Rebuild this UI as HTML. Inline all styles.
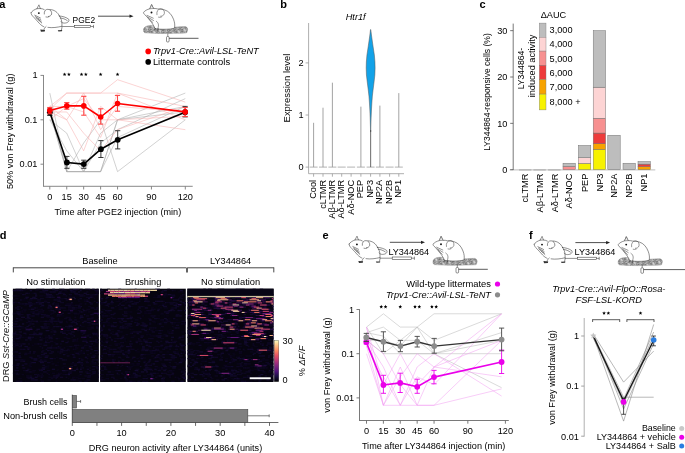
<!DOCTYPE html>
<html><head><meta charset="utf-8"><style>
html,body{margin:0;padding:0;background:#fff;}
svg{display:block;font-family:"Liberation Sans", sans-serif;will-change:transform;}
</style></head><body>
<svg width="685" height="453" viewBox="0 0 685 453">
<rect width="685" height="453" fill="#fff"/>
<defs><pattern id="mesh" width="6.0" height="6.0" patternUnits="userSpaceOnUse" patternTransform="rotate(-15)"><rect width="6.0" height="6.0" fill="#e0e0e0"/><rect x="0.00" y="0.00" width="0.75" height="0.75" fill="#444"/><rect x="0.00" y="0.75" width="0.75" height="0.75" fill="#666"/><rect x="0.00" y="2.25" width="0.75" height="0.75" fill="#333"/><rect x="0.00" y="3.75" width="0.75" height="0.75" fill="#444"/><rect x="0.00" y="4.50" width="0.75" height="0.75" fill="#666"/><rect x="0.00" y="5.25" width="0.75" height="0.75" fill="#666"/><rect x="0.75" y="0.00" width="0.75" height="0.75" fill="#444"/><rect x="0.75" y="0.75" width="0.75" height="0.75" fill="#444"/><rect x="0.75" y="2.25" width="0.75" height="0.75" fill="#333"/><rect x="0.75" y="3.75" width="0.75" height="0.75" fill="#333"/><rect x="0.75" y="4.50" width="0.75" height="0.75" fill="#333"/><rect x="1.50" y="0.00" width="0.75" height="0.75" fill="#666"/><rect x="1.50" y="2.25" width="0.75" height="0.75" fill="#666"/><rect x="1.50" y="3.75" width="0.75" height="0.75" fill="#555"/><rect x="1.50" y="4.50" width="0.75" height="0.75" fill="#444"/><rect x="1.50" y="5.25" width="0.75" height="0.75" fill="#555"/><rect x="2.25" y="0.75" width="0.75" height="0.75" fill="#555"/><rect x="2.25" y="1.50" width="0.75" height="0.75" fill="#666"/><rect x="2.25" y="3.00" width="0.75" height="0.75" fill="#666"/><rect x="3.00" y="3.00" width="0.75" height="0.75" fill="#555"/><rect x="3.75" y="0.75" width="0.75" height="0.75" fill="#555"/><rect x="3.75" y="1.50" width="0.75" height="0.75" fill="#333"/><rect x="3.75" y="2.25" width="0.75" height="0.75" fill="#666"/><rect x="3.75" y="3.00" width="0.75" height="0.75" fill="#333"/><rect x="3.75" y="3.75" width="0.75" height="0.75" fill="#444"/><rect x="3.75" y="4.50" width="0.75" height="0.75" fill="#666"/><rect x="4.50" y="0.75" width="0.75" height="0.75" fill="#333"/><rect x="4.50" y="1.50" width="0.75" height="0.75" fill="#555"/><rect x="4.50" y="3.75" width="0.75" height="0.75" fill="#444"/><rect x="4.50" y="5.25" width="0.75" height="0.75" fill="#333"/><rect x="5.25" y="0.00" width="0.75" height="0.75" fill="#333"/><rect x="5.25" y="2.25" width="0.75" height="0.75" fill="#555"/><rect x="5.25" y="3.00" width="0.75" height="0.75" fill="#333"/><rect x="5.25" y="4.50" width="0.75" height="0.75" fill="#555"/></pattern></defs>
<text x="-0.8" y="7.9" font-size="11.00" text-anchor="start" fill="#000" style="font-weight:bold;">a</text>
<g transform="translate(30.45 5.0) scale(1.0)">
<path d="M6.4,3.7 L8.5,-0.2 L9.9,3.5 Z" fill="#f4f4f4" stroke="#333" stroke-width="0.5" stroke-linejoin="round"/>
<g fill="none" stroke="#333" stroke-width="0.55" stroke-linecap="round" stroke-linejoin="round">
<path d="M0.6,7.7 C1.5,6 4,4.5 6.4,3.7 M9.9,3.5 C11.5,3.6 12.8,4 13.8,4.6"/>
<path d="M13.8,9 C13.5,6 15,4.3 17.5,4.3 C20,4.5 21.5,6.5 21.2,9 C20.8,10.5 19.5,11.3 18,11.5"/>
<path d="M19.5,4.5 C24,4.6 27.5,7.5 29,11"/>
<path d="M28.8,11 C32,11.2 36,12.3 38.3,14.3 C39.2,16.3 37.3,18 34,18.1 C32.5,18.1 31.2,17.6 30.6,16.7 M29.8,13 C32,13 35,14.2 36.8,15.6"/>
<path d="M29,11 C30.6,13 31.5,16 31.5,19.2 L31.5,22.5 L31,25"/>
<path d="M31.3,21.3 C27,22.3 22,23.1 17.5,22.4"/>
<path d="M15.6,21.5 C14.2,22.6 13.6,23.7 13.4,25.2"/>
<path d="M0.6,7.7 C0.4,9.3 1.8,10.8 3.2,12.1 C5,14 7,16.2 9,18.5 C10.7,20.3 12.2,21.2 13.5,21.8"/>
<path d="M4.3,10.2 L10,13 M4.8,11.6 L10.5,15 M5.8,13 L10.8,16.7 M7.5,14.5 L11.3,18"/>
<path d="M15.5,12 C16.5,12.3 17.5,12.2 18.5,11.8"/>
</g>
<circle cx="8.4" cy="8.1" r="0.95" fill="#111"/>
<path d="M9.8,24.6 L14.6,25 L14.3,26.5 L10.5,26.7 Z M27.3,25.2 L31.8,25.1 L31.5,26.3 L28,26.5 Z" fill="#333"/>
</g>
<g transform="translate(62.2 26.5) scale(1.0)" fill="none" stroke="#333" stroke-width="0.55"><line x1="0" y1="0" x2="12.1" y2="0"/><rect x="12.1" y="-1.2" width="16.4" height="2.4" fill="#fff"/><line x1="28.5" y1="0" x2="31.3" y2="0"/><line x1="31.3" y1="-1.6" x2="31.3" y2="1.6"/></g>
<text x="72.6" y="22.7" font-size="9.63" text-anchor="start" fill="#000" style="" textLength="22.5" lengthAdjust="spacingAndGlyphs">PGE2</text>
<line x1="98" y1="16.2" x2="130.5" y2="16.2" stroke="#222" stroke-width="0.8"/>
<path d="M133.5,16.2 L129.5,14.6 L129.5,17.8 Z" fill="#222"/>
<g transform="translate(143.3 4.2) scale(1.0)"><path d="M0.5,24 C2,21.5 6,21 10,21.3 C14,21.6 18,23.5 24,23.8 C30,23.2 36,22.2 42,22.4 C44.5,23 44.8,25.5 44,27 C43.5,28 44,28.6 42.5,28.8 C30,29.4 12,29.6 1.5,28.6 C-0.3,27.8 0,25.5 0.5,24 Z" fill="url(#mesh)" stroke="#666" stroke-width="0.3"/>
<path d="M0.3,8.1 C1.5,6.5 4,5.2 6.5,4.6 L8.3,0.4 L10.2,4.3 C12,4.2 13.5,4.4 14.5,4.8 C17,4.6 19.5,5 21.5,5.8 C25.5,7 28.5,10.5 30.2,15 C31.5,18.5 31.7,21 31.2,24 L27,24.8 C22,25.2 17,25.2 13,24.6 L11.5,24 C10.8,22 9.8,20.5 8.2,18.2 C6.2,15.6 4,13 2,10.8 C1,10.2 0.1,9.2 0.3,8.1 Z" fill="#fff" stroke="#333" stroke-width="0.55" stroke-linejoin="round"/>
<path d="M6.5,4.6 L8.3,0.4 L10.2,4.3 Z" fill="#eee" stroke="#333" stroke-width="0.45" stroke-linejoin="round"/>
<g fill="none" stroke="#333" stroke-width="0.5" stroke-linecap="round" stroke-linejoin="round">
<path d="M13.6,10.5 C13,7.2 14.6,4.8 17.5,4.7 C20.4,4.8 21.5,7 21,9.5 C20.5,11.3 19,12 17.4,12"/>
<path d="M3.8,11.2 L10,14 M4.3,12.7 L10.2,16.3 M5.3,14.2 L9.5,18.3"/>
<path d="M13,17 C15,18.5 16,20.5 14.5,24.5"/>
<path d="M12,24.3 L11,26 M15,24.6 L14.5,26.3"/>
<path d="M15.2,13 C16.2,13.3 17.2,13.2 18.2,12.8"/>
</g>
<circle cx="8.2" cy="8.3" r="0.95" fill="#111"/>
</g>
<g fill="none" stroke="#333" stroke-width="0.55"><line x1="167.8" y1="33.5" x2="167.8" y2="36.5"/><rect x="166.5" y="36.5" width="2.6" height="5.5" rx="1" fill="#fff"/><line x1="169.10000000000002" y1="38.3" x2="198.5" y2="38.3" stroke-width="0.8"/></g>
<circle cx="148.2" cy="51.4" r="2.8" fill="#ff0000"/>
<text x="152.9" y="54.4" font-size="9.84" text-anchor="start" fill="#000" style="font-style:italic;" textLength="105.9" lengthAdjust="spacingAndGlyphs">Trpv1-Cre::Avil-LSL-TeNT</text>
<circle cx="148.2" cy="61.9" r="2.8" fill="#000"/>
<text x="152.9" y="65.1" font-size="9.84" text-anchor="start" fill="#000" style="" textLength="77.2" lengthAdjust="spacingAndGlyphs">Littermate controls</text>
<line x1="43.50" y1="75.00" x2="43.50" y2="186.30" stroke="#7a7a7a" stroke-width="0.9" />
<line x1="43.05" y1="186.30" x2="192.70" y2="186.30" stroke="#7a7a7a" stroke-width="0.9" />
<line x1="40.50" y1="75.40" x2="43.50" y2="75.40" stroke="#7a7a7a" stroke-width="0.9" />
<text x="37.5" y="78.30000000000001" font-size="9.84" text-anchor="end" fill="#000" style="" textLength="5.12" lengthAdjust="spacingAndGlyphs">1</text>
<line x1="40.50" y1="119.80" x2="43.50" y2="119.80" stroke="#7a7a7a" stroke-width="0.9" />
<text x="37.5" y="122.70000000000002" font-size="9.84" text-anchor="end" fill="#000" style="" textLength="12.79" lengthAdjust="spacingAndGlyphs">0.1</text>
<line x1="40.50" y1="164.20" x2="43.50" y2="164.20" stroke="#7a7a7a" stroke-width="0.9" />
<text x="37.5" y="167.1" font-size="9.84" text-anchor="end" fill="#000" style="" textLength="17.9" lengthAdjust="spacingAndGlyphs">0.01</text>
<line x1="49.80" y1="186.30" x2="49.80" y2="189.50" stroke="#7a7a7a" stroke-width="0.9" />
<text x="49.8" y="200.0" font-size="9.84" text-anchor="middle" fill="#000" style="" textLength="5.12" lengthAdjust="spacingAndGlyphs">0</text>
<line x1="66.74" y1="186.30" x2="66.74" y2="189.50" stroke="#7a7a7a" stroke-width="0.9" />
<text x="66.7375" y="200.0" font-size="9.84" text-anchor="middle" fill="#000" style="" textLength="10.23" lengthAdjust="spacingAndGlyphs">15</text>
<line x1="83.67" y1="186.30" x2="83.67" y2="189.50" stroke="#7a7a7a" stroke-width="0.9" />
<text x="83.675" y="200.0" font-size="9.84" text-anchor="middle" fill="#000" style="" textLength="10.23" lengthAdjust="spacingAndGlyphs">30</text>
<line x1="100.61" y1="186.30" x2="100.61" y2="189.50" stroke="#7a7a7a" stroke-width="0.9" />
<text x="100.6125" y="200.0" font-size="9.84" text-anchor="middle" fill="#000" style="" textLength="10.23" lengthAdjust="spacingAndGlyphs">45</text>
<line x1="117.55" y1="186.30" x2="117.55" y2="189.50" stroke="#7a7a7a" stroke-width="0.9" />
<text x="117.55" y="200.0" font-size="9.84" text-anchor="middle" fill="#000" style="" textLength="10.23" lengthAdjust="spacingAndGlyphs">60</text>
<line x1="151.43" y1="186.30" x2="151.43" y2="189.50" stroke="#7a7a7a" stroke-width="0.9" />
<text x="151.425" y="200.0" font-size="9.84" text-anchor="middle" fill="#000" style="" textLength="10.23" lengthAdjust="spacingAndGlyphs">90</text>
<line x1="185.30" y1="186.30" x2="185.30" y2="189.50" stroke="#7a7a7a" stroke-width="0.9" />
<text x="185.3" y="200.0" font-size="9.84" text-anchor="middle" fill="#000" style="" textLength="15.35" lengthAdjust="spacingAndGlyphs">120</text>
<text x="54.6" y="214.8" font-size="9.84" text-anchor="start" fill="#000" style="" textLength="126.6" lengthAdjust="spacingAndGlyphs">Time after PGE2 injection (min)</text>
<text x="13.4" y="131.3" font-size="9.84" text-anchor="middle" fill="#000" style="" transform="rotate(-90 13.4 131.3)" textLength="115.5" lengthAdjust="spacingAndGlyphs">50% von Frey withdrawal (g)</text>
<polygon points="64.59,72.45 65.09,73.71 66.44,73.80 65.40,74.66 65.73,75.98 64.59,75.25 63.44,75.98 63.78,74.66 62.73,73.80 64.09,73.71" fill="#000"/>
<polygon points="68.89,72.45 69.39,73.71 70.74,73.80 69.70,74.66 70.03,75.98 68.89,75.25 67.74,75.98 68.08,74.66 67.03,73.80 68.39,73.71" fill="#000"/>
<polygon points="81.52,72.45 82.02,73.71 83.38,73.80 82.33,74.66 82.67,75.98 81.52,75.25 80.38,75.98 80.72,74.66 79.67,73.80 81.03,73.71" fill="#000"/>
<polygon points="85.83,72.45 86.32,73.71 87.68,73.80 86.63,74.66 86.97,75.98 85.83,75.25 84.68,75.98 85.02,74.66 83.97,73.80 85.33,73.71" fill="#000"/>
<polygon points="100.61,72.45 101.11,73.71 102.47,73.80 101.42,74.66 101.76,75.98 100.61,75.25 99.47,75.98 99.80,74.66 98.76,73.80 100.11,73.71" fill="#000"/>
<polygon points="117.55,72.45 118.05,73.71 119.40,73.80 118.36,74.66 118.70,75.98 117.55,75.25 116.40,75.98 116.74,74.66 115.70,73.80 117.05,73.71" fill="#000"/>
<polyline points="49.80,93.07 66.74,171.64 83.67,171.64 100.61,171.64 117.55,119.80 185.30,93.07" fill="none" stroke="#a5a5a5" stroke-width="0.5" stroke-linejoin="round" />
<polyline points="49.80,111.98 66.74,171.64 83.67,171.64 100.61,133.17 117.55,119.80 185.30,106.43" fill="none" stroke="#a5a5a5" stroke-width="0.5" stroke-linejoin="round" />
<polyline points="49.80,119.80 66.74,133.17 83.67,171.64 100.61,171.64 117.55,137.47 185.30,106.43" fill="none" stroke="#a5a5a5" stroke-width="0.5" stroke-linejoin="round" />
<polyline points="49.80,106.43 66.74,171.64 83.67,143.02 100.61,119.80 117.55,171.64 185.30,119.80" fill="none" stroke="#a5a5a5" stroke-width="0.5" stroke-linejoin="round" />
<polyline points="49.80,111.98 66.74,171.64 83.67,171.64 100.61,171.64 117.55,119.80 185.30,111.98" fill="none" stroke="#a5a5a5" stroke-width="0.5" stroke-linejoin="round" />
<polyline points="49.80,119.80 66.74,150.83 83.67,171.64 100.61,143.02 117.55,129.65 185.30,98.62" fill="none" stroke="#a5a5a5" stroke-width="0.5" stroke-linejoin="round" />
<polyline points="49.80,106.43 66.74,93.07 83.67,93.07 100.61,93.07 117.55,93.07 185.30,106.43" fill="none" stroke="#f8b0b0" stroke-width="0.55" stroke-linejoin="round" />
<polyline points="49.80,109.57 66.74,93.07 83.67,93.07 100.61,93.07 117.55,79.70 185.30,102.13" fill="none" stroke="#f8b0b0" stroke-width="0.55" stroke-linejoin="round" />
<polyline points="49.80,111.98 66.74,119.80 83.67,93.07 100.61,129.65 117.55,106.43 185.30,111.98" fill="none" stroke="#f8b0b0" stroke-width="0.55" stroke-linejoin="round" />
<polyline points="49.80,106.43 66.74,106.43 83.67,111.98 100.61,137.47 117.55,93.07 185.30,119.80" fill="none" stroke="#f8b0b0" stroke-width="0.55" stroke-linejoin="round" />
<polyline points="49.80,119.80 66.74,106.43 83.67,98.62 100.61,119.80 117.55,119.80 185.30,129.65" fill="none" stroke="#f8b0b0" stroke-width="0.55" stroke-linejoin="round" />
<polyline points="49.80,111.98 66.74,111.98 83.67,133.17 100.61,150.83 117.55,129.65 185.30,106.43" fill="none" stroke="#f8b0b0" stroke-width="0.55" stroke-linejoin="round" />
<polyline points="49.80,106.43 66.74,119.80 83.67,150.83 100.61,106.43 117.55,119.80 185.30,116.28" fill="none" stroke="#f8b0b0" stroke-width="0.55" stroke-linejoin="round" />
<line x1="49.80" y1="109.00" x2="49.80" y2="115.50" stroke="#222" stroke-width="0.9" />
<line x1="47.20" y1="109.00" x2="52.40" y2="109.00" stroke="#222" stroke-width="0.9" />
<line x1="47.20" y1="115.50" x2="52.40" y2="115.50" stroke="#222" stroke-width="0.9" />
<line x1="66.90" y1="156.40" x2="66.90" y2="168.30" stroke="#222" stroke-width="0.9" />
<line x1="64.30" y1="156.40" x2="69.50" y2="156.40" stroke="#222" stroke-width="0.9" />
<line x1="64.30" y1="168.30" x2="69.50" y2="168.30" stroke="#222" stroke-width="0.9" />
<line x1="83.80" y1="160.20" x2="83.80" y2="168.30" stroke="#222" stroke-width="0.9" />
<line x1="81.20" y1="160.20" x2="86.40" y2="160.20" stroke="#222" stroke-width="0.9" />
<line x1="81.20" y1="168.30" x2="86.40" y2="168.30" stroke="#222" stroke-width="0.9" />
<line x1="100.90" y1="140.60" x2="100.90" y2="157.50" stroke="#222" stroke-width="0.9" />
<line x1="98.30" y1="140.60" x2="103.50" y2="140.60" stroke="#222" stroke-width="0.9" />
<line x1="98.30" y1="157.50" x2="103.50" y2="157.50" stroke="#222" stroke-width="0.9" />
<line x1="117.70" y1="130.70" x2="117.70" y2="148.90" stroke="#222" stroke-width="0.9" />
<line x1="115.10" y1="130.70" x2="120.30" y2="130.70" stroke="#222" stroke-width="0.9" />
<line x1="115.10" y1="148.90" x2="120.30" y2="148.90" stroke="#222" stroke-width="0.9" />
<line x1="185.10" y1="106.40" x2="185.10" y2="116.90" stroke="#222" stroke-width="0.9" />
<line x1="182.50" y1="106.40" x2="187.70" y2="106.40" stroke="#222" stroke-width="0.9" />
<line x1="182.50" y1="116.90" x2="187.70" y2="116.90" stroke="#222" stroke-width="0.9" />
<polyline points="49.80,112.30 66.90,162.50 83.80,164.10 100.90,149.20 117.70,139.80 185.10,112.20" fill="none" stroke="#000" stroke-width="1.6" stroke-linejoin="round" />
<circle cx="49.8" cy="112.3" r="2.9" fill="#000"/>
<circle cx="66.9" cy="162.5" r="2.9" fill="#000"/>
<circle cx="83.8" cy="164.1" r="2.9" fill="#000"/>
<circle cx="100.9" cy="149.2" r="2.9" fill="#000"/>
<circle cx="117.7" cy="139.8" r="2.9" fill="#000"/>
<circle cx="185.1" cy="112.2" r="2.9" fill="#000"/>
<line x1="49.80" y1="107.50" x2="49.80" y2="113.80" stroke="#ff4545" stroke-width="1.1" />
<line x1="47.20" y1="107.50" x2="52.40" y2="107.50" stroke="#ff4545" stroke-width="1.1" />
<line x1="47.20" y1="113.80" x2="52.40" y2="113.80" stroke="#ff4545" stroke-width="1.1" />
<line x1="66.80" y1="102.60" x2="66.80" y2="109.20" stroke="#ff4545" stroke-width="1.1" />
<line x1="64.20" y1="102.60" x2="69.40" y2="102.60" stroke="#ff4545" stroke-width="1.1" />
<line x1="64.20" y1="109.20" x2="69.40" y2="109.20" stroke="#ff4545" stroke-width="1.1" />
<line x1="83.80" y1="96.30" x2="83.80" y2="115.20" stroke="#ff4545" stroke-width="1.1" />
<line x1="81.20" y1="96.30" x2="86.40" y2="96.30" stroke="#ff4545" stroke-width="1.1" />
<line x1="81.20" y1="115.20" x2="86.40" y2="115.20" stroke="#ff4545" stroke-width="1.1" />
<line x1="100.70" y1="108.80" x2="100.70" y2="124.10" stroke="#ff4545" stroke-width="1.1" />
<line x1="98.10" y1="108.80" x2="103.30" y2="108.80" stroke="#ff4545" stroke-width="1.1" />
<line x1="98.10" y1="124.10" x2="103.30" y2="124.10" stroke="#ff4545" stroke-width="1.1" />
<line x1="117.50" y1="95.40" x2="117.50" y2="111.20" stroke="#ff4545" stroke-width="1.1" />
<line x1="114.90" y1="95.40" x2="120.10" y2="95.40" stroke="#ff4545" stroke-width="1.1" />
<line x1="114.90" y1="111.20" x2="120.10" y2="111.20" stroke="#ff4545" stroke-width="1.1" />
<line x1="185.20" y1="107.50" x2="185.20" y2="116.50" stroke="#ff4545" stroke-width="1.1" />
<line x1="182.60" y1="107.50" x2="187.80" y2="107.50" stroke="#ff4545" stroke-width="1.1" />
<line x1="182.60" y1="116.50" x2="187.80" y2="116.50" stroke="#ff4545" stroke-width="1.1" />
<polyline points="49.80,110.60 66.80,105.90 83.80,105.90 100.70,117.00 117.50,103.50 185.20,111.90" fill="none" stroke="#ff0000" stroke-width="1.6" stroke-linejoin="round" />
<circle cx="49.8" cy="110.6" r="2.8" fill="#ff0000"/>
<circle cx="66.8" cy="105.9" r="2.8" fill="#ff0000"/>
<circle cx="83.8" cy="105.9" r="2.8" fill="#ff0000"/>
<circle cx="100.7" cy="117" r="2.8" fill="#ff0000"/>
<circle cx="117.5" cy="103.5" r="2.8" fill="#ff0000"/>
<circle cx="185.2" cy="111.9" r="2.8" fill="#ff0000"/>
<text x="280.3" y="7.6" font-size="11.00" text-anchor="start" fill="#000" style="font-weight:bold;">b</text>
<text x="355.7" y="20.3" font-size="9.84" text-anchor="middle" fill="#000" style="font-style:italic;" textLength="19.94" lengthAdjust="spacingAndGlyphs">Htr1f</text>
<line x1="308.60" y1="23.00" x2="308.60" y2="173.70" stroke="#999" stroke-width="0.8" />
<line x1="308.60" y1="173.70" x2="404.00" y2="173.70" stroke="#999" stroke-width="0.8" />
<line x1="305.60" y1="167.10" x2="308.60" y2="167.10" stroke="#999" stroke-width="0.8" />
<text x="303.5" y="170.4" font-size="9.84" text-anchor="end" fill="#000" style="" textLength="5.12" lengthAdjust="spacingAndGlyphs">0</text>
<line x1="305.60" y1="115.00" x2="308.60" y2="115.00" stroke="#999" stroke-width="0.8" />
<text x="303.5" y="118.3" font-size="9.84" text-anchor="end" fill="#000" style="" textLength="5.12" lengthAdjust="spacingAndGlyphs">1</text>
<line x1="305.60" y1="62.90" x2="308.60" y2="62.90" stroke="#999" stroke-width="0.8" />
<text x="303.5" y="66.19999999999999" font-size="9.84" text-anchor="end" fill="#000" style="" textLength="5.12" lengthAdjust="spacingAndGlyphs">2</text>
<text x="289.8" y="88" font-size="9.84" text-anchor="middle" fill="#000" style="" transform="rotate(-90 289.8 88)" textLength="68.8" lengthAdjust="spacingAndGlyphs">Expression level</text>
<line x1="313.60" y1="173.70" x2="313.60" y2="176.70" stroke="#999" stroke-width="0.8" />
<line x1="309.60" y1="167.10" x2="317.60" y2="167.10" stroke="#aaa" stroke-width="0.9" />
<line x1="313.60" y1="167.10" x2="313.60" y2="122.81" stroke="#999" stroke-width="0.9" />
<text x="316.20000000000005" y="179.9" font-size="9.84" text-anchor="end" fill="#000" style="" transform="rotate(-90 316.20000000000005 179.9)" textLength="18.92" lengthAdjust="spacingAndGlyphs">Cool</text>
<line x1="323.00" y1="173.70" x2="323.00" y2="176.70" stroke="#999" stroke-width="0.8" />
<line x1="319.00" y1="167.10" x2="327.00" y2="167.10" stroke="#aaa" stroke-width="0.9" />
<line x1="323.00" y1="167.10" x2="323.00" y2="107.71" stroke="#999" stroke-width="0.9" />
<text x="325.6" y="179.9" font-size="9.84" text-anchor="end" fill="#000" style="" transform="rotate(-90 325.6 179.9)" textLength="28.96" lengthAdjust="spacingAndGlyphs">cLTMR</text>
<line x1="332.40" y1="173.70" x2="332.40" y2="176.70" stroke="#999" stroke-width="0.8" />
<line x1="328.40" y1="167.10" x2="336.40" y2="167.10" stroke="#aaa" stroke-width="0.9" />
<line x1="332.40" y1="167.10" x2="332.40" y2="82.70" stroke="#999" stroke-width="0.9" />
<text x="335.0" y="179.9" font-size="9.84" text-anchor="end" fill="#000" style="" transform="rotate(-90 335.0 179.9)" textLength="38.85" lengthAdjust="spacingAndGlyphs">A&#946;-LTMR</text>
<line x1="341.70" y1="173.70" x2="341.70" y2="176.70" stroke="#999" stroke-width="0.8" />
<line x1="337.70" y1="167.10" x2="345.70" y2="167.10" stroke="#aaa" stroke-width="0.9" />
<text x="344.3" y="179.9" font-size="9.84" text-anchor="end" fill="#000" style="" transform="rotate(-90 344.3 179.9)" textLength="38.68" lengthAdjust="spacingAndGlyphs">A&#948;-LTMR</text>
<line x1="351.10" y1="173.70" x2="351.10" y2="176.70" stroke="#999" stroke-width="0.8" />
<line x1="347.10" y1="167.10" x2="355.10" y2="167.10" stroke="#aaa" stroke-width="0.9" />
<text x="353.70000000000005" y="179.9" font-size="9.84" text-anchor="end" fill="#000" style="" transform="rotate(-90 353.70000000000005 179.9)" textLength="34.77" lengthAdjust="spacingAndGlyphs">A&#948;-NOC</text>
<line x1="360.90" y1="173.70" x2="360.90" y2="176.70" stroke="#999" stroke-width="0.8" />
<line x1="356.90" y1="167.10" x2="364.90" y2="167.10" stroke="#aaa" stroke-width="0.9" />
<line x1="360.90" y1="167.10" x2="360.90" y2="106.66" stroke="#999" stroke-width="0.9" />
<text x="363.5" y="179.9" font-size="9.84" text-anchor="end" fill="#000" style="" transform="rotate(-90 363.5 179.9)" textLength="18.41" lengthAdjust="spacingAndGlyphs">PEP</text>
<line x1="370.60" y1="173.70" x2="370.60" y2="176.70" stroke="#999" stroke-width="0.8" />
<line x1="366.60" y1="167.10" x2="374.60" y2="167.10" stroke="#aaa" stroke-width="0.9" />
<text x="373.20000000000005" y="179.9" font-size="9.84" text-anchor="end" fill="#000" style="" transform="rotate(-90 373.20000000000005 179.9)" textLength="17.9" lengthAdjust="spacingAndGlyphs">NP3</text>
<line x1="379.90" y1="173.70" x2="379.90" y2="176.70" stroke="#999" stroke-width="0.8" />
<line x1="375.90" y1="167.10" x2="383.90" y2="167.10" stroke="#aaa" stroke-width="0.9" />
<line x1="379.90" y1="167.10" x2="379.90" y2="105.62" stroke="#999" stroke-width="0.9" />
<text x="382.5" y="179.9" font-size="9.84" text-anchor="end" fill="#000" style="" transform="rotate(-90 382.5 179.9)" textLength="24.03" lengthAdjust="spacingAndGlyphs">NP2A</text>
<line x1="389.60" y1="173.70" x2="389.60" y2="176.70" stroke="#999" stroke-width="0.8" />
<line x1="385.60" y1="167.10" x2="393.60" y2="167.10" stroke="#aaa" stroke-width="0.9" />
<text x="392.20000000000005" y="179.9" font-size="9.84" text-anchor="end" fill="#000" style="" transform="rotate(-90 392.20000000000005 179.9)" textLength="24.03" lengthAdjust="spacingAndGlyphs">NP2B</text>
<line x1="398.80" y1="173.70" x2="398.80" y2="176.70" stroke="#999" stroke-width="0.8" />
<line x1="394.80" y1="167.10" x2="402.80" y2="167.10" stroke="#aaa" stroke-width="0.9" />
<line x1="398.80" y1="167.10" x2="398.80" y2="93.12" stroke="#999" stroke-width="0.9" />
<text x="401.40000000000003" y="179.9" font-size="9.84" text-anchor="end" fill="#000" style="" transform="rotate(-90 401.40000000000003 179.9)" textLength="17.9" lengthAdjust="spacingAndGlyphs">NP1</text>
<path d="M370.80,29.60 L371.45,35.00 L372.85,45.00 L374.35,55.00 L374.95,62.00 L375.10,68.00 L374.85,75.00 L374.05,82.00 L373.05,90.00 L372.35,96.00 L371.85,103.00 L371.45,110.00 L371.10,118.00 L370.85,127.00 L370.75,132.00 L370.55,132.00 L370.45,127.00 L370.20,118.00 L369.85,110.00 L369.45,103.00 L368.95,96.00 L368.25,90.00 L367.25,82.00 L366.45,75.00 L366.20,68.00 L366.35,62.00 L366.95,55.00 L368.45,45.00 L369.85,35.00 L370.50,29.60 Z" fill="#12a2e8" stroke="#555" stroke-width="0.5" stroke-linejoin="round"/>
<line x1="370.65" y1="130.00" x2="370.65" y2="167.10" stroke="#444" stroke-width="0.8" />
<text x="479.5" y="8.3" font-size="11.00" text-anchor="start" fill="#000" style="font-weight:bold;">c</text>
<line x1="509.80" y1="169.90" x2="655.30" y2="169.90" stroke="#bdbdbd" stroke-width="1.0" />
<line x1="513.20" y1="23.60" x2="513.20" y2="170.00" stroke="#555" stroke-width="0.8" />
<line x1="510.20" y1="169.70" x2="513.20" y2="169.70" stroke="#555" stroke-width="0.8" />
<text x="507.4" y="173.0" font-size="9.84" text-anchor="end" fill="#000" style="" textLength="5.12" lengthAdjust="spacingAndGlyphs">0</text>
<line x1="510.20" y1="123.35" x2="513.20" y2="123.35" stroke="#555" stroke-width="0.8" />
<text x="507.4" y="126.64999999999999" font-size="9.84" text-anchor="end" fill="#000" style="" textLength="10.23" lengthAdjust="spacingAndGlyphs">10</text>
<line x1="510.20" y1="77.00" x2="513.20" y2="77.00" stroke="#555" stroke-width="0.8" />
<text x="507.4" y="80.3" font-size="9.84" text-anchor="end" fill="#000" style="" textLength="10.23" lengthAdjust="spacingAndGlyphs">20</text>
<line x1="510.20" y1="30.65" x2="513.20" y2="30.65" stroke="#555" stroke-width="0.8" />
<text x="507.4" y="33.95" font-size="9.84" text-anchor="end" fill="#000" style="" textLength="10.23" lengthAdjust="spacingAndGlyphs">30</text>
<text x="490.0" y="92" font-size="9.84" text-anchor="middle" fill="#000" style="" transform="rotate(-90 490.0 92)" textLength="117.6" lengthAdjust="spacingAndGlyphs">LY344864-responsive cells (%)</text>
<text x="553.5" y="17.9" font-size="9.84" text-anchor="middle" fill="#000" style="" textLength="25.57" lengthAdjust="spacingAndGlyphs">&#916;AUC</text>
<rect x="539.3" y="23.1" width="6.7" height="14.100000000000001" fill="#bdbdbd" stroke="#777" stroke-width="0.4"/>
<text x="549.6" y="33.45" font-size="9.84" text-anchor="start" fill="#000" style="" textLength="23.02" lengthAdjust="spacingAndGlyphs">3,000</text>
<rect x="539.3" y="37.2" width="6.7" height="13.899999999999999" fill="#fdd4d4" stroke="#777" stroke-width="0.4"/>
<text x="549.6" y="47.45" font-size="9.84" text-anchor="start" fill="#000" style="" textLength="23.02" lengthAdjust="spacingAndGlyphs">4,000</text>
<rect x="539.3" y="51.1" width="6.7" height="14.300000000000004" fill="#f79090" stroke="#777" stroke-width="0.4"/>
<text x="549.6" y="61.55" font-size="9.84" text-anchor="start" fill="#000" style="" textLength="23.02" lengthAdjust="spacingAndGlyphs">5,000</text>
<rect x="539.3" y="65.4" width="6.7" height="14.099999999999994" fill="#ee3b3b" stroke="#777" stroke-width="0.4"/>
<text x="549.6" y="75.75" font-size="9.84" text-anchor="start" fill="#000" style="" textLength="23.02" lengthAdjust="spacingAndGlyphs">6,000</text>
<rect x="539.3" y="79.5" width="6.7" height="14.599999999999994" fill="#f7a300" stroke="#777" stroke-width="0.4"/>
<text x="549.6" y="90.1" font-size="9.84" text-anchor="start" fill="#000" style="" textLength="23.02" lengthAdjust="spacingAndGlyphs">7,000</text>
<rect x="539.3" y="94.1" width="6.7" height="15.800000000000011" fill="#f7f200" stroke="#777" stroke-width="0.4"/>
<text x="549.6" y="105.3" font-size="9.84" text-anchor="start" fill="#000" style="" textLength="30.95" lengthAdjust="spacingAndGlyphs">8,000 +</text>
<text x="524.3" y="68.6" font-size="9.84" text-anchor="middle" fill="#000" style="" transform="rotate(-90 524.3 68.6)" textLength="41.5" lengthAdjust="spacingAndGlyphs">LY344864-</text>
<text x="535.1" y="66.0" font-size="9.84" text-anchor="middle" fill="#000" style="" transform="rotate(-90 535.1 66.0)" textLength="62.6" lengthAdjust="spacingAndGlyphs">induced activity</text>
<text x="528.5" y="173.6" font-size="9.84" text-anchor="end" fill="#000" style="" transform="rotate(-90 528.5 173.6)" textLength="28.96" lengthAdjust="spacingAndGlyphs">cLTMR</text>
<line x1="519.00" y1="169.90" x2="531.40" y2="169.90" stroke="#b0b0b0" stroke-width="1.2" />
<text x="542.9" y="173.6" font-size="9.84" text-anchor="end" fill="#000" style="" transform="rotate(-90 542.9 173.6)" textLength="38.85" lengthAdjust="spacingAndGlyphs">A&#946;-LTMR</text>
<line x1="533.40" y1="169.90" x2="545.80" y2="169.90" stroke="#b0b0b0" stroke-width="1.2" />
<text x="557.5999999999999" y="173.6" font-size="9.84" text-anchor="end" fill="#000" style="" transform="rotate(-90 557.5999999999999 173.6)" textLength="38.68" lengthAdjust="spacingAndGlyphs">A&#948;-LTMR</text>
<line x1="548.10" y1="169.90" x2="560.50" y2="169.90" stroke="#b0b0b0" stroke-width="1.2" />
<text x="572.5" y="173.6" font-size="9.84" text-anchor="end" fill="#000" style="" transform="rotate(-90 572.5 173.6)" textLength="34.77" lengthAdjust="spacingAndGlyphs">A&#948;-NOC</text>
<rect x="563.00" y="166.41" width="12.4" height="3.29" fill="#f79090" stroke="#6a6a6a" stroke-width="0.45"/>
<rect x="563.00" y="163.21" width="12.4" height="3.20" fill="#bdbdbd" stroke="#6a6a6a" stroke-width="0.45"/>
<text x="587.9" y="173.6" font-size="9.84" text-anchor="end" fill="#000" style="" transform="rotate(-90 587.9 173.6)" textLength="18.41" lengthAdjust="spacingAndGlyphs">PEP</text>
<rect x="578.40" y="163.40" width="12.4" height="6.30" fill="#f7f200" stroke="#6a6a6a" stroke-width="0.45"/>
<rect x="578.40" y="157.65" width="12.4" height="5.75" fill="#fdd4d4" stroke="#6a6a6a" stroke-width="0.45"/>
<rect x="578.40" y="145.41" width="12.4" height="12.24" fill="#bdbdbd" stroke="#6a6a6a" stroke-width="0.45"/>
<text x="602.6999999999999" y="173.6" font-size="9.84" text-anchor="end" fill="#000" style="" transform="rotate(-90 602.6999999999999 173.6)" textLength="17.9" lengthAdjust="spacingAndGlyphs">NP3</text>
<rect x="593.20" y="149.31" width="12.4" height="20.39" fill="#f7f200" stroke="#6a6a6a" stroke-width="0.45"/>
<rect x="593.20" y="143.74" width="12.4" height="5.56" fill="#f7a300" stroke="#6a6a6a" stroke-width="0.45"/>
<rect x="593.20" y="133.08" width="12.4" height="10.66" fill="#ee3b3b" stroke="#6a6a6a" stroke-width="0.45"/>
<rect x="593.20" y="118.25" width="12.4" height="14.83" fill="#f79090" stroke="#6a6a6a" stroke-width="0.45"/>
<rect x="593.20" y="87.20" width="12.4" height="31.05" fill="#fdd4d4" stroke="#6a6a6a" stroke-width="0.45"/>
<rect x="593.20" y="30.65" width="12.4" height="56.55" fill="#bdbdbd" stroke="#6a6a6a" stroke-width="0.45"/>
<text x="617.3" y="173.6" font-size="9.84" text-anchor="end" fill="#000" style="" transform="rotate(-90 617.3 173.6)" textLength="24.03" lengthAdjust="spacingAndGlyphs">NP2A</text>
<rect x="607.80" y="135.22" width="12.4" height="34.48" fill="#bdbdbd" stroke="#6a6a6a" stroke-width="0.45"/>
<text x="632.5" y="173.6" font-size="9.84" text-anchor="end" fill="#000" style="" transform="rotate(-90 632.5 173.6)" textLength="24.03" lengthAdjust="spacingAndGlyphs">NP2B</text>
<rect x="623.00" y="163.21" width="12.4" height="6.49" fill="#bdbdbd" stroke="#6a6a6a" stroke-width="0.45"/>
<text x="647.5" y="173.6" font-size="9.84" text-anchor="end" fill="#000" style="" transform="rotate(-90 647.5 173.6)" textLength="17.9" lengthAdjust="spacingAndGlyphs">NP1</text>
<rect x="638.00" y="166.59" width="12.4" height="3.11" fill="#f7a300" stroke="#6a6a6a" stroke-width="0.45"/>
<rect x="638.00" y="164.14" width="12.4" height="2.46" fill="#ee3b3b" stroke="#6a6a6a" stroke-width="0.45"/>
<rect x="638.00" y="161.50" width="12.4" height="2.64" fill="#bdbdbd" stroke="#6a6a6a" stroke-width="0.45"/>
<text x="-0.3" y="239.2" font-size="11.00" text-anchor="start" fill="#000" style="font-weight:bold;">d</text>
<rect x="12.9" y="288.7" width="86.00" height="93.30" fill="#06040f"/>
<rect x="15.53" y="288.70" width="3.81" height="1.20" fill="#0f0927" opacity="0.9"/>
<rect x="19.34" y="288.70" width="2.97" height="1.20" fill="#0f0927" opacity="0.9"/>
<rect x="25.38" y="288.70" width="1.74" height="1.20" fill="#0a061a" opacity="0.9"/>
<rect x="36.16" y="288.70" width="3.04" height="1.20" fill="#090518" opacity="0.9"/>
<rect x="39.20" y="288.70" width="2.82" height="1.20" fill="#0b061d" opacity="0.9"/>
<rect x="42.02" y="288.70" width="2.10" height="1.20" fill="#0f0825" opacity="0.9"/>
<rect x="52.27" y="288.70" width="2.64" height="1.20" fill="#160c35" opacity="0.9"/>
<rect x="58.91" y="288.70" width="3.27" height="1.20" fill="#0c071e" opacity="0.9"/>
<rect x="62.18" y="288.70" width="2.22" height="1.20" fill="#130b2e" opacity="0.9"/>
<rect x="69.37" y="288.70" width="3.62" height="1.20" fill="#0b061e" opacity="0.9"/>
<rect x="72.98" y="288.70" width="3.78" height="1.20" fill="#150c35" opacity="0.9"/>
<rect x="76.76" y="288.70" width="2.49" height="1.20" fill="#110a2a" opacity="0.9"/>
<rect x="79.25" y="288.70" width="3.45" height="1.20" fill="#0a061a" opacity="0.9"/>
<rect x="85.03" y="288.70" width="3.40" height="1.20" fill="#0c071f" opacity="0.9"/>
<rect x="88.43" y="288.70" width="1.75" height="1.20" fill="#130b2f" opacity="0.9"/>
<rect x="92.12" y="288.70" width="2.62" height="1.20" fill="#120a2d" opacity="0.9"/>
<rect x="96.57" y="288.70" width="1.79" height="1.20" fill="#0b061e" opacity="0.9"/>
<rect x="12.90" y="290.03" width="3.51" height="1.20" fill="#140b32" opacity="0.9"/>
<rect x="16.41" y="290.03" width="2.03" height="1.20" fill="#140b31" opacity="0.9"/>
<rect x="18.44" y="290.03" width="3.10" height="1.20" fill="#150c35" opacity="0.9"/>
<rect x="21.54" y="290.03" width="2.03" height="1.20" fill="#130b2f" opacity="0.9"/>
<rect x="23.57" y="290.03" width="2.32" height="1.20" fill="#0a051a" opacity="0.9"/>
<rect x="29.73" y="290.03" width="2.43" height="1.20" fill="#150c34" opacity="0.9"/>
<rect x="34.87" y="290.03" width="3.67" height="1.20" fill="#0b061c" opacity="0.9"/>
<rect x="42.30" y="290.03" width="2.12" height="1.20" fill="#120a2e" opacity="0.9"/>
<rect x="44.43" y="290.03" width="3.85" height="1.20" fill="#150c34" opacity="0.9"/>
<rect x="51.98" y="290.03" width="2.55" height="1.20" fill="#090519" opacity="0.9"/>
<rect x="54.54" y="290.03" width="3.91" height="1.20" fill="#120a2d" opacity="0.9"/>
<rect x="60.59" y="290.03" width="2.99" height="1.20" fill="#0b061d" opacity="0.9"/>
<rect x="63.58" y="290.03" width="3.30" height="1.20" fill="#0c071e" opacity="0.9"/>
<rect x="69.78" y="290.03" width="3.04" height="1.20" fill="#140c33" opacity="0.9"/>
<rect x="72.81" y="290.03" width="2.01" height="1.20" fill="#0c0720" opacity="0.9"/>
<rect x="74.82" y="290.03" width="2.61" height="1.20" fill="#0b061d" opacity="0.9"/>
<rect x="79.86" y="290.03" width="1.83" height="1.20" fill="#140c32" opacity="0.9"/>
<rect x="88.87" y="290.03" width="1.85" height="1.20" fill="#090518" opacity="0.9"/>
<rect x="94.49" y="290.03" width="3.91" height="1.20" fill="#110a2a" opacity="0.9"/>
<rect x="39.39" y="291.37" width="3.06" height="1.20" fill="#100929" opacity="0.9"/>
<rect x="42.45" y="291.37" width="3.02" height="1.20" fill="#110a2b" opacity="0.9"/>
<rect x="49.45" y="291.37" width="3.32" height="1.20" fill="#120a2d" opacity="0.9"/>
<rect x="52.78" y="291.37" width="2.95" height="1.20" fill="#130b30" opacity="0.9"/>
<rect x="59.01" y="291.37" width="2.70" height="1.20" fill="#120a2c" opacity="0.9"/>
<rect x="64.46" y="291.37" width="3.80" height="1.20" fill="#090518" opacity="0.9"/>
<rect x="70.51" y="291.37" width="2.01" height="1.20" fill="#140c32" opacity="0.9"/>
<rect x="72.52" y="291.37" width="3.15" height="1.20" fill="#140c32" opacity="0.9"/>
<rect x="77.98" y="291.37" width="2.00" height="1.20" fill="#130b2f" opacity="0.9"/>
<rect x="86.23" y="291.37" width="2.29" height="1.20" fill="#0f0926" opacity="0.9"/>
<rect x="95.39" y="291.37" width="2.19" height="1.20" fill="#0e0825" opacity="0.9"/>
<rect x="97.58" y="291.37" width="1.32" height="1.20" fill="#0e0824" opacity="0.9"/>
<rect x="18.25" y="292.70" width="3.96" height="1.20" fill="#0a051a" opacity="0.9"/>
<rect x="25.39" y="292.70" width="2.93" height="1.20" fill="#130b2f" opacity="0.9"/>
<rect x="28.32" y="292.70" width="1.55" height="1.20" fill="#0e0825" opacity="0.9"/>
<rect x="31.43" y="292.70" width="2.09" height="1.20" fill="#090519" opacity="0.9"/>
<rect x="33.52" y="292.70" width="3.07" height="1.20" fill="#110a2a" opacity="0.9"/>
<rect x="43.63" y="292.70" width="2.00" height="1.20" fill="#0b061d" opacity="0.9"/>
<rect x="45.62" y="292.70" width="1.53" height="1.20" fill="#120a2d" opacity="0.9"/>
<rect x="47.15" y="292.70" width="1.95" height="1.20" fill="#0d0722" opacity="0.9"/>
<rect x="57.86" y="292.70" width="3.77" height="1.20" fill="#150c33" opacity="0.9"/>
<rect x="61.63" y="292.70" width="3.31" height="1.20" fill="#0e0825" opacity="0.9"/>
<rect x="74.14" y="292.70" width="3.86" height="1.20" fill="#110a2b" opacity="0.9"/>
<rect x="83.56" y="292.70" width="3.29" height="1.20" fill="#140c32" opacity="0.9"/>
<rect x="95.95" y="292.70" width="2.95" height="1.20" fill="#0a061a" opacity="0.9"/>
<rect x="22.15" y="294.03" width="1.93" height="1.20" fill="#130b2f" opacity="0.9"/>
<rect x="24.09" y="294.03" width="1.85" height="1.20" fill="#0f0927" opacity="0.9"/>
<rect x="35.20" y="294.03" width="1.72" height="1.20" fill="#0f0927" opacity="0.9"/>
<rect x="45.85" y="294.03" width="2.28" height="1.20" fill="#140b31" opacity="0.9"/>
<rect x="48.13" y="294.03" width="3.75" height="1.20" fill="#140b31" opacity="0.9"/>
<rect x="55.80" y="294.03" width="2.93" height="1.20" fill="#100928" opacity="0.9"/>
<rect x="63.06" y="294.03" width="2.79" height="1.20" fill="#130b2f" opacity="0.9"/>
<rect x="68.76" y="294.03" width="3.23" height="1.20" fill="#100928" opacity="0.9"/>
<rect x="74.52" y="294.03" width="3.81" height="1.20" fill="#0f0826" opacity="0.9"/>
<rect x="78.33" y="294.03" width="1.82" height="1.20" fill="#130b30" opacity="0.9"/>
<rect x="80.14" y="294.03" width="3.75" height="1.20" fill="#0d0721" opacity="0.9"/>
<rect x="85.87" y="294.03" width="3.81" height="1.20" fill="#130b2f" opacity="0.9"/>
<rect x="89.69" y="294.03" width="1.56" height="1.20" fill="#0c071e" opacity="0.9"/>
<rect x="91.24" y="294.03" width="3.22" height="1.20" fill="#0d0822" opacity="0.9"/>
<rect x="94.46" y="294.03" width="3.05" height="1.20" fill="#120a2d" opacity="0.9"/>
<rect x="12.90" y="295.36" width="2.13" height="1.20" fill="#0f0927" opacity="0.9"/>
<rect x="15.03" y="295.36" width="2.59" height="1.20" fill="#0e0824" opacity="0.9"/>
<rect x="17.62" y="295.36" width="2.82" height="1.20" fill="#0b061e" opacity="0.9"/>
<rect x="34.98" y="295.36" width="2.29" height="1.20" fill="#150c33" opacity="0.9"/>
<rect x="39.32" y="295.36" width="3.72" height="1.20" fill="#0c071f" opacity="0.9"/>
<rect x="43.04" y="295.36" width="3.32" height="1.20" fill="#0a061b" opacity="0.9"/>
<rect x="46.35" y="295.36" width="3.58" height="1.20" fill="#130b2f" opacity="0.9"/>
<rect x="49.93" y="295.36" width="1.82" height="1.20" fill="#110a2c" opacity="0.9"/>
<rect x="51.75" y="295.36" width="1.54" height="1.20" fill="#110a2c" opacity="0.9"/>
<rect x="62.25" y="295.36" width="3.21" height="1.20" fill="#0a051a" opacity="0.9"/>
<rect x="65.47" y="295.36" width="1.77" height="1.20" fill="#100928" opacity="0.9"/>
<rect x="70.02" y="295.36" width="1.87" height="1.20" fill="#0b061e" opacity="0.9"/>
<rect x="75.49" y="295.36" width="3.82" height="1.20" fill="#09051a" opacity="0.9"/>
<rect x="79.30" y="295.36" width="3.88" height="1.20" fill="#120b2e" opacity="0.9"/>
<rect x="83.18" y="295.36" width="2.32" height="1.20" fill="#0f0927" opacity="0.9"/>
<rect x="89.61" y="295.36" width="3.61" height="1.20" fill="#0e0825" opacity="0.9"/>
<rect x="93.22" y="295.36" width="3.35" height="1.20" fill="#0b061d" opacity="0.9"/>
<rect x="25.33" y="296.70" width="3.51" height="1.20" fill="#140c33" opacity="0.9"/>
<rect x="32.20" y="296.70" width="3.54" height="1.20" fill="#140c32" opacity="0.9"/>
<rect x="45.37" y="296.70" width="1.68" height="1.20" fill="#0f0826" opacity="0.9"/>
<rect x="47.05" y="296.70" width="1.53" height="1.20" fill="#110a2b" opacity="0.9"/>
<rect x="48.57" y="296.70" width="3.06" height="1.20" fill="#150c34" opacity="0.9"/>
<rect x="51.63" y="296.70" width="3.17" height="1.20" fill="#110a2b" opacity="0.9"/>
<rect x="68.26" y="296.70" width="3.35" height="1.20" fill="#0e0824" opacity="0.9"/>
<rect x="71.61" y="296.70" width="1.63" height="1.20" fill="#0d0823" opacity="0.9"/>
<rect x="73.24" y="296.70" width="1.75" height="1.20" fill="#140c32" opacity="0.9"/>
<rect x="85.76" y="296.70" width="3.52" height="1.20" fill="#100929" opacity="0.9"/>
<rect x="89.29" y="296.70" width="3.40" height="1.20" fill="#150c33" opacity="0.9"/>
<rect x="92.69" y="296.70" width="1.90" height="1.20" fill="#0b061d" opacity="0.9"/>
<rect x="15.45" y="298.03" width="2.99" height="1.20" fill="#0c0720" opacity="0.9"/>
<rect x="23.79" y="298.03" width="2.24" height="1.20" fill="#0c071f" opacity="0.9"/>
<rect x="26.03" y="298.03" width="1.61" height="1.20" fill="#120a2e" opacity="0.9"/>
<rect x="30.11" y="298.03" width="3.37" height="1.20" fill="#150c35" opacity="0.9"/>
<rect x="33.49" y="298.03" width="3.86" height="1.20" fill="#140c32" opacity="0.9"/>
<rect x="39.92" y="298.03" width="3.93" height="1.20" fill="#0f0927" opacity="0.9"/>
<rect x="55.70" y="298.03" width="2.64" height="1.20" fill="#090519" opacity="0.9"/>
<rect x="58.34" y="298.03" width="2.82" height="1.20" fill="#0e0825" opacity="0.9"/>
<rect x="61.16" y="298.03" width="3.17" height="1.20" fill="#0c071f" opacity="0.9"/>
<rect x="64.33" y="298.03" width="2.96" height="1.20" fill="#130b2f" opacity="0.9"/>
<rect x="73.99" y="298.03" width="2.10" height="1.20" fill="#140c32" opacity="0.9"/>
<rect x="79.55" y="298.03" width="2.40" height="1.20" fill="#110a2c" opacity="0.9"/>
<rect x="87.94" y="298.03" width="1.97" height="1.20" fill="#150c35" opacity="0.9"/>
<rect x="93.70" y="298.03" width="1.60" height="1.20" fill="#0c0720" opacity="0.9"/>
<rect x="12.90" y="299.36" width="1.68" height="1.20" fill="#110a2c" opacity="0.9"/>
<rect x="19.89" y="299.36" width="2.03" height="1.20" fill="#120a2e" opacity="0.9"/>
<rect x="21.92" y="299.36" width="3.60" height="1.20" fill="#0a061b" opacity="0.9"/>
<rect x="29.04" y="299.36" width="3.42" height="1.20" fill="#0e0824" opacity="0.9"/>
<rect x="37.03" y="299.36" width="3.97" height="1.20" fill="#100928" opacity="0.9"/>
<rect x="44.36" y="299.36" width="2.57" height="1.20" fill="#0a061b" opacity="0.9"/>
<rect x="46.93" y="299.36" width="3.69" height="1.20" fill="#0a061a" opacity="0.9"/>
<rect x="53.53" y="299.36" width="3.21" height="1.20" fill="#130b2f" opacity="0.9"/>
<rect x="56.75" y="299.36" width="1.69" height="1.20" fill="#110a2b" opacity="0.9"/>
<rect x="58.44" y="299.36" width="1.70" height="1.20" fill="#120a2d" opacity="0.9"/>
<rect x="60.14" y="299.36" width="3.23" height="1.20" fill="#0a061c" opacity="0.9"/>
<rect x="65.77" y="299.36" width="2.42" height="1.20" fill="#120a2d" opacity="0.9"/>
<rect x="77.55" y="299.36" width="2.26" height="1.20" fill="#0e0823" opacity="0.9"/>
<rect x="83.65" y="299.36" width="2.12" height="1.20" fill="#0d0822" opacity="0.9"/>
<rect x="85.77" y="299.36" width="2.41" height="1.20" fill="#0e0823" opacity="0.9"/>
<rect x="12.90" y="300.70" width="3.70" height="1.20" fill="#090518" opacity="0.9"/>
<rect x="27.10" y="300.70" width="3.47" height="1.20" fill="#0a061a" opacity="0.9"/>
<rect x="37.48" y="300.70" width="3.12" height="1.20" fill="#0b071e" opacity="0.9"/>
<rect x="44.02" y="300.70" width="3.41" height="1.20" fill="#0d0722" opacity="0.9"/>
<rect x="57.39" y="300.70" width="3.79" height="1.20" fill="#130b30" opacity="0.9"/>
<rect x="77.95" y="300.70" width="2.55" height="1.20" fill="#0b061c" opacity="0.9"/>
<rect x="83.86" y="300.70" width="2.44" height="1.20" fill="#0b061e" opacity="0.9"/>
<rect x="86.30" y="300.70" width="2.56" height="1.20" fill="#150c34" opacity="0.9"/>
<rect x="88.86" y="300.70" width="1.65" height="1.20" fill="#0a061b" opacity="0.9"/>
<rect x="93.63" y="300.70" width="1.95" height="1.20" fill="#0f0825" opacity="0.9"/>
<rect x="98.54" y="300.70" width="0.36" height="1.20" fill="#0b061d" opacity="0.9"/>
<rect x="12.90" y="302.03" width="2.04" height="1.20" fill="#120a2d" opacity="0.9"/>
<rect x="14.94" y="302.03" width="2.99" height="1.20" fill="#0b061d" opacity="0.9"/>
<rect x="17.93" y="302.03" width="2.20" height="1.20" fill="#120b2e" opacity="0.9"/>
<rect x="28.11" y="302.03" width="3.79" height="1.20" fill="#100928" opacity="0.9"/>
<rect x="35.78" y="302.03" width="2.05" height="1.20" fill="#150c34" opacity="0.9"/>
<rect x="37.84" y="302.03" width="3.50" height="1.20" fill="#0f0927" opacity="0.9"/>
<rect x="41.34" y="302.03" width="2.79" height="1.20" fill="#150c35" opacity="0.9"/>
<rect x="44.13" y="302.03" width="3.14" height="1.20" fill="#090518" opacity="0.9"/>
<rect x="47.27" y="302.03" width="2.68" height="1.20" fill="#130b2f" opacity="0.9"/>
<rect x="53.24" y="302.03" width="1.89" height="1.20" fill="#0d0721" opacity="0.9"/>
<rect x="60.07" y="302.03" width="3.98" height="1.20" fill="#100927" opacity="0.9"/>
<rect x="71.05" y="302.03" width="1.71" height="1.20" fill="#120a2d" opacity="0.9"/>
<rect x="88.69" y="302.03" width="2.81" height="1.20" fill="#130b30" opacity="0.9"/>
<rect x="91.50" y="302.03" width="2.28" height="1.20" fill="#0a051a" opacity="0.9"/>
<rect x="96.04" y="302.03" width="2.86" height="1.20" fill="#110a2c" opacity="0.9"/>
<rect x="12.90" y="303.36" width="1.76" height="1.20" fill="#0f0825" opacity="0.9"/>
<rect x="18.58" y="303.36" width="3.13" height="1.20" fill="#0d0823" opacity="0.9"/>
<rect x="21.72" y="303.36" width="3.28" height="1.20" fill="#100928" opacity="0.9"/>
<rect x="24.99" y="303.36" width="2.65" height="1.20" fill="#150c35" opacity="0.9"/>
<rect x="27.64" y="303.36" width="3.50" height="1.20" fill="#11092a" opacity="0.9"/>
<rect x="31.14" y="303.36" width="2.23" height="1.20" fill="#100928" opacity="0.9"/>
<rect x="33.36" y="303.36" width="2.25" height="1.20" fill="#0e0823" opacity="0.9"/>
<rect x="35.61" y="303.36" width="3.17" height="1.20" fill="#0b061e" opacity="0.9"/>
<rect x="38.77" y="303.36" width="3.33" height="1.20" fill="#150c34" opacity="0.9"/>
<rect x="47.34" y="303.36" width="1.73" height="1.20" fill="#0a061a" opacity="0.9"/>
<rect x="52.26" y="303.36" width="1.95" height="1.20" fill="#130b30" opacity="0.9"/>
<rect x="54.21" y="303.36" width="2.98" height="1.20" fill="#0c071e" opacity="0.9"/>
<rect x="57.19" y="303.36" width="1.89" height="1.20" fill="#0e0824" opacity="0.9"/>
<rect x="66.45" y="303.36" width="3.55" height="1.20" fill="#0d0721" opacity="0.9"/>
<rect x="70.01" y="303.36" width="2.53" height="1.20" fill="#0e0824" opacity="0.9"/>
<rect x="79.26" y="303.36" width="3.02" height="1.20" fill="#0d0721" opacity="0.9"/>
<rect x="84.64" y="303.36" width="1.77" height="1.20" fill="#0f0927" opacity="0.9"/>
<rect x="89.88" y="303.36" width="3.03" height="1.20" fill="#130b2e" opacity="0.9"/>
<rect x="24.00" y="304.69" width="3.07" height="1.20" fill="#0a061a" opacity="0.9"/>
<rect x="29.18" y="304.69" width="3.24" height="1.20" fill="#150c33" opacity="0.9"/>
<rect x="41.34" y="304.69" width="2.90" height="1.20" fill="#140c33" opacity="0.9"/>
<rect x="48.22" y="304.69" width="3.00" height="1.20" fill="#130b30" opacity="0.9"/>
<rect x="55.54" y="304.69" width="3.58" height="1.20" fill="#100928" opacity="0.9"/>
<rect x="59.12" y="304.69" width="1.69" height="1.20" fill="#0b061d" opacity="0.9"/>
<rect x="64.78" y="304.69" width="3.15" height="1.20" fill="#110a2c" opacity="0.9"/>
<rect x="67.93" y="304.69" width="3.34" height="1.20" fill="#100929" opacity="0.9"/>
<rect x="71.27" y="304.69" width="3.51" height="1.20" fill="#0b061e" opacity="0.9"/>
<rect x="74.78" y="304.69" width="2.67" height="1.20" fill="#0e0823" opacity="0.9"/>
<rect x="77.45" y="304.69" width="2.92" height="1.20" fill="#0f0927" opacity="0.9"/>
<rect x="16.89" y="306.03" width="3.64" height="1.20" fill="#0e0825" opacity="0.9"/>
<rect x="28.83" y="306.03" width="2.30" height="1.20" fill="#120a2d" opacity="0.9"/>
<rect x="40.14" y="306.03" width="1.67" height="1.20" fill="#0e0825" opacity="0.9"/>
<rect x="41.82" y="306.03" width="2.76" height="1.20" fill="#090519" opacity="0.9"/>
<rect x="47.81" y="306.03" width="2.10" height="1.20" fill="#0e0823" opacity="0.9"/>
<rect x="49.91" y="306.03" width="2.09" height="1.20" fill="#140c33" opacity="0.9"/>
<rect x="55.91" y="306.03" width="3.67" height="1.20" fill="#130b2f" opacity="0.9"/>
<rect x="68.11" y="306.03" width="3.88" height="1.20" fill="#0c071f" opacity="0.9"/>
<rect x="71.99" y="306.03" width="2.25" height="1.20" fill="#09051a" opacity="0.9"/>
<rect x="77.97" y="306.03" width="2.49" height="1.20" fill="#100929" opacity="0.9"/>
<rect x="80.46" y="306.03" width="1.61" height="1.20" fill="#140c32" opacity="0.9"/>
<rect x="88.18" y="306.03" width="2.68" height="1.20" fill="#0c0720" opacity="0.9"/>
<rect x="14.83" y="307.36" width="3.99" height="1.20" fill="#110a2a" opacity="0.9"/>
<rect x="20.80" y="307.36" width="1.63" height="1.20" fill="#120a2d" opacity="0.9"/>
<rect x="30.22" y="307.36" width="3.84" height="1.20" fill="#0a061a" opacity="0.9"/>
<rect x="34.06" y="307.36" width="2.06" height="1.20" fill="#120a2d" opacity="0.9"/>
<rect x="36.12" y="307.36" width="1.99" height="1.20" fill="#0c071f" opacity="0.9"/>
<rect x="47.41" y="307.36" width="2.07" height="1.20" fill="#150c33" opacity="0.9"/>
<rect x="49.49" y="307.36" width="3.17" height="1.20" fill="#110a2b" opacity="0.9"/>
<rect x="56.98" y="307.36" width="2.83" height="1.20" fill="#100929" opacity="0.9"/>
<rect x="59.81" y="307.36" width="2.21" height="1.20" fill="#130b2f" opacity="0.9"/>
<rect x="62.02" y="307.36" width="1.72" height="1.20" fill="#120b2e" opacity="0.9"/>
<rect x="63.74" y="307.36" width="2.11" height="1.20" fill="#100928" opacity="0.9"/>
<rect x="67.82" y="307.36" width="3.97" height="1.20" fill="#0f0825" opacity="0.9"/>
<rect x="71.79" y="307.36" width="3.38" height="1.20" fill="#150c33" opacity="0.9"/>
<rect x="75.16" y="307.36" width="2.75" height="1.20" fill="#100928" opacity="0.9"/>
<rect x="77.91" y="307.36" width="3.11" height="1.20" fill="#110a2b" opacity="0.9"/>
<rect x="90.46" y="307.36" width="3.88" height="1.20" fill="#130b2f" opacity="0.9"/>
<rect x="96.25" y="307.36" width="2.09" height="1.20" fill="#130b2f" opacity="0.9"/>
<rect x="17.04" y="308.69" width="2.75" height="1.20" fill="#100929" opacity="0.9"/>
<rect x="23.08" y="308.69" width="3.68" height="1.20" fill="#0b061c" opacity="0.9"/>
<rect x="28.30" y="308.69" width="2.59" height="1.20" fill="#0c071f" opacity="0.9"/>
<rect x="30.89" y="308.69" width="3.50" height="1.20" fill="#140c32" opacity="0.9"/>
<rect x="37.31" y="308.69" width="3.48" height="1.20" fill="#0b061c" opacity="0.9"/>
<rect x="40.79" y="308.69" width="2.28" height="1.20" fill="#0d0721" opacity="0.9"/>
<rect x="50.00" y="308.69" width="1.93" height="1.20" fill="#0b061c" opacity="0.9"/>
<rect x="55.16" y="308.69" width="3.47" height="1.20" fill="#0e0824" opacity="0.9"/>
<rect x="58.62" y="308.69" width="2.41" height="1.20" fill="#150c34" opacity="0.9"/>
<rect x="67.90" y="308.69" width="3.36" height="1.20" fill="#0c071f" opacity="0.9"/>
<rect x="71.27" y="308.69" width="3.73" height="1.20" fill="#0e0823" opacity="0.9"/>
<rect x="74.99" y="308.69" width="2.25" height="1.20" fill="#0a051a" opacity="0.9"/>
<rect x="82.23" y="308.69" width="2.07" height="1.20" fill="#100928" opacity="0.9"/>
<rect x="86.41" y="308.69" width="3.83" height="1.20" fill="#0d0722" opacity="0.9"/>
<rect x="94.19" y="308.69" width="1.60" height="1.20" fill="#110a2b" opacity="0.9"/>
<rect x="95.79" y="308.69" width="1.65" height="1.20" fill="#120a2c" opacity="0.9"/>
<rect x="21.55" y="310.03" width="2.04" height="1.20" fill="#0b061d" opacity="0.9"/>
<rect x="23.59" y="310.03" width="2.87" height="1.20" fill="#0b061e" opacity="0.9"/>
<rect x="34.75" y="310.03" width="3.66" height="1.20" fill="#0e0823" opacity="0.9"/>
<rect x="40.09" y="310.03" width="2.41" height="1.20" fill="#090518" opacity="0.9"/>
<rect x="42.50" y="310.03" width="1.96" height="1.20" fill="#0e0823" opacity="0.9"/>
<rect x="48.26" y="310.03" width="2.17" height="1.20" fill="#0b061c" opacity="0.9"/>
<rect x="50.44" y="310.03" width="3.84" height="1.20" fill="#130b2e" opacity="0.9"/>
<rect x="57.59" y="310.03" width="1.55" height="1.20" fill="#0e0823" opacity="0.9"/>
<rect x="63.16" y="310.03" width="2.80" height="1.20" fill="#0e0823" opacity="0.9"/>
<rect x="65.96" y="310.03" width="2.10" height="1.20" fill="#0b061c" opacity="0.9"/>
<rect x="68.05" y="310.03" width="2.99" height="1.20" fill="#0d0721" opacity="0.9"/>
<rect x="77.59" y="310.03" width="3.17" height="1.20" fill="#0b061e" opacity="0.9"/>
<rect x="82.96" y="310.03" width="2.51" height="1.20" fill="#140b31" opacity="0.9"/>
<rect x="85.47" y="310.03" width="2.07" height="1.20" fill="#0d0722" opacity="0.9"/>
<rect x="87.54" y="310.03" width="2.04" height="1.20" fill="#090518" opacity="0.9"/>
<rect x="98.42" y="310.03" width="0.48" height="1.20" fill="#120a2c" opacity="0.9"/>
<rect x="16.07" y="311.36" width="3.67" height="1.20" fill="#110a2a" opacity="0.9"/>
<rect x="19.74" y="311.36" width="1.72" height="1.20" fill="#0e0823" opacity="0.9"/>
<rect x="21.46" y="311.36" width="1.65" height="1.20" fill="#0d0721" opacity="0.9"/>
<rect x="23.11" y="311.36" width="2.74" height="1.20" fill="#0b061c" opacity="0.9"/>
<rect x="30.28" y="311.36" width="2.10" height="1.20" fill="#0d0722" opacity="0.9"/>
<rect x="32.38" y="311.36" width="2.56" height="1.20" fill="#100929" opacity="0.9"/>
<rect x="38.19" y="311.36" width="3.25" height="1.20" fill="#0e0823" opacity="0.9"/>
<rect x="41.44" y="311.36" width="2.41" height="1.20" fill="#0e0824" opacity="0.9"/>
<rect x="48.45" y="311.36" width="2.31" height="1.20" fill="#090518" opacity="0.9"/>
<rect x="53.13" y="311.36" width="2.91" height="1.20" fill="#110a2b" opacity="0.9"/>
<rect x="70.38" y="311.36" width="2.53" height="1.20" fill="#0c0720" opacity="0.9"/>
<rect x="78.94" y="311.36" width="1.60" height="1.20" fill="#0f0927" opacity="0.9"/>
<rect x="80.53" y="311.36" width="2.27" height="1.20" fill="#150c35" opacity="0.9"/>
<rect x="82.80" y="311.36" width="1.87" height="1.20" fill="#0c071e" opacity="0.9"/>
<rect x="84.68" y="311.36" width="3.20" height="1.20" fill="#090518" opacity="0.9"/>
<rect x="87.88" y="311.36" width="2.86" height="1.20" fill="#0c071f" opacity="0.9"/>
<rect x="12.90" y="312.69" width="3.92" height="1.20" fill="#0d0722" opacity="0.9"/>
<rect x="16.82" y="312.69" width="3.72" height="1.20" fill="#120a2d" opacity="0.9"/>
<rect x="32.31" y="312.69" width="2.42" height="1.20" fill="#120a2e" opacity="0.9"/>
<rect x="34.74" y="312.69" width="2.83" height="1.20" fill="#0c071f" opacity="0.9"/>
<rect x="37.57" y="312.69" width="2.31" height="1.20" fill="#0f0927" opacity="0.9"/>
<rect x="39.88" y="312.69" width="1.81" height="1.20" fill="#0a051a" opacity="0.9"/>
<rect x="50.57" y="312.69" width="3.67" height="1.20" fill="#0c071f" opacity="0.9"/>
<rect x="61.63" y="312.69" width="2.32" height="1.20" fill="#120b2e" opacity="0.9"/>
<rect x="67.55" y="312.69" width="2.92" height="1.20" fill="#120a2d" opacity="0.9"/>
<rect x="73.53" y="312.69" width="3.50" height="1.20" fill="#0d0823" opacity="0.9"/>
<rect x="77.03" y="312.69" width="3.17" height="1.20" fill="#0b061d" opacity="0.9"/>
<rect x="92.46" y="312.69" width="3.97" height="1.20" fill="#120a2d" opacity="0.9"/>
<rect x="96.44" y="312.69" width="1.80" height="1.20" fill="#0c0720" opacity="0.9"/>
<rect x="12.90" y="314.02" width="1.80" height="1.20" fill="#090518" opacity="0.9"/>
<rect x="17.56" y="314.02" width="2.43" height="1.20" fill="#130b2f" opacity="0.9"/>
<rect x="19.99" y="314.02" width="3.60" height="1.20" fill="#0e0823" opacity="0.9"/>
<rect x="26.63" y="314.02" width="3.95" height="1.20" fill="#120a2c" opacity="0.9"/>
<rect x="33.45" y="314.02" width="1.87" height="1.20" fill="#0a061b" opacity="0.9"/>
<rect x="35.32" y="314.02" width="3.83" height="1.20" fill="#0f0926" opacity="0.9"/>
<rect x="39.15" y="314.02" width="1.80" height="1.20" fill="#090518" opacity="0.9"/>
<rect x="40.95" y="314.02" width="2.91" height="1.20" fill="#110a2a" opacity="0.9"/>
<rect x="43.87" y="314.02" width="2.19" height="1.20" fill="#0f0826" opacity="0.9"/>
<rect x="46.05" y="314.02" width="2.41" height="1.20" fill="#090519" opacity="0.9"/>
<rect x="50.13" y="314.02" width="2.27" height="1.20" fill="#0b061d" opacity="0.9"/>
<rect x="57.11" y="314.02" width="2.71" height="1.20" fill="#130b30" opacity="0.9"/>
<rect x="59.82" y="314.02" width="2.49" height="1.20" fill="#100928" opacity="0.9"/>
<rect x="73.92" y="314.02" width="3.31" height="1.20" fill="#090518" opacity="0.9"/>
<rect x="77.23" y="314.02" width="1.92" height="1.20" fill="#0a051a" opacity="0.9"/>
<rect x="83.83" y="314.02" width="1.53" height="1.20" fill="#150c34" opacity="0.9"/>
<rect x="90.40" y="314.02" width="3.34" height="1.20" fill="#130b2f" opacity="0.9"/>
<rect x="97.31" y="314.02" width="1.59" height="1.20" fill="#150c34" opacity="0.9"/>
<rect x="19.09" y="315.36" width="2.07" height="1.20" fill="#0d0823" opacity="0.9"/>
<rect x="26.71" y="315.36" width="2.39" height="1.20" fill="#140c32" opacity="0.9"/>
<rect x="29.10" y="315.36" width="2.30" height="1.20" fill="#0d0722" opacity="0.9"/>
<rect x="31.40" y="315.36" width="3.35" height="1.20" fill="#120a2e" opacity="0.9"/>
<rect x="37.62" y="315.36" width="1.94" height="1.20" fill="#0a061c" opacity="0.9"/>
<rect x="43.46" y="315.36" width="2.51" height="1.20" fill="#100928" opacity="0.9"/>
<rect x="45.97" y="315.36" width="3.88" height="1.20" fill="#140b32" opacity="0.9"/>
<rect x="56.50" y="315.36" width="2.05" height="1.20" fill="#120a2d" opacity="0.9"/>
<rect x="58.55" y="315.36" width="1.94" height="1.20" fill="#110a2c" opacity="0.9"/>
<rect x="60.50" y="315.36" width="3.87" height="1.20" fill="#0b061d" opacity="0.9"/>
<rect x="79.89" y="315.36" width="2.92" height="1.20" fill="#130b30" opacity="0.9"/>
<rect x="86.04" y="315.36" width="3.16" height="1.20" fill="#0e0823" opacity="0.9"/>
<rect x="21.04" y="316.69" width="3.97" height="1.20" fill="#140b31" opacity="0.9"/>
<rect x="26.83" y="316.69" width="2.73" height="1.20" fill="#130b31" opacity="0.9"/>
<rect x="40.70" y="316.69" width="3.28" height="1.20" fill="#130b30" opacity="0.9"/>
<rect x="46.61" y="316.69" width="3.66" height="1.20" fill="#0c0720" opacity="0.9"/>
<rect x="50.28" y="316.69" width="3.11" height="1.20" fill="#100928" opacity="0.9"/>
<rect x="65.47" y="316.69" width="3.49" height="1.20" fill="#0d0822" opacity="0.9"/>
<rect x="68.96" y="316.69" width="1.75" height="1.20" fill="#0d0722" opacity="0.9"/>
<rect x="74.38" y="316.69" width="1.79" height="1.20" fill="#0e0823" opacity="0.9"/>
<rect x="79.79" y="316.69" width="3.75" height="1.20" fill="#150c35" opacity="0.9"/>
<rect x="91.25" y="316.69" width="2.58" height="1.20" fill="#0d0722" opacity="0.9"/>
<rect x="98.31" y="316.69" width="0.59" height="1.20" fill="#0a061b" opacity="0.9"/>
<rect x="16.13" y="318.02" width="1.82" height="1.20" fill="#150c33" opacity="0.9"/>
<rect x="17.96" y="318.02" width="3.03" height="1.20" fill="#0b061d" opacity="0.9"/>
<rect x="24.97" y="318.02" width="3.34" height="1.20" fill="#0d0721" opacity="0.9"/>
<rect x="28.31" y="318.02" width="2.52" height="1.20" fill="#110a2a" opacity="0.9"/>
<rect x="50.75" y="318.02" width="3.83" height="1.20" fill="#120a2e" opacity="0.9"/>
<rect x="57.59" y="318.02" width="1.66" height="1.20" fill="#0c0720" opacity="0.9"/>
<rect x="64.09" y="318.02" width="3.18" height="1.20" fill="#0e0824" opacity="0.9"/>
<rect x="69.10" y="318.02" width="2.13" height="1.20" fill="#0d0722" opacity="0.9"/>
<rect x="79.50" y="318.02" width="1.72" height="1.20" fill="#0d0823" opacity="0.9"/>
<rect x="86.89" y="318.02" width="3.87" height="1.20" fill="#110a2a" opacity="0.9"/>
<rect x="90.77" y="318.02" width="2.67" height="1.20" fill="#0f0825" opacity="0.9"/>
<rect x="18.51" y="319.36" width="3.99" height="1.20" fill="#0f0825" opacity="0.9"/>
<rect x="27.06" y="319.36" width="2.02" height="1.20" fill="#0a061c" opacity="0.9"/>
<rect x="31.57" y="319.36" width="1.71" height="1.20" fill="#110a2b" opacity="0.9"/>
<rect x="48.99" y="319.36" width="1.56" height="1.20" fill="#100928" opacity="0.9"/>
<rect x="50.55" y="319.36" width="2.83" height="1.20" fill="#130b2f" opacity="0.9"/>
<rect x="57.45" y="319.36" width="1.82" height="1.20" fill="#0f0927" opacity="0.9"/>
<rect x="61.51" y="319.36" width="2.12" height="1.20" fill="#090519" opacity="0.9"/>
<rect x="68.57" y="319.36" width="3.63" height="1.20" fill="#140b31" opacity="0.9"/>
<rect x="74.08" y="319.36" width="2.81" height="1.20" fill="#11092a" opacity="0.9"/>
<rect x="80.55" y="319.36" width="2.53" height="1.20" fill="#0b061c" opacity="0.9"/>
<rect x="86.63" y="319.36" width="3.28" height="1.20" fill="#0f0927" opacity="0.9"/>
<rect x="89.92" y="319.36" width="1.57" height="1.20" fill="#0d0721" opacity="0.9"/>
<rect x="95.40" y="319.36" width="3.50" height="1.20" fill="#0e0824" opacity="0.9"/>
<rect x="12.90" y="320.69" width="1.70" height="1.20" fill="#0a061b" opacity="0.9"/>
<rect x="14.60" y="320.69" width="3.80" height="1.20" fill="#0f0926" opacity="0.9"/>
<rect x="28.15" y="320.69" width="2.49" height="1.20" fill="#120a2e" opacity="0.9"/>
<rect x="30.63" y="320.69" width="2.15" height="1.20" fill="#0e0824" opacity="0.9"/>
<rect x="32.78" y="320.69" width="2.69" height="1.20" fill="#0e0824" opacity="0.9"/>
<rect x="35.47" y="320.69" width="2.63" height="1.20" fill="#130b30" opacity="0.9"/>
<rect x="39.75" y="320.69" width="2.87" height="1.20" fill="#0b071e" opacity="0.9"/>
<rect x="42.62" y="320.69" width="1.75" height="1.20" fill="#0d0721" opacity="0.9"/>
<rect x="44.37" y="320.69" width="2.71" height="1.20" fill="#120a2e" opacity="0.9"/>
<rect x="47.08" y="320.69" width="2.72" height="1.20" fill="#0e0824" opacity="0.9"/>
<rect x="49.80" y="320.69" width="3.92" height="1.20" fill="#100929" opacity="0.9"/>
<rect x="53.71" y="320.69" width="3.90" height="1.20" fill="#100929" opacity="0.9"/>
<rect x="57.62" y="320.69" width="2.42" height="1.20" fill="#10092a" opacity="0.9"/>
<rect x="60.04" y="320.69" width="2.97" height="1.20" fill="#0f0926" opacity="0.9"/>
<rect x="65.80" y="320.69" width="1.63" height="1.20" fill="#0c071f" opacity="0.9"/>
<rect x="72.17" y="320.69" width="2.51" height="1.20" fill="#110a2c" opacity="0.9"/>
<rect x="76.39" y="320.69" width="3.58" height="1.20" fill="#0d0721" opacity="0.9"/>
<rect x="83.52" y="320.69" width="3.11" height="1.20" fill="#120b2e" opacity="0.9"/>
<rect x="91.13" y="320.69" width="3.10" height="1.20" fill="#150c33" opacity="0.9"/>
<rect x="26.14" y="322.02" width="2.59" height="1.20" fill="#0d0721" opacity="0.9"/>
<rect x="28.73" y="322.02" width="3.34" height="1.20" fill="#0a061b" opacity="0.9"/>
<rect x="35.65" y="322.02" width="2.87" height="1.20" fill="#0a061b" opacity="0.9"/>
<rect x="50.38" y="322.02" width="2.68" height="1.20" fill="#0e0824" opacity="0.9"/>
<rect x="59.32" y="322.02" width="3.22" height="1.20" fill="#130b2f" opacity="0.9"/>
<rect x="66.22" y="322.02" width="2.01" height="1.20" fill="#0b061d" opacity="0.9"/>
<rect x="70.60" y="322.02" width="2.80" height="1.20" fill="#100929" opacity="0.9"/>
<rect x="73.40" y="322.02" width="3.61" height="1.20" fill="#100929" opacity="0.9"/>
<rect x="82.03" y="322.02" width="2.08" height="1.20" fill="#120a2d" opacity="0.9"/>
<rect x="84.11" y="322.02" width="2.94" height="1.20" fill="#09051a" opacity="0.9"/>
<rect x="87.05" y="322.02" width="3.56" height="1.20" fill="#120a2d" opacity="0.9"/>
<rect x="12.90" y="323.35" width="2.72" height="1.20" fill="#120a2e" opacity="0.9"/>
<rect x="15.62" y="323.35" width="1.76" height="1.20" fill="#140b31" opacity="0.9"/>
<rect x="21.88" y="323.35" width="2.33" height="1.20" fill="#150c34" opacity="0.9"/>
<rect x="29.37" y="323.35" width="2.05" height="1.20" fill="#100927" opacity="0.9"/>
<rect x="31.42" y="323.35" width="3.02" height="1.20" fill="#130b2e" opacity="0.9"/>
<rect x="43.62" y="323.35" width="3.30" height="1.20" fill="#140b31" opacity="0.9"/>
<rect x="46.91" y="323.35" width="3.32" height="1.20" fill="#0c071f" opacity="0.9"/>
<rect x="51.78" y="323.35" width="2.13" height="1.20" fill="#0c071f" opacity="0.9"/>
<rect x="55.74" y="323.35" width="2.18" height="1.20" fill="#0c0720" opacity="0.9"/>
<rect x="75.73" y="323.35" width="2.15" height="1.20" fill="#150c33" opacity="0.9"/>
<rect x="88.65" y="323.35" width="2.92" height="1.20" fill="#0c071f" opacity="0.9"/>
<rect x="91.57" y="323.35" width="3.87" height="1.20" fill="#150c33" opacity="0.9"/>
<rect x="95.44" y="323.35" width="3.14" height="1.20" fill="#140c32" opacity="0.9"/>
<rect x="18.63" y="324.69" width="1.67" height="1.20" fill="#100929" opacity="0.9"/>
<rect x="27.89" y="324.69" width="2.80" height="1.20" fill="#0f0927" opacity="0.9"/>
<rect x="44.17" y="324.69" width="2.90" height="1.20" fill="#0c0721" opacity="0.9"/>
<rect x="68.34" y="324.69" width="3.83" height="1.20" fill="#0f0927" opacity="0.9"/>
<rect x="72.17" y="324.69" width="3.90" height="1.20" fill="#0a061b" opacity="0.9"/>
<rect x="79.74" y="324.69" width="1.56" height="1.20" fill="#130b30" opacity="0.9"/>
<rect x="87.48" y="324.69" width="3.52" height="1.20" fill="#09051a" opacity="0.9"/>
<rect x="98.06" y="324.69" width="0.84" height="1.20" fill="#090518" opacity="0.9"/>
<rect x="12.90" y="326.02" width="3.43" height="1.20" fill="#100929" opacity="0.9"/>
<rect x="16.33" y="326.02" width="2.82" height="1.20" fill="#110a2c" opacity="0.9"/>
<rect x="19.14" y="326.02" width="2.64" height="1.20" fill="#140b32" opacity="0.9"/>
<rect x="21.78" y="326.02" width="1.94" height="1.20" fill="#0c071f" opacity="0.9"/>
<rect x="26.41" y="326.02" width="2.33" height="1.20" fill="#110a2b" opacity="0.9"/>
<rect x="33.03" y="326.02" width="1.96" height="1.20" fill="#0d0721" opacity="0.9"/>
<rect x="40.51" y="326.02" width="2.85" height="1.20" fill="#120b2e" opacity="0.9"/>
<rect x="43.36" y="326.02" width="2.11" height="1.20" fill="#0e0824" opacity="0.9"/>
<rect x="45.47" y="326.02" width="3.97" height="1.20" fill="#0d0822" opacity="0.9"/>
<rect x="53.22" y="326.02" width="2.47" height="1.20" fill="#130b2f" opacity="0.9"/>
<rect x="55.69" y="326.02" width="3.46" height="1.20" fill="#130b2f" opacity="0.9"/>
<rect x="59.14" y="326.02" width="2.45" height="1.20" fill="#100929" opacity="0.9"/>
<rect x="64.94" y="326.02" width="3.55" height="1.20" fill="#0f0926" opacity="0.9"/>
<rect x="68.49" y="326.02" width="2.45" height="1.20" fill="#140c33" opacity="0.9"/>
<rect x="70.94" y="326.02" width="1.86" height="1.20" fill="#140b32" opacity="0.9"/>
<rect x="80.91" y="326.02" width="3.86" height="1.20" fill="#0a061c" opacity="0.9"/>
<rect x="91.29" y="326.02" width="2.63" height="1.20" fill="#0a061b" opacity="0.9"/>
<rect x="96.10" y="326.02" width="1.68" height="1.20" fill="#0d0722" opacity="0.9"/>
<rect x="97.78" y="326.02" width="1.12" height="1.20" fill="#0b061d" opacity="0.9"/>
<rect x="20.96" y="327.35" width="3.87" height="1.20" fill="#0b071e" opacity="0.9"/>
<rect x="24.83" y="327.35" width="1.69" height="1.20" fill="#120b2e" opacity="0.9"/>
<rect x="30.33" y="327.35" width="1.90" height="1.20" fill="#100928" opacity="0.9"/>
<rect x="41.41" y="327.35" width="2.66" height="1.20" fill="#150c34" opacity="0.9"/>
<rect x="44.07" y="327.35" width="3.94" height="1.20" fill="#120b2e" opacity="0.9"/>
<rect x="48.02" y="327.35" width="2.50" height="1.20" fill="#0b061d" opacity="0.9"/>
<rect x="52.45" y="327.35" width="2.03" height="1.20" fill="#0b071e" opacity="0.9"/>
<rect x="61.11" y="327.35" width="1.96" height="1.20" fill="#0d0721" opacity="0.9"/>
<rect x="63.07" y="327.35" width="1.60" height="1.20" fill="#11092a" opacity="0.9"/>
<rect x="67.09" y="327.35" width="3.06" height="1.20" fill="#0d0822" opacity="0.9"/>
<rect x="76.41" y="327.35" width="2.65" height="1.20" fill="#140c33" opacity="0.9"/>
<rect x="86.68" y="327.35" width="3.96" height="1.20" fill="#0b061d" opacity="0.9"/>
<rect x="90.64" y="327.35" width="3.31" height="1.20" fill="#100929" opacity="0.9"/>
<rect x="95.84" y="327.35" width="2.21" height="1.20" fill="#110a2c" opacity="0.9"/>
<rect x="15.64" y="328.69" width="2.79" height="1.20" fill="#090518" opacity="0.9"/>
<rect x="18.43" y="328.69" width="2.74" height="1.20" fill="#100929" opacity="0.9"/>
<rect x="28.68" y="328.69" width="3.93" height="1.20" fill="#0e0825" opacity="0.9"/>
<rect x="36.40" y="328.69" width="3.49" height="1.20" fill="#140c32" opacity="0.9"/>
<rect x="50.50" y="328.69" width="2.76" height="1.20" fill="#0b061d" opacity="0.9"/>
<rect x="71.55" y="328.69" width="2.26" height="1.20" fill="#140c33" opacity="0.9"/>
<rect x="88.02" y="328.69" width="3.68" height="1.20" fill="#0b061d" opacity="0.9"/>
<rect x="25.51" y="330.02" width="2.73" height="1.20" fill="#0d0822" opacity="0.9"/>
<rect x="28.24" y="330.02" width="1.56" height="1.20" fill="#130b2f" opacity="0.9"/>
<rect x="35.31" y="330.02" width="2.79" height="1.20" fill="#0c0720" opacity="0.9"/>
<rect x="45.61" y="330.02" width="3.78" height="1.20" fill="#150c34" opacity="0.9"/>
<rect x="52.43" y="330.02" width="3.44" height="1.20" fill="#0c0720" opacity="0.9"/>
<rect x="63.10" y="330.02" width="3.36" height="1.20" fill="#0b061e" opacity="0.9"/>
<rect x="66.47" y="330.02" width="2.95" height="1.20" fill="#0d0721" opacity="0.9"/>
<rect x="69.42" y="330.02" width="1.67" height="1.20" fill="#0d0822" opacity="0.9"/>
<rect x="77.01" y="330.02" width="2.52" height="1.20" fill="#0f0826" opacity="0.9"/>
<rect x="79.53" y="330.02" width="3.90" height="1.20" fill="#0e0824" opacity="0.9"/>
<rect x="14.87" y="331.35" width="1.64" height="1.20" fill="#100928" opacity="0.9"/>
<rect x="18.70" y="331.35" width="3.32" height="1.20" fill="#130b2e" opacity="0.9"/>
<rect x="33.43" y="331.35" width="1.64" height="1.20" fill="#0c0720" opacity="0.9"/>
<rect x="50.38" y="331.35" width="1.82" height="1.20" fill="#0f0826" opacity="0.9"/>
<rect x="52.21" y="331.35" width="1.54" height="1.20" fill="#0e0823" opacity="0.9"/>
<rect x="53.75" y="331.35" width="2.67" height="1.20" fill="#150c34" opacity="0.9"/>
<rect x="60.05" y="331.35" width="2.97" height="1.20" fill="#150c35" opacity="0.9"/>
<rect x="63.02" y="331.35" width="1.80" height="1.20" fill="#0b071e" opacity="0.9"/>
<rect x="71.01" y="331.35" width="3.72" height="1.20" fill="#130b2f" opacity="0.9"/>
<rect x="80.41" y="331.35" width="2.63" height="1.20" fill="#110a2a" opacity="0.9"/>
<rect x="83.04" y="331.35" width="2.53" height="1.20" fill="#130b2f" opacity="0.9"/>
<rect x="12.90" y="332.68" width="3.35" height="1.20" fill="#120a2d" opacity="0.9"/>
<rect x="23.30" y="332.68" width="3.13" height="1.20" fill="#130b2e" opacity="0.9"/>
<rect x="33.18" y="332.68" width="3.42" height="1.20" fill="#11092a" opacity="0.9"/>
<rect x="38.64" y="332.68" width="3.98" height="1.20" fill="#140c33" opacity="0.9"/>
<rect x="61.99" y="332.68" width="3.97" height="1.20" fill="#130b2f" opacity="0.9"/>
<rect x="68.27" y="332.68" width="3.88" height="1.20" fill="#100928" opacity="0.9"/>
<rect x="82.84" y="332.68" width="2.55" height="1.20" fill="#10092a" opacity="0.9"/>
<rect x="92.02" y="332.68" width="3.88" height="1.20" fill="#120b2e" opacity="0.9"/>
<rect x="95.90" y="332.68" width="1.69" height="1.20" fill="#120a2c" opacity="0.9"/>
<rect x="12.90" y="334.02" width="2.45" height="1.20" fill="#0d0822" opacity="0.9"/>
<rect x="15.35" y="334.02" width="2.84" height="1.20" fill="#0d0823" opacity="0.9"/>
<rect x="18.19" y="334.02" width="3.14" height="1.20" fill="#0d0721" opacity="0.9"/>
<rect x="25.02" y="334.02" width="2.12" height="1.20" fill="#0a061b" opacity="0.9"/>
<rect x="28.86" y="334.02" width="3.35" height="1.20" fill="#0f0926" opacity="0.9"/>
<rect x="32.20" y="334.02" width="3.24" height="1.20" fill="#130b30" opacity="0.9"/>
<rect x="35.44" y="334.02" width="3.65" height="1.20" fill="#120a2c" opacity="0.9"/>
<rect x="39.09" y="334.02" width="3.25" height="1.20" fill="#140b32" opacity="0.9"/>
<rect x="53.22" y="334.02" width="2.06" height="1.20" fill="#11092a" opacity="0.9"/>
<rect x="65.88" y="334.02" width="1.93" height="1.20" fill="#120a2d" opacity="0.9"/>
<rect x="69.85" y="334.02" width="3.68" height="1.20" fill="#0d0822" opacity="0.9"/>
<rect x="81.73" y="334.02" width="1.74" height="1.20" fill="#0d0822" opacity="0.9"/>
<rect x="87.43" y="334.02" width="3.66" height="1.20" fill="#0a061b" opacity="0.9"/>
<rect x="92.64" y="334.02" width="1.94" height="1.20" fill="#110a2b" opacity="0.9"/>
<rect x="94.58" y="334.02" width="3.24" height="1.20" fill="#0f0826" opacity="0.9"/>
<rect x="12.90" y="335.35" width="2.39" height="1.20" fill="#0c071f" opacity="0.9"/>
<rect x="15.29" y="335.35" width="2.23" height="1.20" fill="#090518" opacity="0.9"/>
<rect x="19.80" y="335.35" width="2.17" height="1.20" fill="#140b31" opacity="0.9"/>
<rect x="44.18" y="335.35" width="3.73" height="1.20" fill="#090518" opacity="0.9"/>
<rect x="47.92" y="335.35" width="2.25" height="1.20" fill="#130b2f" opacity="0.9"/>
<rect x="50.17" y="335.35" width="3.05" height="1.20" fill="#0b061d" opacity="0.9"/>
<rect x="73.45" y="335.35" width="1.69" height="1.20" fill="#150c34" opacity="0.9"/>
<rect x="84.75" y="335.35" width="1.53" height="1.20" fill="#0e0823" opacity="0.9"/>
<rect x="86.28" y="335.35" width="3.10" height="1.20" fill="#100928" opacity="0.9"/>
<rect x="96.64" y="335.35" width="2.26" height="1.20" fill="#0f0825" opacity="0.9"/>
<rect x="18.69" y="336.68" width="2.86" height="1.20" fill="#100929" opacity="0.9"/>
<rect x="21.55" y="336.68" width="3.08" height="1.20" fill="#0b071e" opacity="0.9"/>
<rect x="24.63" y="336.68" width="3.14" height="1.20" fill="#0a051a" opacity="0.9"/>
<rect x="27.77" y="336.68" width="3.40" height="1.20" fill="#150c34" opacity="0.9"/>
<rect x="31.18" y="336.68" width="2.90" height="1.20" fill="#110a2b" opacity="0.9"/>
<rect x="39.54" y="336.68" width="1.64" height="1.20" fill="#130b2f" opacity="0.9"/>
<rect x="41.18" y="336.68" width="1.85" height="1.20" fill="#090519" opacity="0.9"/>
<rect x="44.94" y="336.68" width="3.90" height="1.20" fill="#0c071f" opacity="0.9"/>
<rect x="48.84" y="336.68" width="3.57" height="1.20" fill="#110a2a" opacity="0.9"/>
<rect x="63.61" y="336.68" width="3.92" height="1.20" fill="#0c0720" opacity="0.9"/>
<rect x="71.32" y="336.68" width="1.66" height="1.20" fill="#0c071f" opacity="0.9"/>
<rect x="84.09" y="336.68" width="2.73" height="1.20" fill="#0f0926" opacity="0.9"/>
<rect x="89.29" y="336.68" width="1.62" height="1.20" fill="#150c35" opacity="0.9"/>
<rect x="90.91" y="336.68" width="2.43" height="1.20" fill="#0b061c" opacity="0.9"/>
<rect x="12.90" y="338.02" width="2.91" height="1.20" fill="#0b061d" opacity="0.9"/>
<rect x="15.81" y="338.02" width="3.31" height="1.20" fill="#140b31" opacity="0.9"/>
<rect x="19.12" y="338.02" width="1.58" height="1.20" fill="#0f0826" opacity="0.9"/>
<rect x="27.68" y="338.02" width="3.31" height="1.20" fill="#130b30" opacity="0.9"/>
<rect x="30.99" y="338.02" width="1.87" height="1.20" fill="#090519" opacity="0.9"/>
<rect x="34.43" y="338.02" width="2.45" height="1.20" fill="#090519" opacity="0.9"/>
<rect x="40.50" y="338.02" width="3.79" height="1.20" fill="#0a061b" opacity="0.9"/>
<rect x="44.29" y="338.02" width="2.22" height="1.20" fill="#0a061b" opacity="0.9"/>
<rect x="48.51" y="338.02" width="1.92" height="1.20" fill="#100928" opacity="0.9"/>
<rect x="50.43" y="338.02" width="2.44" height="1.20" fill="#100928" opacity="0.9"/>
<rect x="55.63" y="338.02" width="2.69" height="1.20" fill="#11092a" opacity="0.9"/>
<rect x="58.32" y="338.02" width="1.98" height="1.20" fill="#090518" opacity="0.9"/>
<rect x="66.50" y="338.02" width="3.85" height="1.20" fill="#0e0823" opacity="0.9"/>
<rect x="76.89" y="338.02" width="1.60" height="1.20" fill="#0c0720" opacity="0.9"/>
<rect x="24.84" y="339.35" width="2.91" height="1.20" fill="#130b2f" opacity="0.9"/>
<rect x="29.40" y="339.35" width="2.20" height="1.20" fill="#10092a" opacity="0.9"/>
<rect x="39.38" y="339.35" width="3.23" height="1.20" fill="#140b31" opacity="0.9"/>
<rect x="44.61" y="339.35" width="2.35" height="1.20" fill="#090518" opacity="0.9"/>
<rect x="46.96" y="339.35" width="1.50" height="1.20" fill="#0c0720" opacity="0.9"/>
<rect x="72.45" y="339.35" width="3.92" height="1.20" fill="#11092a" opacity="0.9"/>
<rect x="76.36" y="339.35" width="1.91" height="1.20" fill="#0e0824" opacity="0.9"/>
<rect x="83.16" y="339.35" width="3.92" height="1.20" fill="#0a061b" opacity="0.9"/>
<rect x="95.10" y="339.35" width="2.43" height="1.20" fill="#110a2b" opacity="0.9"/>
<rect x="97.53" y="339.35" width="1.37" height="1.20" fill="#090519" opacity="0.9"/>
<rect x="12.90" y="340.68" width="1.90" height="1.20" fill="#0f0927" opacity="0.9"/>
<rect x="16.62" y="340.68" width="3.56" height="1.20" fill="#0a061b" opacity="0.9"/>
<rect x="44.98" y="340.68" width="1.65" height="1.20" fill="#10092a" opacity="0.9"/>
<rect x="49.83" y="340.68" width="3.48" height="1.20" fill="#0f0825" opacity="0.9"/>
<rect x="61.27" y="340.68" width="2.70" height="1.20" fill="#160c35" opacity="0.9"/>
<rect x="67.29" y="340.68" width="1.88" height="1.20" fill="#0e0824" opacity="0.9"/>
<rect x="72.17" y="340.68" width="2.61" height="1.20" fill="#0d0823" opacity="0.9"/>
<rect x="74.78" y="340.68" width="3.72" height="1.20" fill="#090518" opacity="0.9"/>
<rect x="82.22" y="340.68" width="1.83" height="1.20" fill="#140b32" opacity="0.9"/>
<rect x="84.05" y="340.68" width="3.37" height="1.20" fill="#110a2c" opacity="0.9"/>
<rect x="89.45" y="340.68" width="3.01" height="1.20" fill="#150c33" opacity="0.9"/>
<rect x="92.47" y="340.68" width="2.34" height="1.20" fill="#130b2f" opacity="0.9"/>
<rect x="94.80" y="340.68" width="1.77" height="1.20" fill="#110a2b" opacity="0.9"/>
<rect x="12.90" y="342.01" width="3.48" height="1.20" fill="#090519" opacity="0.9"/>
<rect x="44.72" y="342.01" width="2.29" height="1.20" fill="#120a2e" opacity="0.9"/>
<rect x="47.02" y="342.01" width="3.40" height="1.20" fill="#0e0824" opacity="0.9"/>
<rect x="53.66" y="342.01" width="2.66" height="1.20" fill="#0a061b" opacity="0.9"/>
<rect x="65.33" y="342.01" width="3.01" height="1.20" fill="#120a2c" opacity="0.9"/>
<rect x="85.82" y="342.01" width="2.38" height="1.20" fill="#140b31" opacity="0.9"/>
<rect x="95.31" y="342.01" width="3.11" height="1.20" fill="#0d0721" opacity="0.9"/>
<rect x="12.90" y="343.35" width="3.80" height="1.20" fill="#0e0823" opacity="0.9"/>
<rect x="16.70" y="343.35" width="1.79" height="1.20" fill="#110a2b" opacity="0.9"/>
<rect x="18.50" y="343.35" width="3.73" height="1.20" fill="#0c071f" opacity="0.9"/>
<rect x="22.23" y="343.35" width="3.40" height="1.20" fill="#140b32" opacity="0.9"/>
<rect x="28.01" y="343.35" width="2.00" height="1.20" fill="#0e0824" opacity="0.9"/>
<rect x="33.78" y="343.35" width="3.51" height="1.20" fill="#0b061d" opacity="0.9"/>
<rect x="37.29" y="343.35" width="1.80" height="1.20" fill="#130b2f" opacity="0.9"/>
<rect x="39.09" y="343.35" width="3.01" height="1.20" fill="#0e0825" opacity="0.9"/>
<rect x="42.09" y="343.35" width="3.00" height="1.20" fill="#090519" opacity="0.9"/>
<rect x="55.38" y="343.35" width="2.94" height="1.20" fill="#130b30" opacity="0.9"/>
<rect x="60.04" y="343.35" width="1.74" height="1.20" fill="#0e0824" opacity="0.9"/>
<rect x="87.71" y="343.35" width="3.56" height="1.20" fill="#0a061c" opacity="0.9"/>
<rect x="91.27" y="343.35" width="1.62" height="1.20" fill="#150c34" opacity="0.9"/>
<rect x="15.23" y="344.68" width="3.51" height="1.20" fill="#100928" opacity="0.9"/>
<rect x="20.47" y="344.68" width="1.67" height="1.20" fill="#130b2e" opacity="0.9"/>
<rect x="31.81" y="344.68" width="1.77" height="1.20" fill="#0b061e" opacity="0.9"/>
<rect x="43.40" y="344.68" width="3.94" height="1.20" fill="#120b2e" opacity="0.9"/>
<rect x="50.88" y="344.68" width="2.02" height="1.20" fill="#0b061d" opacity="0.9"/>
<rect x="73.88" y="344.68" width="3.28" height="1.20" fill="#100928" opacity="0.9"/>
<rect x="77.16" y="344.68" width="1.86" height="1.20" fill="#0e0823" opacity="0.9"/>
<rect x="79.02" y="344.68" width="2.40" height="1.20" fill="#0a061a" opacity="0.9"/>
<rect x="83.98" y="344.68" width="3.59" height="1.20" fill="#0d0721" opacity="0.9"/>
<rect x="87.58" y="344.68" width="2.42" height="1.20" fill="#0a061c" opacity="0.9"/>
<rect x="92.98" y="344.68" width="2.45" height="1.20" fill="#0a061b" opacity="0.9"/>
<rect x="12.90" y="346.01" width="3.48" height="1.20" fill="#0b061d" opacity="0.9"/>
<rect x="18.67" y="346.01" width="3.34" height="1.20" fill="#0e0825" opacity="0.9"/>
<rect x="24.40" y="346.01" width="3.48" height="1.20" fill="#130b30" opacity="0.9"/>
<rect x="39.51" y="346.01" width="1.80" height="1.20" fill="#0e0825" opacity="0.9"/>
<rect x="50.58" y="346.01" width="1.63" height="1.20" fill="#0c0720" opacity="0.9"/>
<rect x="57.74" y="346.01" width="1.68" height="1.20" fill="#120a2d" opacity="0.9"/>
<rect x="59.42" y="346.01" width="2.35" height="1.20" fill="#09051a" opacity="0.9"/>
<rect x="66.26" y="346.01" width="2.91" height="1.20" fill="#090518" opacity="0.9"/>
<rect x="69.18" y="346.01" width="3.19" height="1.20" fill="#0f0926" opacity="0.9"/>
<rect x="72.36" y="346.01" width="2.44" height="1.20" fill="#090519" opacity="0.9"/>
<rect x="74.81" y="346.01" width="2.24" height="1.20" fill="#0a061b" opacity="0.9"/>
<rect x="82.57" y="346.01" width="2.81" height="1.20" fill="#0a061b" opacity="0.9"/>
<rect x="88.85" y="346.01" width="2.73" height="1.20" fill="#120a2e" opacity="0.9"/>
<rect x="26.72" y="347.35" width="3.77" height="1.20" fill="#0f0826" opacity="0.9"/>
<rect x="41.69" y="347.35" width="1.52" height="1.20" fill="#120a2d" opacity="0.9"/>
<rect x="46.91" y="347.35" width="2.19" height="1.20" fill="#120a2d" opacity="0.9"/>
<rect x="49.09" y="347.35" width="3.33" height="1.20" fill="#150c33" opacity="0.9"/>
<rect x="52.42" y="347.35" width="2.82" height="1.20" fill="#0f0826" opacity="0.9"/>
<rect x="55.24" y="347.35" width="2.35" height="1.20" fill="#140b32" opacity="0.9"/>
<rect x="57.59" y="347.35" width="3.84" height="1.20" fill="#0e0825" opacity="0.9"/>
<rect x="63.61" y="347.35" width="1.77" height="1.20" fill="#0e0824" opacity="0.9"/>
<rect x="74.88" y="347.35" width="3.57" height="1.20" fill="#0c071f" opacity="0.9"/>
<rect x="81.11" y="347.35" width="3.02" height="1.20" fill="#150c35" opacity="0.9"/>
<rect x="84.12" y="347.35" width="2.28" height="1.20" fill="#0a061a" opacity="0.9"/>
<rect x="88.43" y="347.35" width="3.60" height="1.20" fill="#0c071f" opacity="0.9"/>
<rect x="94.13" y="347.35" width="3.74" height="1.20" fill="#0a061b" opacity="0.9"/>
<rect x="19.56" y="348.68" width="2.77" height="1.20" fill="#0f0927" opacity="0.9"/>
<rect x="22.33" y="348.68" width="3.16" height="1.20" fill="#110a2b" opacity="0.9"/>
<rect x="27.35" y="348.68" width="2.03" height="1.20" fill="#150c34" opacity="0.9"/>
<rect x="45.69" y="348.68" width="1.61" height="1.20" fill="#120a2d" opacity="0.9"/>
<rect x="60.42" y="348.68" width="3.10" height="1.20" fill="#140c32" opacity="0.9"/>
<rect x="66.82" y="348.68" width="2.66" height="1.20" fill="#0e0825" opacity="0.9"/>
<rect x="72.68" y="348.68" width="1.77" height="1.20" fill="#0e0823" opacity="0.9"/>
<rect x="74.45" y="348.68" width="2.11" height="1.20" fill="#0b071e" opacity="0.9"/>
<rect x="90.50" y="348.68" width="2.35" height="1.20" fill="#110a2b" opacity="0.9"/>
<rect x="42.08" y="350.01" width="2.49" height="1.20" fill="#0d0721" opacity="0.9"/>
<rect x="46.95" y="350.01" width="2.49" height="1.20" fill="#120a2c" opacity="0.9"/>
<rect x="49.44" y="350.01" width="1.74" height="1.20" fill="#0e0823" opacity="0.9"/>
<rect x="59.89" y="350.01" width="2.07" height="1.20" fill="#0d0721" opacity="0.9"/>
<rect x="61.95" y="350.01" width="3.74" height="1.20" fill="#0f0926" opacity="0.9"/>
<rect x="65.69" y="350.01" width="2.81" height="1.20" fill="#100927" opacity="0.9"/>
<rect x="68.50" y="350.01" width="1.66" height="1.20" fill="#0c0720" opacity="0.9"/>
<rect x="80.62" y="350.01" width="1.64" height="1.20" fill="#120a2e" opacity="0.9"/>
<rect x="85.86" y="350.01" width="3.44" height="1.20" fill="#100928" opacity="0.9"/>
<rect x="94.20" y="350.01" width="2.78" height="1.20" fill="#150c35" opacity="0.9"/>
<rect x="96.97" y="350.01" width="1.93" height="1.20" fill="#110a2b" opacity="0.9"/>
<rect x="12.90" y="351.34" width="2.15" height="1.20" fill="#0d0721" opacity="0.9"/>
<rect x="15.05" y="351.34" width="3.02" height="1.20" fill="#110a2b" opacity="0.9"/>
<rect x="29.41" y="351.34" width="1.69" height="1.20" fill="#150c34" opacity="0.9"/>
<rect x="32.92" y="351.34" width="2.82" height="1.20" fill="#130b2f" opacity="0.9"/>
<rect x="40.93" y="351.34" width="2.62" height="1.20" fill="#120a2c" opacity="0.9"/>
<rect x="50.75" y="351.34" width="3.25" height="1.20" fill="#130b2e" opacity="0.9"/>
<rect x="56.95" y="351.34" width="2.81" height="1.20" fill="#0c0720" opacity="0.9"/>
<rect x="59.77" y="351.34" width="3.72" height="1.20" fill="#130b2e" opacity="0.9"/>
<rect x="63.49" y="351.34" width="2.42" height="1.20" fill="#090518" opacity="0.9"/>
<rect x="73.77" y="351.34" width="1.66" height="1.20" fill="#090519" opacity="0.9"/>
<rect x="78.46" y="351.34" width="3.89" height="1.20" fill="#0c071f" opacity="0.9"/>
<rect x="82.34" y="351.34" width="2.05" height="1.20" fill="#090519" opacity="0.9"/>
<rect x="91.84" y="351.34" width="2.83" height="1.20" fill="#090519" opacity="0.9"/>
<rect x="18.56" y="352.68" width="2.11" height="1.20" fill="#150c34" opacity="0.9"/>
<rect x="24.46" y="352.68" width="2.85" height="1.20" fill="#0d0823" opacity="0.9"/>
<rect x="27.32" y="352.68" width="3.78" height="1.20" fill="#0c0720" opacity="0.9"/>
<rect x="32.70" y="352.68" width="2.38" height="1.20" fill="#0d0822" opacity="0.9"/>
<rect x="43.51" y="352.68" width="3.52" height="1.20" fill="#130b30" opacity="0.9"/>
<rect x="49.14" y="352.68" width="3.48" height="1.20" fill="#100928" opacity="0.9"/>
<rect x="59.34" y="352.68" width="2.06" height="1.20" fill="#0f0826" opacity="0.9"/>
<rect x="65.32" y="352.68" width="2.54" height="1.20" fill="#0a061b" opacity="0.9"/>
<rect x="75.40" y="352.68" width="3.96" height="1.20" fill="#120a2d" opacity="0.9"/>
<rect x="79.37" y="352.68" width="3.85" height="1.20" fill="#090518" opacity="0.9"/>
<rect x="83.22" y="352.68" width="1.82" height="1.20" fill="#130b2f" opacity="0.9"/>
<rect x="89.84" y="352.68" width="1.84" height="1.20" fill="#100929" opacity="0.9"/>
<rect x="94.79" y="352.68" width="3.57" height="1.20" fill="#0d0721" opacity="0.9"/>
<rect x="23.98" y="354.01" width="3.51" height="1.20" fill="#0d0722" opacity="0.9"/>
<rect x="41.10" y="354.01" width="3.81" height="1.20" fill="#11092a" opacity="0.9"/>
<rect x="62.86" y="354.01" width="2.60" height="1.20" fill="#130b2f" opacity="0.9"/>
<rect x="70.25" y="354.01" width="1.66" height="1.20" fill="#0a061a" opacity="0.9"/>
<rect x="71.91" y="354.01" width="2.56" height="1.20" fill="#130b30" opacity="0.9"/>
<rect x="77.50" y="354.01" width="2.88" height="1.20" fill="#0c0720" opacity="0.9"/>
<rect x="87.09" y="354.01" width="1.62" height="1.20" fill="#0e0824" opacity="0.9"/>
<rect x="92.32" y="354.01" width="2.98" height="1.20" fill="#090519" opacity="0.9"/>
<rect x="98.20" y="354.01" width="0.70" height="1.20" fill="#0b061e" opacity="0.9"/>
<rect x="12.90" y="355.34" width="1.54" height="1.20" fill="#130b30" opacity="0.9"/>
<rect x="14.44" y="355.34" width="3.68" height="1.20" fill="#090518" opacity="0.9"/>
<rect x="18.12" y="355.34" width="2.94" height="1.20" fill="#11092a" opacity="0.9"/>
<rect x="36.97" y="355.34" width="2.96" height="1.20" fill="#110a2b" opacity="0.9"/>
<rect x="39.92" y="355.34" width="2.28" height="1.20" fill="#090519" opacity="0.9"/>
<rect x="42.20" y="355.34" width="3.03" height="1.20" fill="#0a061b" opacity="0.9"/>
<rect x="45.23" y="355.34" width="3.44" height="1.20" fill="#120a2e" opacity="0.9"/>
<rect x="66.64" y="355.34" width="2.92" height="1.20" fill="#110a2b" opacity="0.9"/>
<rect x="73.23" y="355.34" width="2.06" height="1.20" fill="#0d0823" opacity="0.9"/>
<rect x="86.95" y="355.34" width="2.88" height="1.20" fill="#0a061b" opacity="0.9"/>
<rect x="92.43" y="355.34" width="3.87" height="1.20" fill="#100929" opacity="0.9"/>
<rect x="14.85" y="356.68" width="1.71" height="1.20" fill="#0c0720" opacity="0.9"/>
<rect x="16.56" y="356.68" width="2.01" height="1.20" fill="#0a061a" opacity="0.9"/>
<rect x="18.57" y="356.68" width="2.81" height="1.20" fill="#110a2b" opacity="0.9"/>
<rect x="29.32" y="356.68" width="3.22" height="1.20" fill="#120a2d" opacity="0.9"/>
<rect x="38.54" y="356.68" width="3.42" height="1.20" fill="#0d0823" opacity="0.9"/>
<rect x="44.54" y="356.68" width="3.30" height="1.20" fill="#150c34" opacity="0.9"/>
<rect x="55.79" y="356.68" width="2.46" height="1.20" fill="#090518" opacity="0.9"/>
<rect x="72.74" y="356.68" width="2.90" height="1.20" fill="#110a2c" opacity="0.9"/>
<rect x="84.74" y="356.68" width="2.40" height="1.20" fill="#140b32" opacity="0.9"/>
<rect x="91.00" y="356.68" width="3.99" height="1.20" fill="#140b31" opacity="0.9"/>
<rect x="30.76" y="358.01" width="3.00" height="1.20" fill="#100928" opacity="0.9"/>
<rect x="33.76" y="358.01" width="3.67" height="1.20" fill="#110a2b" opacity="0.9"/>
<rect x="37.43" y="358.01" width="2.72" height="1.20" fill="#0b061c" opacity="0.9"/>
<rect x="49.64" y="358.01" width="3.51" height="1.20" fill="#150c35" opacity="0.9"/>
<rect x="53.15" y="358.01" width="2.87" height="1.20" fill="#0c071f" opacity="0.9"/>
<rect x="59.30" y="358.01" width="3.21" height="1.20" fill="#140b31" opacity="0.9"/>
<rect x="78.68" y="358.01" width="1.54" height="1.20" fill="#130b30" opacity="0.9"/>
<rect x="80.22" y="358.01" width="2.19" height="1.20" fill="#0b061d" opacity="0.9"/>
<rect x="85.15" y="358.01" width="1.55" height="1.20" fill="#090518" opacity="0.9"/>
<rect x="86.70" y="358.01" width="1.63" height="1.20" fill="#0f0926" opacity="0.9"/>
<rect x="15.00" y="359.34" width="2.70" height="1.20" fill="#150c33" opacity="0.9"/>
<rect x="17.70" y="359.34" width="2.71" height="1.20" fill="#0f0926" opacity="0.9"/>
<rect x="20.41" y="359.34" width="3.51" height="1.20" fill="#100929" opacity="0.9"/>
<rect x="23.92" y="359.34" width="1.73" height="1.20" fill="#0b061d" opacity="0.9"/>
<rect x="33.45" y="359.34" width="3.99" height="1.20" fill="#150c35" opacity="0.9"/>
<rect x="40.07" y="359.34" width="1.94" height="1.20" fill="#110a2b" opacity="0.9"/>
<rect x="42.02" y="359.34" width="1.76" height="1.20" fill="#0a061a" opacity="0.9"/>
<rect x="43.77" y="359.34" width="2.86" height="1.20" fill="#0c071f" opacity="0.9"/>
<rect x="61.77" y="359.34" width="3.46" height="1.20" fill="#130b2f" opacity="0.9"/>
<rect x="65.24" y="359.34" width="1.76" height="1.20" fill="#0f0927" opacity="0.9"/>
<rect x="81.03" y="359.34" width="2.50" height="1.20" fill="#110a2b" opacity="0.9"/>
<rect x="92.02" y="359.34" width="3.43" height="1.20" fill="#0f0826" opacity="0.9"/>
<rect x="95.45" y="359.34" width="2.78" height="1.20" fill="#120a2d" opacity="0.9"/>
<rect x="20.16" y="360.67" width="2.88" height="1.20" fill="#0f0926" opacity="0.9"/>
<rect x="23.04" y="360.67" width="2.13" height="1.20" fill="#150c34" opacity="0.9"/>
<rect x="29.76" y="360.67" width="1.80" height="1.20" fill="#0a061b" opacity="0.9"/>
<rect x="38.56" y="360.67" width="3.16" height="1.20" fill="#130b2e" opacity="0.9"/>
<rect x="41.72" y="360.67" width="1.67" height="1.20" fill="#130b2f" opacity="0.9"/>
<rect x="43.39" y="360.67" width="3.42" height="1.20" fill="#0f0927" opacity="0.9"/>
<rect x="50.31" y="360.67" width="2.81" height="1.20" fill="#09051a" opacity="0.9"/>
<rect x="78.38" y="360.67" width="2.12" height="1.20" fill="#110a2b" opacity="0.9"/>
<rect x="85.50" y="360.67" width="2.57" height="1.20" fill="#0d0721" opacity="0.9"/>
<rect x="91.31" y="360.67" width="2.30" height="1.20" fill="#0e0825" opacity="0.9"/>
<rect x="30.60" y="362.01" width="1.53" height="1.20" fill="#0f0826" opacity="0.9"/>
<rect x="32.12" y="362.01" width="3.88" height="1.20" fill="#140c32" opacity="0.9"/>
<rect x="39.93" y="362.01" width="2.20" height="1.20" fill="#140b32" opacity="0.9"/>
<rect x="42.13" y="362.01" width="1.67" height="1.20" fill="#150c33" opacity="0.9"/>
<rect x="46.99" y="362.01" width="3.58" height="1.20" fill="#0f0927" opacity="0.9"/>
<rect x="57.27" y="362.01" width="1.85" height="1.20" fill="#090519" opacity="0.9"/>
<rect x="72.12" y="362.01" width="1.95" height="1.20" fill="#100928" opacity="0.9"/>
<rect x="77.07" y="362.01" width="3.20" height="1.20" fill="#150c34" opacity="0.9"/>
<rect x="80.27" y="362.01" width="2.67" height="1.20" fill="#120b2e" opacity="0.9"/>
<rect x="86.00" y="362.01" width="2.88" height="1.20" fill="#0f0826" opacity="0.9"/>
<rect x="91.55" y="362.01" width="2.95" height="1.20" fill="#0c071f" opacity="0.9"/>
<rect x="94.50" y="362.01" width="1.80" height="1.20" fill="#0f0927" opacity="0.9"/>
<rect x="16.66" y="363.34" width="3.15" height="1.20" fill="#140c32" opacity="0.9"/>
<rect x="24.28" y="363.34" width="3.21" height="1.20" fill="#120a2d" opacity="0.9"/>
<rect x="29.38" y="363.34" width="2.45" height="1.20" fill="#0d0822" opacity="0.9"/>
<rect x="51.54" y="363.34" width="2.98" height="1.20" fill="#0d0822" opacity="0.9"/>
<rect x="62.76" y="363.34" width="3.08" height="1.20" fill="#110a2b" opacity="0.9"/>
<rect x="70.46" y="363.34" width="2.62" height="1.20" fill="#0d0721" opacity="0.9"/>
<rect x="73.09" y="363.34" width="3.89" height="1.20" fill="#0c071f" opacity="0.9"/>
<rect x="79.82" y="363.34" width="3.85" height="1.20" fill="#0d0721" opacity="0.9"/>
<rect x="90.20" y="363.34" width="1.73" height="1.20" fill="#0b061d" opacity="0.9"/>
<rect x="91.93" y="363.34" width="2.26" height="1.20" fill="#0c0720" opacity="0.9"/>
<rect x="94.19" y="363.34" width="1.79" height="1.20" fill="#0f0927" opacity="0.9"/>
<rect x="95.98" y="363.34" width="2.92" height="1.20" fill="#0a061a" opacity="0.9"/>
<rect x="12.90" y="364.67" width="3.32" height="1.20" fill="#0a061c" opacity="0.9"/>
<rect x="16.22" y="364.67" width="2.73" height="1.20" fill="#130b2f" opacity="0.9"/>
<rect x="21.71" y="364.67" width="2.44" height="1.20" fill="#130b30" opacity="0.9"/>
<rect x="28.39" y="364.67" width="2.85" height="1.20" fill="#0a051a" opacity="0.9"/>
<rect x="42.41" y="364.67" width="2.69" height="1.20" fill="#110a2b" opacity="0.9"/>
<rect x="47.71" y="364.67" width="1.61" height="1.20" fill="#0a061b" opacity="0.9"/>
<rect x="54.94" y="364.67" width="2.80" height="1.20" fill="#0e0823" opacity="0.9"/>
<rect x="57.74" y="364.67" width="1.50" height="1.20" fill="#090519" opacity="0.9"/>
<rect x="73.65" y="364.67" width="3.13" height="1.20" fill="#110a2b" opacity="0.9"/>
<rect x="81.37" y="364.67" width="1.64" height="1.20" fill="#120a2d" opacity="0.9"/>
<rect x="29.43" y="366.01" width="2.53" height="1.20" fill="#0b061e" opacity="0.9"/>
<rect x="44.52" y="366.01" width="2.65" height="1.20" fill="#0c0720" opacity="0.9"/>
<rect x="47.17" y="366.01" width="1.97" height="1.20" fill="#090519" opacity="0.9"/>
<rect x="63.42" y="366.01" width="3.35" height="1.20" fill="#0a051a" opacity="0.9"/>
<rect x="70.10" y="366.01" width="3.00" height="1.20" fill="#120a2e" opacity="0.9"/>
<rect x="79.78" y="366.01" width="3.33" height="1.20" fill="#090519" opacity="0.9"/>
<rect x="85.65" y="366.01" width="3.07" height="1.20" fill="#0a061a" opacity="0.9"/>
<rect x="92.31" y="366.01" width="3.25" height="1.20" fill="#120a2e" opacity="0.9"/>
<rect x="95.57" y="366.01" width="1.52" height="1.20" fill="#0d0721" opacity="0.9"/>
<rect x="97.09" y="366.01" width="1.81" height="1.20" fill="#0b061c" opacity="0.9"/>
<rect x="16.23" y="367.34" width="2.17" height="1.20" fill="#140b31" opacity="0.9"/>
<rect x="22.33" y="367.34" width="2.92" height="1.20" fill="#120a2e" opacity="0.9"/>
<rect x="41.80" y="367.34" width="3.85" height="1.20" fill="#140c32" opacity="0.9"/>
<rect x="45.65" y="367.34" width="3.70" height="1.20" fill="#090519" opacity="0.9"/>
<rect x="61.48" y="367.34" width="2.60" height="1.20" fill="#0c0720" opacity="0.9"/>
<rect x="66.48" y="367.34" width="2.88" height="1.20" fill="#090519" opacity="0.9"/>
<rect x="76.42" y="367.34" width="1.66" height="1.20" fill="#0f0825" opacity="0.9"/>
<rect x="80.32" y="367.34" width="2.01" height="1.20" fill="#0e0825" opacity="0.9"/>
<rect x="82.33" y="367.34" width="1.63" height="1.20" fill="#10092a" opacity="0.9"/>
<rect x="88.65" y="367.34" width="2.81" height="1.20" fill="#0b071e" opacity="0.9"/>
<rect x="95.76" y="367.34" width="3.14" height="1.20" fill="#10092a" opacity="0.9"/>
<rect x="27.19" y="368.67" width="2.40" height="1.20" fill="#110a2a" opacity="0.9"/>
<rect x="29.59" y="368.67" width="1.82" height="1.20" fill="#0a061a" opacity="0.9"/>
<rect x="38.34" y="368.67" width="2.83" height="1.20" fill="#0d0721" opacity="0.9"/>
<rect x="41.17" y="368.67" width="1.63" height="1.20" fill="#140b31" opacity="0.9"/>
<rect x="42.80" y="368.67" width="2.25" height="1.20" fill="#150c35" opacity="0.9"/>
<rect x="51.83" y="368.67" width="3.12" height="1.20" fill="#140c33" opacity="0.9"/>
<rect x="57.29" y="368.67" width="1.70" height="1.20" fill="#0a061a" opacity="0.9"/>
<rect x="73.83" y="368.67" width="1.93" height="1.20" fill="#0a061a" opacity="0.9"/>
<rect x="75.76" y="368.67" width="2.58" height="1.20" fill="#150c34" opacity="0.9"/>
<rect x="79.96" y="368.67" width="1.80" height="1.20" fill="#150c33" opacity="0.9"/>
<rect x="86.77" y="368.67" width="2.37" height="1.20" fill="#120a2c" opacity="0.9"/>
<rect x="91.58" y="368.67" width="3.55" height="1.20" fill="#0e0824" opacity="0.9"/>
<rect x="97.51" y="368.67" width="1.39" height="1.20" fill="#0f0825" opacity="0.9"/>
<rect x="14.44" y="370.00" width="1.67" height="1.20" fill="#0f0927" opacity="0.9"/>
<rect x="16.11" y="370.00" width="2.85" height="1.20" fill="#100929" opacity="0.9"/>
<rect x="22.87" y="370.00" width="2.62" height="1.20" fill="#0c0720" opacity="0.9"/>
<rect x="25.49" y="370.00" width="3.07" height="1.20" fill="#140c33" opacity="0.9"/>
<rect x="32.29" y="370.00" width="3.90" height="1.20" fill="#0b061d" opacity="0.9"/>
<rect x="39.06" y="370.00" width="1.86" height="1.20" fill="#10092a" opacity="0.9"/>
<rect x="40.92" y="370.00" width="2.10" height="1.20" fill="#120a2c" opacity="0.9"/>
<rect x="46.69" y="370.00" width="3.64" height="1.20" fill="#0d0721" opacity="0.9"/>
<rect x="56.39" y="370.00" width="2.08" height="1.20" fill="#0a061a" opacity="0.9"/>
<rect x="61.84" y="370.00" width="3.90" height="1.20" fill="#150c34" opacity="0.9"/>
<rect x="65.73" y="370.00" width="3.06" height="1.20" fill="#0e0823" opacity="0.9"/>
<rect x="68.79" y="370.00" width="2.40" height="1.20" fill="#09051a" opacity="0.9"/>
<rect x="71.20" y="370.00" width="2.11" height="1.20" fill="#0e0825" opacity="0.9"/>
<rect x="73.31" y="370.00" width="2.70" height="1.20" fill="#150c33" opacity="0.9"/>
<rect x="88.99" y="370.00" width="2.38" height="1.20" fill="#0e0824" opacity="0.9"/>
<rect x="25.22" y="371.34" width="3.85" height="1.20" fill="#0b061d" opacity="0.9"/>
<rect x="29.07" y="371.34" width="2.75" height="1.20" fill="#120a2d" opacity="0.9"/>
<rect x="31.83" y="371.34" width="3.09" height="1.20" fill="#0b061e" opacity="0.9"/>
<rect x="42.94" y="371.34" width="3.93" height="1.20" fill="#11092a" opacity="0.9"/>
<rect x="62.40" y="371.34" width="3.99" height="1.20" fill="#0b061e" opacity="0.9"/>
<rect x="68.48" y="371.34" width="3.81" height="1.20" fill="#0f0926" opacity="0.9"/>
<rect x="78.98" y="371.34" width="3.81" height="1.20" fill="#150c34" opacity="0.9"/>
<rect x="85.02" y="371.34" width="3.38" height="1.20" fill="#0d0721" opacity="0.9"/>
<rect x="92.16" y="371.34" width="3.94" height="1.20" fill="#110a2a" opacity="0.9"/>
<rect x="12.90" y="372.67" width="3.31" height="1.20" fill="#0a061b" opacity="0.9"/>
<rect x="16.21" y="372.67" width="1.93" height="1.20" fill="#100929" opacity="0.9"/>
<rect x="18.15" y="372.67" width="2.31" height="1.20" fill="#0a061a" opacity="0.9"/>
<rect x="39.62" y="372.67" width="3.85" height="1.20" fill="#0a061a" opacity="0.9"/>
<rect x="46.57" y="372.67" width="1.87" height="1.20" fill="#0f0825" opacity="0.9"/>
<rect x="51.91" y="372.67" width="3.15" height="1.20" fill="#0b061e" opacity="0.9"/>
<rect x="58.03" y="372.67" width="1.73" height="1.20" fill="#0d0721" opacity="0.9"/>
<rect x="59.75" y="372.67" width="2.54" height="1.20" fill="#0b061d" opacity="0.9"/>
<rect x="67.86" y="372.67" width="3.80" height="1.20" fill="#11092a" opacity="0.9"/>
<rect x="86.47" y="372.67" width="2.39" height="1.20" fill="#140b32" opacity="0.9"/>
<rect x="88.86" y="372.67" width="1.82" height="1.20" fill="#0f0927" opacity="0.9"/>
<rect x="92.32" y="372.67" width="3.29" height="1.20" fill="#110a2a" opacity="0.9"/>
<rect x="97.43" y="372.67" width="1.47" height="1.20" fill="#0e0825" opacity="0.9"/>
<rect x="15.76" y="374.00" width="3.82" height="1.20" fill="#0d0822" opacity="0.9"/>
<rect x="21.60" y="374.00" width="2.42" height="1.20" fill="#0b061d" opacity="0.9"/>
<rect x="33.98" y="374.00" width="3.31" height="1.20" fill="#0e0825" opacity="0.9"/>
<rect x="37.29" y="374.00" width="2.13" height="1.20" fill="#0d0722" opacity="0.9"/>
<rect x="41.42" y="374.00" width="1.60" height="1.20" fill="#0c071f" opacity="0.9"/>
<rect x="48.19" y="374.00" width="1.83" height="1.20" fill="#0d0721" opacity="0.9"/>
<rect x="56.38" y="374.00" width="1.54" height="1.20" fill="#0d0722" opacity="0.9"/>
<rect x="57.93" y="374.00" width="2.57" height="1.20" fill="#0d0822" opacity="0.9"/>
<rect x="62.32" y="374.00" width="2.03" height="1.20" fill="#0b061d" opacity="0.9"/>
<rect x="64.34" y="374.00" width="3.62" height="1.20" fill="#0e0825" opacity="0.9"/>
<rect x="67.96" y="374.00" width="2.05" height="1.20" fill="#150c35" opacity="0.9"/>
<rect x="79.60" y="374.00" width="2.07" height="1.20" fill="#100928" opacity="0.9"/>
<rect x="90.49" y="374.00" width="3.03" height="1.20" fill="#0b061e" opacity="0.9"/>
<rect x="25.95" y="375.34" width="3.63" height="1.20" fill="#0d0822" opacity="0.9"/>
<rect x="29.59" y="375.34" width="2.30" height="1.20" fill="#0e0824" opacity="0.9"/>
<rect x="36.94" y="375.34" width="1.65" height="1.20" fill="#130b2f" opacity="0.9"/>
<rect x="38.59" y="375.34" width="2.23" height="1.20" fill="#0e0824" opacity="0.9"/>
<rect x="40.83" y="375.34" width="2.95" height="1.20" fill="#0d0823" opacity="0.9"/>
<rect x="53.02" y="375.34" width="2.86" height="1.20" fill="#130b30" opacity="0.9"/>
<rect x="55.88" y="375.34" width="3.71" height="1.20" fill="#140b32" opacity="0.9"/>
<rect x="77.29" y="375.34" width="3.26" height="1.20" fill="#090518" opacity="0.9"/>
<rect x="84.29" y="375.34" width="3.28" height="1.20" fill="#0e0825" opacity="0.9"/>
<rect x="87.57" y="375.34" width="3.53" height="1.20" fill="#120a2d" opacity="0.9"/>
<rect x="98.25" y="375.34" width="0.65" height="1.20" fill="#0e0824" opacity="0.9"/>
<rect x="26.23" y="376.67" width="3.34" height="1.20" fill="#0e0824" opacity="0.9"/>
<rect x="29.57" y="376.67" width="2.72" height="1.20" fill="#140c32" opacity="0.9"/>
<rect x="32.30" y="376.67" width="2.43" height="1.20" fill="#0a061a" opacity="0.9"/>
<rect x="34.73" y="376.67" width="2.84" height="1.20" fill="#150c34" opacity="0.9"/>
<rect x="40.66" y="376.67" width="1.89" height="1.20" fill="#120a2c" opacity="0.9"/>
<rect x="48.35" y="376.67" width="3.77" height="1.20" fill="#0c071f" opacity="0.9"/>
<rect x="52.11" y="376.67" width="3.49" height="1.20" fill="#0d0721" opacity="0.9"/>
<rect x="55.60" y="376.67" width="2.58" height="1.20" fill="#120b2e" opacity="0.9"/>
<rect x="59.92" y="376.67" width="3.29" height="1.20" fill="#120a2d" opacity="0.9"/>
<rect x="65.59" y="376.67" width="1.76" height="1.20" fill="#100928" opacity="0.9"/>
<rect x="71.97" y="376.67" width="3.66" height="1.20" fill="#0b061e" opacity="0.9"/>
<rect x="75.63" y="376.67" width="3.05" height="1.20" fill="#0a061b" opacity="0.9"/>
<rect x="87.05" y="376.67" width="3.62" height="1.20" fill="#0e0823" opacity="0.9"/>
<rect x="97.71" y="376.67" width="1.19" height="1.20" fill="#0d0721" opacity="0.9"/>
<rect x="18.12" y="378.00" width="3.78" height="1.20" fill="#0b061e" opacity="0.9"/>
<rect x="27.43" y="378.00" width="3.50" height="1.20" fill="#0d0822" opacity="0.9"/>
<rect x="30.93" y="378.00" width="3.50" height="1.20" fill="#120a2d" opacity="0.9"/>
<rect x="50.84" y="378.00" width="2.47" height="1.20" fill="#0c0720" opacity="0.9"/>
<rect x="55.38" y="378.00" width="1.72" height="1.20" fill="#0f0927" opacity="0.9"/>
<rect x="67.80" y="378.00" width="1.58" height="1.20" fill="#0a061b" opacity="0.9"/>
<rect x="71.75" y="378.00" width="2.05" height="1.20" fill="#0a061b" opacity="0.9"/>
<rect x="77.67" y="378.00" width="3.78" height="1.20" fill="#0b061e" opacity="0.9"/>
<rect x="81.45" y="378.00" width="3.70" height="1.20" fill="#0b061c" opacity="0.9"/>
<rect x="30.70" y="379.33" width="3.39" height="1.20" fill="#120a2c" opacity="0.9"/>
<rect x="34.09" y="379.33" width="3.67" height="1.20" fill="#150c33" opacity="0.9"/>
<rect x="40.34" y="379.33" width="1.53" height="1.20" fill="#0d0721" opacity="0.9"/>
<rect x="47.41" y="379.33" width="3.77" height="1.20" fill="#0c0720" opacity="0.9"/>
<rect x="70.49" y="379.33" width="1.89" height="1.20" fill="#120a2d" opacity="0.9"/>
<rect x="72.39" y="379.33" width="3.54" height="1.20" fill="#140b31" opacity="0.9"/>
<rect x="75.93" y="379.33" width="3.39" height="1.20" fill="#0b061c" opacity="0.9"/>
<rect x="86.40" y="379.33" width="3.86" height="1.20" fill="#120a2c" opacity="0.9"/>
<rect x="16.03" y="380.67" width="3.87" height="1.20" fill="#100929" opacity="0.9"/>
<rect x="19.91" y="380.67" width="2.53" height="1.20" fill="#130b30" opacity="0.9"/>
<rect x="25.18" y="380.67" width="1.59" height="1.20" fill="#0c071e" opacity="0.9"/>
<rect x="26.77" y="380.67" width="3.54" height="1.20" fill="#090518" opacity="0.9"/>
<rect x="40.86" y="380.67" width="3.15" height="1.20" fill="#0f0826" opacity="0.9"/>
<rect x="55.53" y="380.67" width="1.98" height="1.20" fill="#0c0720" opacity="0.9"/>
<rect x="78.67" y="380.67" width="3.07" height="1.20" fill="#100928" opacity="0.9"/>
<rect x="84.32" y="380.67" width="3.44" height="1.20" fill="#0d0823" opacity="0.9"/>
<rect x="100.1" y="288.7" width="85.70" height="93.30" fill="#06040f"/>
<rect x="100.10" y="288.70" width="1.82" height="1.20" fill="#0a061a" opacity="0.9"/>
<rect x="107.12" y="288.70" width="2.83" height="1.20" fill="#0b061d" opacity="0.9"/>
<rect x="118.20" y="288.70" width="2.98" height="1.20" fill="#0f0926" opacity="0.9"/>
<rect x="134.70" y="288.70" width="1.99" height="1.20" fill="#100929" opacity="0.9"/>
<rect x="154.98" y="288.70" width="2.89" height="1.20" fill="#150c33" opacity="0.9"/>
<rect x="157.86" y="288.70" width="2.06" height="1.20" fill="#100928" opacity="0.9"/>
<rect x="167.24" y="288.70" width="2.78" height="1.20" fill="#0b061d" opacity="0.9"/>
<rect x="100.10" y="290.03" width="3.19" height="1.20" fill="#120a2e" opacity="0.9"/>
<rect x="112.41" y="290.03" width="2.70" height="1.20" fill="#120a2d" opacity="0.9"/>
<rect x="115.11" y="290.03" width="3.17" height="1.20" fill="#0f0927" opacity="0.9"/>
<rect x="120.48" y="290.03" width="1.92" height="1.20" fill="#0c071f" opacity="0.9"/>
<rect x="133.85" y="290.03" width="3.13" height="1.20" fill="#120a2e" opacity="0.9"/>
<rect x="142.44" y="290.03" width="2.06" height="1.20" fill="#11092a" opacity="0.9"/>
<rect x="144.50" y="290.03" width="2.37" height="1.20" fill="#10092a" opacity="0.9"/>
<rect x="161.87" y="290.03" width="1.78" height="1.20" fill="#0e0825" opacity="0.9"/>
<rect x="163.65" y="290.03" width="3.20" height="1.20" fill="#150c34" opacity="0.9"/>
<rect x="171.75" y="290.03" width="1.88" height="1.20" fill="#110a2a" opacity="0.9"/>
<rect x="173.63" y="290.03" width="2.41" height="1.20" fill="#0a061c" opacity="0.9"/>
<rect x="179.83" y="290.03" width="2.95" height="1.20" fill="#150c33" opacity="0.9"/>
<rect x="105.01" y="291.37" width="1.57" height="1.20" fill="#150c35" opacity="0.9"/>
<rect x="106.58" y="291.37" width="2.42" height="1.20" fill="#0c071f" opacity="0.9"/>
<rect x="111.41" y="291.37" width="2.45" height="1.20" fill="#0f0826" opacity="0.9"/>
<rect x="113.87" y="291.37" width="2.67" height="1.20" fill="#0f0927" opacity="0.9"/>
<rect x="124.87" y="291.37" width="1.79" height="1.20" fill="#0e0824" opacity="0.9"/>
<rect x="126.66" y="291.37" width="2.53" height="1.20" fill="#140b31" opacity="0.9"/>
<rect x="131.45" y="291.37" width="3.02" height="1.20" fill="#0e0824" opacity="0.9"/>
<rect x="139.63" y="291.37" width="3.85" height="1.20" fill="#0f0825" opacity="0.9"/>
<rect x="143.48" y="291.37" width="3.17" height="1.20" fill="#150c34" opacity="0.9"/>
<rect x="149.38" y="291.37" width="1.67" height="1.20" fill="#120a2c" opacity="0.9"/>
<rect x="160.82" y="291.37" width="2.79" height="1.20" fill="#140c32" opacity="0.9"/>
<rect x="178.21" y="291.37" width="3.14" height="1.20" fill="#0b061e" opacity="0.9"/>
<rect x="181.35" y="291.37" width="2.09" height="1.20" fill="#0e0824" opacity="0.9"/>
<rect x="100.10" y="292.70" width="3.96" height="1.20" fill="#0c0720" opacity="0.9"/>
<rect x="104.06" y="292.70" width="2.80" height="1.20" fill="#110a2a" opacity="0.9"/>
<rect x="108.45" y="292.70" width="2.97" height="1.20" fill="#150c35" opacity="0.9"/>
<rect x="111.41" y="292.70" width="2.28" height="1.20" fill="#0a061b" opacity="0.9"/>
<rect x="115.79" y="292.70" width="3.35" height="1.20" fill="#140b32" opacity="0.9"/>
<rect x="119.14" y="292.70" width="1.91" height="1.20" fill="#100929" opacity="0.9"/>
<rect x="129.23" y="292.70" width="2.94" height="1.20" fill="#100928" opacity="0.9"/>
<rect x="132.17" y="292.70" width="3.86" height="1.20" fill="#0d0721" opacity="0.9"/>
<rect x="136.03" y="292.70" width="2.27" height="1.20" fill="#130b2e" opacity="0.9"/>
<rect x="138.30" y="292.70" width="3.12" height="1.20" fill="#120a2d" opacity="0.9"/>
<rect x="141.42" y="292.70" width="3.70" height="1.20" fill="#090518" opacity="0.9"/>
<rect x="164.37" y="292.70" width="2.77" height="1.20" fill="#0c0721" opacity="0.9"/>
<rect x="107.59" y="294.03" width="2.16" height="1.20" fill="#0d0822" opacity="0.9"/>
<rect x="113.05" y="294.03" width="2.29" height="1.20" fill="#100928" opacity="0.9"/>
<rect x="119.84" y="294.03" width="1.60" height="1.20" fill="#140b32" opacity="0.9"/>
<rect x="121.44" y="294.03" width="3.22" height="1.20" fill="#110a2b" opacity="0.9"/>
<rect x="155.65" y="294.03" width="2.15" height="1.20" fill="#090518" opacity="0.9"/>
<rect x="164.44" y="294.03" width="3.39" height="1.20" fill="#0d0721" opacity="0.9"/>
<rect x="167.83" y="294.03" width="3.80" height="1.20" fill="#140b32" opacity="0.9"/>
<rect x="171.64" y="294.03" width="3.49" height="1.20" fill="#0b061e" opacity="0.9"/>
<rect x="182.00" y="294.03" width="2.84" height="1.20" fill="#0e0823" opacity="0.9"/>
<rect x="110.89" y="295.36" width="1.79" height="1.20" fill="#120a2d" opacity="0.9"/>
<rect x="112.68" y="295.36" width="1.81" height="1.20" fill="#150c33" opacity="0.9"/>
<rect x="114.49" y="295.36" width="2.52" height="1.20" fill="#110a2b" opacity="0.9"/>
<rect x="121.80" y="295.36" width="3.56" height="1.20" fill="#100928" opacity="0.9"/>
<rect x="125.36" y="295.36" width="2.61" height="1.20" fill="#140c33" opacity="0.9"/>
<rect x="140.43" y="295.36" width="2.05" height="1.20" fill="#140b31" opacity="0.9"/>
<rect x="145.49" y="295.36" width="3.35" height="1.20" fill="#100928" opacity="0.9"/>
<rect x="153.67" y="295.36" width="2.23" height="1.20" fill="#0a061a" opacity="0.9"/>
<rect x="155.90" y="295.36" width="1.60" height="1.20" fill="#090518" opacity="0.9"/>
<rect x="157.50" y="295.36" width="2.56" height="1.20" fill="#140b32" opacity="0.9"/>
<rect x="163.40" y="295.36" width="2.40" height="1.20" fill="#11092a" opacity="0.9"/>
<rect x="165.80" y="295.36" width="2.39" height="1.20" fill="#0a061c" opacity="0.9"/>
<rect x="171.39" y="295.36" width="3.98" height="1.20" fill="#130b2e" opacity="0.9"/>
<rect x="179.92" y="295.36" width="3.79" height="1.20" fill="#0e0824" opacity="0.9"/>
<rect x="106.01" y="296.70" width="3.13" height="1.20" fill="#160c35" opacity="0.9"/>
<rect x="128.24" y="296.70" width="2.71" height="1.20" fill="#0f0927" opacity="0.9"/>
<rect x="130.95" y="296.70" width="3.38" height="1.20" fill="#0f0825" opacity="0.9"/>
<rect x="134.33" y="296.70" width="3.59" height="1.20" fill="#140b31" opacity="0.9"/>
<rect x="137.92" y="296.70" width="2.38" height="1.20" fill="#120a2c" opacity="0.9"/>
<rect x="140.29" y="296.70" width="2.93" height="1.20" fill="#0b061c" opacity="0.9"/>
<rect x="153.01" y="296.70" width="3.78" height="1.20" fill="#0a061c" opacity="0.9"/>
<rect x="156.79" y="296.70" width="3.61" height="1.20" fill="#0f0927" opacity="0.9"/>
<rect x="162.91" y="296.70" width="3.06" height="1.20" fill="#09051a" opacity="0.9"/>
<rect x="171.32" y="296.70" width="1.65" height="1.20" fill="#130b30" opacity="0.9"/>
<rect x="172.97" y="296.70" width="2.22" height="1.20" fill="#0b061d" opacity="0.9"/>
<rect x="179.04" y="296.70" width="2.51" height="1.20" fill="#0d0823" opacity="0.9"/>
<rect x="100.10" y="298.03" width="3.20" height="1.20" fill="#150c34" opacity="0.9"/>
<rect x="105.22" y="298.03" width="2.39" height="1.20" fill="#110a2b" opacity="0.9"/>
<rect x="111.70" y="298.03" width="2.59" height="1.20" fill="#0c0720" opacity="0.9"/>
<rect x="119.99" y="298.03" width="1.91" height="1.20" fill="#0d0823" opacity="0.9"/>
<rect x="121.91" y="298.03" width="2.30" height="1.20" fill="#120a2e" opacity="0.9"/>
<rect x="125.72" y="298.03" width="1.83" height="1.20" fill="#0c0720" opacity="0.9"/>
<rect x="133.55" y="298.03" width="3.97" height="1.20" fill="#0b061d" opacity="0.9"/>
<rect x="143.93" y="298.03" width="3.31" height="1.20" fill="#150c34" opacity="0.9"/>
<rect x="178.05" y="298.03" width="2.93" height="1.20" fill="#0d0721" opacity="0.9"/>
<rect x="180.98" y="298.03" width="2.32" height="1.20" fill="#0d0823" opacity="0.9"/>
<rect x="185.72" y="298.03" width="0.08" height="1.20" fill="#150c34" opacity="0.9"/>
<rect x="100.10" y="299.36" width="2.89" height="1.20" fill="#0e0825" opacity="0.9"/>
<rect x="117.91" y="299.36" width="3.23" height="1.20" fill="#0a051a" opacity="0.9"/>
<rect x="123.77" y="299.36" width="3.19" height="1.20" fill="#130b30" opacity="0.9"/>
<rect x="128.57" y="299.36" width="1.94" height="1.20" fill="#0c071f" opacity="0.9"/>
<rect x="137.27" y="299.36" width="1.65" height="1.20" fill="#0a061a" opacity="0.9"/>
<rect x="138.92" y="299.36" width="1.82" height="1.20" fill="#0c0720" opacity="0.9"/>
<rect x="145.01" y="299.36" width="3.46" height="1.20" fill="#0f0926" opacity="0.9"/>
<rect x="172.83" y="299.36" width="1.99" height="1.20" fill="#140b31" opacity="0.9"/>
<rect x="174.82" y="299.36" width="2.59" height="1.20" fill="#120a2e" opacity="0.9"/>
<rect x="177.41" y="299.36" width="1.84" height="1.20" fill="#150c33" opacity="0.9"/>
<rect x="105.33" y="300.70" width="1.92" height="1.20" fill="#130b2f" opacity="0.9"/>
<rect x="110.91" y="300.70" width="1.94" height="1.20" fill="#150c35" opacity="0.9"/>
<rect x="115.46" y="300.70" width="1.58" height="1.20" fill="#0a061b" opacity="0.9"/>
<rect x="117.04" y="300.70" width="3.05" height="1.20" fill="#0b061d" opacity="0.9"/>
<rect x="121.95" y="300.70" width="3.13" height="1.20" fill="#0d0721" opacity="0.9"/>
<rect x="127.27" y="300.70" width="2.92" height="1.20" fill="#0b061c" opacity="0.9"/>
<rect x="130.20" y="300.70" width="3.07" height="1.20" fill="#110a2b" opacity="0.9"/>
<rect x="133.26" y="300.70" width="1.94" height="1.20" fill="#0a051a" opacity="0.9"/>
<rect x="138.84" y="300.70" width="1.55" height="1.20" fill="#110a2a" opacity="0.9"/>
<rect x="143.95" y="300.70" width="2.94" height="1.20" fill="#150c35" opacity="0.9"/>
<rect x="146.89" y="300.70" width="2.87" height="1.20" fill="#120a2e" opacity="0.9"/>
<rect x="154.91" y="300.70" width="1.56" height="1.20" fill="#130b30" opacity="0.9"/>
<rect x="156.47" y="300.70" width="3.62" height="1.20" fill="#150c33" opacity="0.9"/>
<rect x="160.09" y="300.70" width="3.53" height="1.20" fill="#140b32" opacity="0.9"/>
<rect x="163.62" y="300.70" width="1.53" height="1.20" fill="#0b061e" opacity="0.9"/>
<rect x="179.50" y="300.70" width="2.63" height="1.20" fill="#130b2f" opacity="0.9"/>
<rect x="100.10" y="302.03" width="3.35" height="1.20" fill="#0d0822" opacity="0.9"/>
<rect x="103.45" y="302.03" width="3.08" height="1.20" fill="#150c35" opacity="0.9"/>
<rect x="110.51" y="302.03" width="3.30" height="1.20" fill="#130b2f" opacity="0.9"/>
<rect x="120.37" y="302.03" width="2.12" height="1.20" fill="#0b061d" opacity="0.9"/>
<rect x="125.31" y="302.03" width="3.64" height="1.20" fill="#0b061d" opacity="0.9"/>
<rect x="128.94" y="302.03" width="2.55" height="1.20" fill="#0c071f" opacity="0.9"/>
<rect x="134.22" y="302.03" width="1.76" height="1.20" fill="#0f0826" opacity="0.9"/>
<rect x="135.98" y="302.03" width="2.80" height="1.20" fill="#110a2b" opacity="0.9"/>
<rect x="147.30" y="302.03" width="2.18" height="1.20" fill="#0a051a" opacity="0.9"/>
<rect x="152.71" y="302.03" width="2.19" height="1.20" fill="#150c35" opacity="0.9"/>
<rect x="164.97" y="302.03" width="1.56" height="1.20" fill="#130b2f" opacity="0.9"/>
<rect x="166.53" y="302.03" width="1.78" height="1.20" fill="#0d0722" opacity="0.9"/>
<rect x="168.31" y="302.03" width="3.92" height="1.20" fill="#0e0824" opacity="0.9"/>
<rect x="172.23" y="302.03" width="2.83" height="1.20" fill="#100928" opacity="0.9"/>
<rect x="175.06" y="302.03" width="1.68" height="1.20" fill="#0d0721" opacity="0.9"/>
<rect x="180.72" y="302.03" width="2.25" height="1.20" fill="#0c0721" opacity="0.9"/>
<rect x="182.97" y="302.03" width="1.91" height="1.20" fill="#120a2c" opacity="0.9"/>
<rect x="184.88" y="302.03" width="0.92" height="1.20" fill="#090519" opacity="0.9"/>
<rect x="100.10" y="303.36" width="3.47" height="1.20" fill="#0c0720" opacity="0.9"/>
<rect x="107.19" y="303.36" width="2.88" height="1.20" fill="#130b30" opacity="0.9"/>
<rect x="110.07" y="303.36" width="3.41" height="1.20" fill="#0c0720" opacity="0.9"/>
<rect x="119.00" y="303.36" width="2.03" height="1.20" fill="#120a2c" opacity="0.9"/>
<rect x="125.00" y="303.36" width="1.55" height="1.20" fill="#0b071e" opacity="0.9"/>
<rect x="131.50" y="303.36" width="3.19" height="1.20" fill="#140c32" opacity="0.9"/>
<rect x="134.69" y="303.36" width="2.28" height="1.20" fill="#130b2f" opacity="0.9"/>
<rect x="153.47" y="303.36" width="2.40" height="1.20" fill="#160c35" opacity="0.9"/>
<rect x="155.87" y="303.36" width="1.66" height="1.20" fill="#100929" opacity="0.9"/>
<rect x="161.51" y="303.36" width="2.02" height="1.20" fill="#0b061c" opacity="0.9"/>
<rect x="163.53" y="303.36" width="2.41" height="1.20" fill="#0c0720" opacity="0.9"/>
<rect x="169.64" y="303.36" width="3.95" height="1.20" fill="#120a2c" opacity="0.9"/>
<rect x="175.49" y="303.36" width="2.75" height="1.20" fill="#130b2f" opacity="0.9"/>
<rect x="183.71" y="303.36" width="1.69" height="1.20" fill="#130b30" opacity="0.9"/>
<rect x="185.40" y="303.36" width="0.40" height="1.20" fill="#110a2b" opacity="0.9"/>
<rect x="103.49" y="304.69" width="1.84" height="1.20" fill="#09051a" opacity="0.9"/>
<rect x="105.33" y="304.69" width="3.23" height="1.20" fill="#120a2c" opacity="0.9"/>
<rect x="117.62" y="304.69" width="1.63" height="1.20" fill="#120a2c" opacity="0.9"/>
<rect x="120.95" y="304.69" width="3.72" height="1.20" fill="#120a2d" opacity="0.9"/>
<rect x="127.79" y="304.69" width="2.74" height="1.20" fill="#140b32" opacity="0.9"/>
<rect x="147.52" y="304.69" width="3.30" height="1.20" fill="#0e0823" opacity="0.9"/>
<rect x="158.60" y="304.69" width="3.56" height="1.20" fill="#0a061b" opacity="0.9"/>
<rect x="162.16" y="304.69" width="2.03" height="1.20" fill="#150c35" opacity="0.9"/>
<rect x="164.18" y="304.69" width="3.52" height="1.20" fill="#090518" opacity="0.9"/>
<rect x="173.48" y="304.69" width="3.59" height="1.20" fill="#150c34" opacity="0.9"/>
<rect x="179.72" y="304.69" width="1.88" height="1.20" fill="#0b061d" opacity="0.9"/>
<rect x="183.80" y="304.69" width="2.00" height="1.20" fill="#0a061b" opacity="0.9"/>
<rect x="107.73" y="306.03" width="1.61" height="1.20" fill="#0f0926" opacity="0.9"/>
<rect x="114.90" y="306.03" width="1.67" height="1.20" fill="#0c0720" opacity="0.9"/>
<rect x="119.27" y="306.03" width="1.77" height="1.20" fill="#090519" opacity="0.9"/>
<rect x="128.58" y="306.03" width="2.74" height="1.20" fill="#130b2f" opacity="0.9"/>
<rect x="131.32" y="306.03" width="2.16" height="1.20" fill="#090519" opacity="0.9"/>
<rect x="138.28" y="306.03" width="2.72" height="1.20" fill="#0d0822" opacity="0.9"/>
<rect x="141.00" y="306.03" width="2.77" height="1.20" fill="#0f0927" opacity="0.9"/>
<rect x="143.78" y="306.03" width="1.56" height="1.20" fill="#0a061b" opacity="0.9"/>
<rect x="157.78" y="306.03" width="1.80" height="1.20" fill="#09051a" opacity="0.9"/>
<rect x="163.11" y="306.03" width="3.82" height="1.20" fill="#130b30" opacity="0.9"/>
<rect x="175.46" y="306.03" width="3.81" height="1.20" fill="#100928" opacity="0.9"/>
<rect x="185.49" y="306.03" width="0.31" height="1.20" fill="#110a2b" opacity="0.9"/>
<rect x="110.81" y="307.36" width="3.54" height="1.20" fill="#150c33" opacity="0.9"/>
<rect x="118.27" y="307.36" width="3.55" height="1.20" fill="#0b061d" opacity="0.9"/>
<rect x="123.87" y="307.36" width="3.73" height="1.20" fill="#150c33" opacity="0.9"/>
<rect x="127.60" y="307.36" width="3.58" height="1.20" fill="#090519" opacity="0.9"/>
<rect x="138.62" y="307.36" width="2.26" height="1.20" fill="#140b31" opacity="0.9"/>
<rect x="144.71" y="307.36" width="3.15" height="1.20" fill="#150c33" opacity="0.9"/>
<rect x="150.89" y="307.36" width="3.22" height="1.20" fill="#0b061d" opacity="0.9"/>
<rect x="159.73" y="307.36" width="2.05" height="1.20" fill="#0c071f" opacity="0.9"/>
<rect x="164.04" y="307.36" width="3.85" height="1.20" fill="#0c071e" opacity="0.9"/>
<rect x="171.25" y="307.36" width="2.09" height="1.20" fill="#0e0824" opacity="0.9"/>
<rect x="173.34" y="307.36" width="1.65" height="1.20" fill="#100928" opacity="0.9"/>
<rect x="174.99" y="307.36" width="2.11" height="1.20" fill="#130b2f" opacity="0.9"/>
<rect x="101.88" y="308.69" width="1.56" height="1.20" fill="#0c071f" opacity="0.9"/>
<rect x="103.44" y="308.69" width="1.82" height="1.20" fill="#0c071f" opacity="0.9"/>
<rect x="118.62" y="308.69" width="3.94" height="1.20" fill="#0d0721" opacity="0.9"/>
<rect x="137.52" y="308.69" width="1.56" height="1.20" fill="#110a2b" opacity="0.9"/>
<rect x="150.66" y="308.69" width="2.45" height="1.20" fill="#0e0824" opacity="0.9"/>
<rect x="153.11" y="308.69" width="2.54" height="1.20" fill="#0e0824" opacity="0.9"/>
<rect x="157.33" y="308.69" width="2.80" height="1.20" fill="#100928" opacity="0.9"/>
<rect x="170.44" y="308.69" width="3.23" height="1.20" fill="#120a2c" opacity="0.9"/>
<rect x="177.62" y="308.69" width="1.61" height="1.20" fill="#090518" opacity="0.9"/>
<rect x="104.86" y="310.03" width="3.07" height="1.20" fill="#100928" opacity="0.9"/>
<rect x="107.93" y="310.03" width="3.79" height="1.20" fill="#120a2d" opacity="0.9"/>
<rect x="136.11" y="310.03" width="3.27" height="1.20" fill="#090518" opacity="0.9"/>
<rect x="139.39" y="310.03" width="1.80" height="1.20" fill="#0f0927" opacity="0.9"/>
<rect x="146.27" y="310.03" width="3.68" height="1.20" fill="#0f0926" opacity="0.9"/>
<rect x="149.95" y="310.03" width="2.16" height="1.20" fill="#100929" opacity="0.9"/>
<rect x="152.12" y="310.03" width="1.81" height="1.20" fill="#0c0720" opacity="0.9"/>
<rect x="157.25" y="310.03" width="2.04" height="1.20" fill="#150c34" opacity="0.9"/>
<rect x="168.36" y="310.03" width="3.73" height="1.20" fill="#150c34" opacity="0.9"/>
<rect x="172.09" y="310.03" width="3.12" height="1.20" fill="#0f0826" opacity="0.9"/>
<rect x="177.46" y="310.03" width="2.50" height="1.20" fill="#140b32" opacity="0.9"/>
<rect x="179.96" y="310.03" width="2.33" height="1.20" fill="#120a2c" opacity="0.9"/>
<rect x="184.12" y="310.03" width="1.68" height="1.20" fill="#150c34" opacity="0.9"/>
<rect x="100.10" y="311.36" width="3.23" height="1.20" fill="#140c32" opacity="0.9"/>
<rect x="106.45" y="311.36" width="3.43" height="1.20" fill="#0d0721" opacity="0.9"/>
<rect x="123.84" y="311.36" width="1.81" height="1.20" fill="#140b31" opacity="0.9"/>
<rect x="125.65" y="311.36" width="1.57" height="1.20" fill="#0f0927" opacity="0.9"/>
<rect x="127.22" y="311.36" width="2.09" height="1.20" fill="#090518" opacity="0.9"/>
<rect x="129.31" y="311.36" width="3.17" height="1.20" fill="#0c0720" opacity="0.9"/>
<rect x="140.22" y="311.36" width="1.98" height="1.20" fill="#140b31" opacity="0.9"/>
<rect x="143.85" y="311.36" width="2.71" height="1.20" fill="#0b061d" opacity="0.9"/>
<rect x="146.57" y="311.36" width="2.75" height="1.20" fill="#090518" opacity="0.9"/>
<rect x="149.31" y="311.36" width="2.21" height="1.20" fill="#0c071f" opacity="0.9"/>
<rect x="164.01" y="311.36" width="2.89" height="1.20" fill="#130b30" opacity="0.9"/>
<rect x="166.90" y="311.36" width="2.82" height="1.20" fill="#120a2e" opacity="0.9"/>
<rect x="103.36" y="312.69" width="2.88" height="1.20" fill="#0c0720" opacity="0.9"/>
<rect x="108.37" y="312.69" width="1.56" height="1.20" fill="#0b061e" opacity="0.9"/>
<rect x="113.48" y="312.69" width="2.27" height="1.20" fill="#110a2c" opacity="0.9"/>
<rect x="123.98" y="312.69" width="3.68" height="1.20" fill="#0e0823" opacity="0.9"/>
<rect x="137.05" y="312.69" width="3.56" height="1.20" fill="#140c33" opacity="0.9"/>
<rect x="144.14" y="312.69" width="3.75" height="1.20" fill="#0b061d" opacity="0.9"/>
<rect x="147.88" y="312.69" width="3.51" height="1.20" fill="#0d0722" opacity="0.9"/>
<rect x="160.61" y="312.69" width="3.07" height="1.20" fill="#0c071f" opacity="0.9"/>
<rect x="165.65" y="312.69" width="3.30" height="1.20" fill="#120a2e" opacity="0.9"/>
<rect x="100.10" y="314.02" width="3.86" height="1.20" fill="#090519" opacity="0.9"/>
<rect x="110.63" y="314.02" width="1.74" height="1.20" fill="#120a2d" opacity="0.9"/>
<rect x="112.36" y="314.02" width="2.07" height="1.20" fill="#110a2b" opacity="0.9"/>
<rect x="122.10" y="314.02" width="1.52" height="1.20" fill="#100929" opacity="0.9"/>
<rect x="160.34" y="314.02" width="3.77" height="1.20" fill="#090518" opacity="0.9"/>
<rect x="175.69" y="314.02" width="3.75" height="1.20" fill="#0f0926" opacity="0.9"/>
<rect x="184.86" y="314.02" width="0.94" height="1.20" fill="#130b2e" opacity="0.9"/>
<rect x="101.88" y="315.36" width="3.07" height="1.20" fill="#100929" opacity="0.9"/>
<rect x="104.95" y="315.36" width="3.23" height="1.20" fill="#100928" opacity="0.9"/>
<rect x="108.18" y="315.36" width="2.49" height="1.20" fill="#0c071f" opacity="0.9"/>
<rect x="123.47" y="315.36" width="2.31" height="1.20" fill="#150c33" opacity="0.9"/>
<rect x="125.78" y="315.36" width="1.70" height="1.20" fill="#140b31" opacity="0.9"/>
<rect x="129.76" y="315.36" width="1.55" height="1.20" fill="#0e0825" opacity="0.9"/>
<rect x="141.72" y="315.36" width="2.37" height="1.20" fill="#0b061e" opacity="0.9"/>
<rect x="150.44" y="315.36" width="3.35" height="1.20" fill="#100929" opacity="0.9"/>
<rect x="153.78" y="315.36" width="2.01" height="1.20" fill="#120a2d" opacity="0.9"/>
<rect x="155.79" y="315.36" width="2.02" height="1.20" fill="#090518" opacity="0.9"/>
<rect x="157.81" y="315.36" width="2.30" height="1.20" fill="#0a061b" opacity="0.9"/>
<rect x="163.56" y="315.36" width="2.14" height="1.20" fill="#09051a" opacity="0.9"/>
<rect x="165.71" y="315.36" width="3.53" height="1.20" fill="#0a051a" opacity="0.9"/>
<rect x="175.46" y="315.36" width="2.95" height="1.20" fill="#140c32" opacity="0.9"/>
<rect x="178.41" y="315.36" width="3.39" height="1.20" fill="#130b31" opacity="0.9"/>
<rect x="102.23" y="316.69" width="2.14" height="1.20" fill="#0a061b" opacity="0.9"/>
<rect x="110.62" y="316.69" width="2.14" height="1.20" fill="#0e0824" opacity="0.9"/>
<rect x="129.72" y="316.69" width="3.40" height="1.20" fill="#130b2f" opacity="0.9"/>
<rect x="137.28" y="316.69" width="3.72" height="1.20" fill="#0b061d" opacity="0.9"/>
<rect x="152.25" y="316.69" width="2.20" height="1.20" fill="#0f0927" opacity="0.9"/>
<rect x="185.53" y="316.69" width="0.27" height="1.20" fill="#10092a" opacity="0.9"/>
<rect x="107.15" y="318.02" width="3.38" height="1.20" fill="#100928" opacity="0.9"/>
<rect x="112.18" y="318.02" width="3.47" height="1.20" fill="#0e0825" opacity="0.9"/>
<rect x="117.37" y="318.02" width="3.25" height="1.20" fill="#11092a" opacity="0.9"/>
<rect x="120.62" y="318.02" width="3.70" height="1.20" fill="#140c33" opacity="0.9"/>
<rect x="124.32" y="318.02" width="2.18" height="1.20" fill="#0a061a" opacity="0.9"/>
<rect x="126.50" y="318.02" width="3.39" height="1.20" fill="#140b31" opacity="0.9"/>
<rect x="129.89" y="318.02" width="2.59" height="1.20" fill="#130b30" opacity="0.9"/>
<rect x="132.48" y="318.02" width="2.32" height="1.20" fill="#090518" opacity="0.9"/>
<rect x="139.79" y="318.02" width="1.70" height="1.20" fill="#140b32" opacity="0.9"/>
<rect x="147.79" y="318.02" width="3.35" height="1.20" fill="#0b061e" opacity="0.9"/>
<rect x="153.93" y="318.02" width="3.93" height="1.20" fill="#110a2a" opacity="0.9"/>
<rect x="157.86" y="318.02" width="2.22" height="1.20" fill="#0c0720" opacity="0.9"/>
<rect x="164.07" y="318.02" width="2.66" height="1.20" fill="#140b31" opacity="0.9"/>
<rect x="168.45" y="318.02" width="2.10" height="1.20" fill="#090519" opacity="0.9"/>
<rect x="172.93" y="318.02" width="2.40" height="1.20" fill="#120a2e" opacity="0.9"/>
<rect x="100.10" y="319.36" width="2.95" height="1.20" fill="#110a2c" opacity="0.9"/>
<rect x="106.00" y="319.36" width="3.42" height="1.20" fill="#0d0823" opacity="0.9"/>
<rect x="121.44" y="319.36" width="1.70" height="1.20" fill="#150c33" opacity="0.9"/>
<rect x="134.62" y="319.36" width="3.88" height="1.20" fill="#0d0822" opacity="0.9"/>
<rect x="149.08" y="319.36" width="2.62" height="1.20" fill="#150c34" opacity="0.9"/>
<rect x="160.18" y="319.36" width="2.05" height="1.20" fill="#0e0825" opacity="0.9"/>
<rect x="162.23" y="319.36" width="1.80" height="1.20" fill="#120a2d" opacity="0.9"/>
<rect x="165.78" y="319.36" width="2.53" height="1.20" fill="#130b2f" opacity="0.9"/>
<rect x="168.31" y="319.36" width="2.44" height="1.20" fill="#090518" opacity="0.9"/>
<rect x="175.43" y="319.36" width="2.97" height="1.20" fill="#0b061c" opacity="0.9"/>
<rect x="105.76" y="320.69" width="2.03" height="1.20" fill="#0f0927" opacity="0.9"/>
<rect x="118.68" y="320.69" width="2.14" height="1.20" fill="#0f0826" opacity="0.9"/>
<rect x="122.99" y="320.69" width="3.85" height="1.20" fill="#130b30" opacity="0.9"/>
<rect x="130.56" y="320.69" width="2.38" height="1.20" fill="#100928" opacity="0.9"/>
<rect x="152.06" y="320.69" width="3.43" height="1.20" fill="#0c0720" opacity="0.9"/>
<rect x="162.40" y="320.69" width="1.65" height="1.20" fill="#090519" opacity="0.9"/>
<rect x="164.05" y="320.69" width="2.85" height="1.20" fill="#090519" opacity="0.9"/>
<rect x="166.89" y="320.69" width="3.77" height="1.20" fill="#0d0722" opacity="0.9"/>
<rect x="181.32" y="320.69" width="3.89" height="1.20" fill="#100928" opacity="0.9"/>
<rect x="100.10" y="322.02" width="3.00" height="1.20" fill="#0a061c" opacity="0.9"/>
<rect x="103.10" y="322.02" width="2.88" height="1.20" fill="#0d0822" opacity="0.9"/>
<rect x="105.99" y="322.02" width="3.90" height="1.20" fill="#0b061e" opacity="0.9"/>
<rect x="113.06" y="322.02" width="3.77" height="1.20" fill="#120b2e" opacity="0.9"/>
<rect x="119.37" y="322.02" width="3.80" height="1.20" fill="#0d0823" opacity="0.9"/>
<rect x="134.26" y="322.02" width="2.17" height="1.20" fill="#10092a" opacity="0.9"/>
<rect x="136.43" y="322.02" width="1.80" height="1.20" fill="#0d0721" opacity="0.9"/>
<rect x="141.45" y="322.02" width="2.86" height="1.20" fill="#0d0822" opacity="0.9"/>
<rect x="148.62" y="322.02" width="2.12" height="1.20" fill="#0a061c" opacity="0.9"/>
<rect x="153.20" y="322.02" width="2.88" height="1.20" fill="#0a061b" opacity="0.9"/>
<rect x="160.20" y="322.02" width="3.59" height="1.20" fill="#090518" opacity="0.9"/>
<rect x="163.80" y="322.02" width="3.56" height="1.20" fill="#110a2b" opacity="0.9"/>
<rect x="170.12" y="322.02" width="2.95" height="1.20" fill="#120a2e" opacity="0.9"/>
<rect x="173.07" y="322.02" width="3.60" height="1.20" fill="#0c0720" opacity="0.9"/>
<rect x="176.67" y="322.02" width="3.60" height="1.20" fill="#0a061c" opacity="0.9"/>
<rect x="183.78" y="322.02" width="2.02" height="1.20" fill="#0a061c" opacity="0.9"/>
<rect x="100.10" y="323.35" width="1.53" height="1.20" fill="#0d0721" opacity="0.9"/>
<rect x="107.48" y="323.35" width="2.87" height="1.20" fill="#090519" opacity="0.9"/>
<rect x="110.35" y="323.35" width="1.98" height="1.20" fill="#090519" opacity="0.9"/>
<rect x="124.36" y="323.35" width="3.89" height="1.20" fill="#100929" opacity="0.9"/>
<rect x="128.25" y="323.35" width="3.89" height="1.20" fill="#150c35" opacity="0.9"/>
<rect x="136.63" y="323.35" width="3.14" height="1.20" fill="#150c34" opacity="0.9"/>
<rect x="142.26" y="323.35" width="3.45" height="1.20" fill="#120a2c" opacity="0.9"/>
<rect x="149.04" y="323.35" width="2.29" height="1.20" fill="#100929" opacity="0.9"/>
<rect x="156.87" y="323.35" width="1.86" height="1.20" fill="#0a061b" opacity="0.9"/>
<rect x="158.73" y="323.35" width="2.80" height="1.20" fill="#150c33" opacity="0.9"/>
<rect x="163.54" y="323.35" width="3.42" height="1.20" fill="#0a061a" opacity="0.9"/>
<rect x="171.41" y="323.35" width="1.89" height="1.20" fill="#0f0926" opacity="0.9"/>
<rect x="173.30" y="323.35" width="2.34" height="1.20" fill="#0a061b" opacity="0.9"/>
<rect x="180.82" y="323.35" width="3.06" height="1.20" fill="#0d0823" opacity="0.9"/>
<rect x="183.87" y="323.35" width="1.93" height="1.20" fill="#0f0826" opacity="0.9"/>
<rect x="102.94" y="324.69" width="1.70" height="1.20" fill="#140c33" opacity="0.9"/>
<rect x="107.03" y="324.69" width="3.69" height="1.20" fill="#0b061d" opacity="0.9"/>
<rect x="110.73" y="324.69" width="3.45" height="1.20" fill="#0f0927" opacity="0.9"/>
<rect x="115.68" y="324.69" width="2.60" height="1.20" fill="#0b061d" opacity="0.9"/>
<rect x="122.10" y="324.69" width="2.28" height="1.20" fill="#0d0722" opacity="0.9"/>
<rect x="126.74" y="324.69" width="3.90" height="1.20" fill="#0d0822" opacity="0.9"/>
<rect x="135.84" y="324.69" width="2.57" height="1.20" fill="#140c33" opacity="0.9"/>
<rect x="140.43" y="324.69" width="3.82" height="1.20" fill="#120b2e" opacity="0.9"/>
<rect x="144.25" y="324.69" width="3.45" height="1.20" fill="#140c33" opacity="0.9"/>
<rect x="175.88" y="324.69" width="3.12" height="1.20" fill="#100929" opacity="0.9"/>
<rect x="102.94" y="326.02" width="1.88" height="1.20" fill="#140b32" opacity="0.9"/>
<rect x="110.73" y="326.02" width="1.99" height="1.20" fill="#130b2f" opacity="0.9"/>
<rect x="112.72" y="326.02" width="3.83" height="1.20" fill="#130b2f" opacity="0.9"/>
<rect x="119.82" y="326.02" width="1.87" height="1.20" fill="#120a2e" opacity="0.9"/>
<rect x="121.69" y="326.02" width="2.01" height="1.20" fill="#0f0826" opacity="0.9"/>
<rect x="123.70" y="326.02" width="1.93" height="1.20" fill="#0b061c" opacity="0.9"/>
<rect x="125.63" y="326.02" width="2.03" height="1.20" fill="#0e0824" opacity="0.9"/>
<rect x="127.66" y="326.02" width="2.35" height="1.20" fill="#0b061d" opacity="0.9"/>
<rect x="130.00" y="326.02" width="2.51" height="1.20" fill="#0c0720" opacity="0.9"/>
<rect x="141.70" y="326.02" width="1.71" height="1.20" fill="#0b061d" opacity="0.9"/>
<rect x="143.42" y="326.02" width="3.71" height="1.20" fill="#120b2e" opacity="0.9"/>
<rect x="160.80" y="326.02" width="3.00" height="1.20" fill="#0e0824" opacity="0.9"/>
<rect x="171.83" y="326.02" width="1.83" height="1.20" fill="#0d0721" opacity="0.9"/>
<rect x="100.10" y="327.35" width="2.33" height="1.20" fill="#100929" opacity="0.9"/>
<rect x="119.29" y="327.35" width="2.59" height="1.20" fill="#110a2b" opacity="0.9"/>
<rect x="121.88" y="327.35" width="2.55" height="1.20" fill="#140b31" opacity="0.9"/>
<rect x="124.44" y="327.35" width="2.02" height="1.20" fill="#0f0927" opacity="0.9"/>
<rect x="126.46" y="327.35" width="2.12" height="1.20" fill="#0e0825" opacity="0.9"/>
<rect x="149.15" y="327.35" width="3.49" height="1.20" fill="#100927" opacity="0.9"/>
<rect x="152.63" y="327.35" width="1.97" height="1.20" fill="#110a2a" opacity="0.9"/>
<rect x="154.60" y="327.35" width="1.85" height="1.20" fill="#11092a" opacity="0.9"/>
<rect x="159.49" y="327.35" width="1.57" height="1.20" fill="#0a061b" opacity="0.9"/>
<rect x="172.66" y="327.35" width="2.03" height="1.20" fill="#0b061c" opacity="0.9"/>
<rect x="174.68" y="327.35" width="2.77" height="1.20" fill="#140b32" opacity="0.9"/>
<rect x="177.45" y="327.35" width="2.23" height="1.20" fill="#110a2b" opacity="0.9"/>
<rect x="100.10" y="328.69" width="3.49" height="1.20" fill="#0e0824" opacity="0.9"/>
<rect x="108.07" y="328.69" width="2.42" height="1.20" fill="#100929" opacity="0.9"/>
<rect x="110.49" y="328.69" width="3.31" height="1.20" fill="#0a061c" opacity="0.9"/>
<rect x="129.47" y="328.69" width="2.02" height="1.20" fill="#0d0822" opacity="0.9"/>
<rect x="131.49" y="328.69" width="2.16" height="1.20" fill="#0b061d" opacity="0.9"/>
<rect x="141.31" y="328.69" width="3.78" height="1.20" fill="#110a2b" opacity="0.9"/>
<rect x="145.09" y="328.69" width="3.82" height="1.20" fill="#0a061c" opacity="0.9"/>
<rect x="148.91" y="328.69" width="1.55" height="1.20" fill="#150c34" opacity="0.9"/>
<rect x="150.46" y="328.69" width="3.70" height="1.20" fill="#090518" opacity="0.9"/>
<rect x="168.66" y="328.69" width="3.07" height="1.20" fill="#090518" opacity="0.9"/>
<rect x="100.10" y="330.02" width="2.83" height="1.20" fill="#140c32" opacity="0.9"/>
<rect x="108.42" y="330.02" width="2.47" height="1.20" fill="#0d0823" opacity="0.9"/>
<rect x="117.32" y="330.02" width="2.42" height="1.20" fill="#110a2a" opacity="0.9"/>
<rect x="144.35" y="330.02" width="2.63" height="1.20" fill="#150c34" opacity="0.9"/>
<rect x="150.42" y="330.02" width="2.91" height="1.20" fill="#0c071f" opacity="0.9"/>
<rect x="154.96" y="330.02" width="3.53" height="1.20" fill="#0b061d" opacity="0.9"/>
<rect x="158.50" y="330.02" width="2.58" height="1.20" fill="#120b2e" opacity="0.9"/>
<rect x="161.08" y="330.02" width="2.12" height="1.20" fill="#0e0824" opacity="0.9"/>
<rect x="166.84" y="330.02" width="1.79" height="1.20" fill="#090519" opacity="0.9"/>
<rect x="171.81" y="330.02" width="1.92" height="1.20" fill="#140b31" opacity="0.9"/>
<rect x="111.45" y="331.35" width="2.71" height="1.20" fill="#0b061e" opacity="0.9"/>
<rect x="117.54" y="331.35" width="3.42" height="1.20" fill="#0e0825" opacity="0.9"/>
<rect x="120.96" y="331.35" width="1.79" height="1.20" fill="#0d0822" opacity="0.9"/>
<rect x="130.20" y="331.35" width="2.29" height="1.20" fill="#0a061b" opacity="0.9"/>
<rect x="132.49" y="331.35" width="3.07" height="1.20" fill="#110a2b" opacity="0.9"/>
<rect x="135.55" y="331.35" width="2.83" height="1.20" fill="#110a2b" opacity="0.9"/>
<rect x="138.38" y="331.35" width="3.27" height="1.20" fill="#140c33" opacity="0.9"/>
<rect x="145.34" y="331.35" width="3.81" height="1.20" fill="#0a061c" opacity="0.9"/>
<rect x="151.73" y="331.35" width="3.20" height="1.20" fill="#120a2e" opacity="0.9"/>
<rect x="167.06" y="331.35" width="3.62" height="1.20" fill="#0b061d" opacity="0.9"/>
<rect x="170.68" y="331.35" width="2.97" height="1.20" fill="#0c0720" opacity="0.9"/>
<rect x="181.18" y="331.35" width="3.00" height="1.20" fill="#0b061d" opacity="0.9"/>
<rect x="100.10" y="332.68" width="3.24" height="1.20" fill="#09051a" opacity="0.9"/>
<rect x="110.23" y="332.68" width="1.98" height="1.20" fill="#0e0825" opacity="0.9"/>
<rect x="115.42" y="332.68" width="2.75" height="1.20" fill="#150c34" opacity="0.9"/>
<rect x="129.80" y="332.68" width="1.80" height="1.20" fill="#0d0722" opacity="0.9"/>
<rect x="131.59" y="332.68" width="1.51" height="1.20" fill="#140c32" opacity="0.9"/>
<rect x="136.69" y="332.68" width="2.26" height="1.20" fill="#150c33" opacity="0.9"/>
<rect x="158.09" y="332.68" width="3.50" height="1.20" fill="#110a2b" opacity="0.9"/>
<rect x="168.35" y="332.68" width="2.40" height="1.20" fill="#0e0824" opacity="0.9"/>
<rect x="170.75" y="332.68" width="2.79" height="1.20" fill="#0f0927" opacity="0.9"/>
<rect x="184.82" y="332.68" width="0.98" height="1.20" fill="#0d0822" opacity="0.9"/>
<rect x="100.10" y="334.02" width="2.70" height="1.20" fill="#0f0825" opacity="0.9"/>
<rect x="102.80" y="334.02" width="2.38" height="1.20" fill="#100929" opacity="0.9"/>
<rect x="105.18" y="334.02" width="2.59" height="1.20" fill="#100927" opacity="0.9"/>
<rect x="112.13" y="334.02" width="3.00" height="1.20" fill="#0d0722" opacity="0.9"/>
<rect x="115.13" y="334.02" width="3.40" height="1.20" fill="#130b2e" opacity="0.9"/>
<rect x="125.56" y="334.02" width="2.70" height="1.20" fill="#0c0720" opacity="0.9"/>
<rect x="137.28" y="334.02" width="3.10" height="1.20" fill="#090518" opacity="0.9"/>
<rect x="145.93" y="334.02" width="2.47" height="1.20" fill="#0b061c" opacity="0.9"/>
<rect x="148.40" y="334.02" width="2.58" height="1.20" fill="#0a061b" opacity="0.9"/>
<rect x="163.33" y="334.02" width="3.42" height="1.20" fill="#0b071e" opacity="0.9"/>
<rect x="103.28" y="335.35" width="3.38" height="1.20" fill="#120a2d" opacity="0.9"/>
<rect x="106.66" y="335.35" width="1.62" height="1.20" fill="#150c33" opacity="0.9"/>
<rect x="116.80" y="335.35" width="2.50" height="1.20" fill="#130b2f" opacity="0.9"/>
<rect x="122.11" y="335.35" width="2.70" height="1.20" fill="#0c071f" opacity="0.9"/>
<rect x="133.29" y="335.35" width="2.39" height="1.20" fill="#0c0720" opacity="0.9"/>
<rect x="140.35" y="335.35" width="3.59" height="1.20" fill="#10092a" opacity="0.9"/>
<rect x="149.71" y="335.35" width="2.40" height="1.20" fill="#0b061e" opacity="0.9"/>
<rect x="152.11" y="335.35" width="3.55" height="1.20" fill="#0c0720" opacity="0.9"/>
<rect x="155.66" y="335.35" width="3.62" height="1.20" fill="#120a2c" opacity="0.9"/>
<rect x="159.28" y="335.35" width="2.48" height="1.20" fill="#150c34" opacity="0.9"/>
<rect x="161.76" y="335.35" width="3.65" height="1.20" fill="#0a061c" opacity="0.9"/>
<rect x="165.41" y="335.35" width="2.89" height="1.20" fill="#150c34" opacity="0.9"/>
<rect x="168.30" y="335.35" width="2.32" height="1.20" fill="#090519" opacity="0.9"/>
<rect x="181.74" y="335.35" width="2.60" height="1.20" fill="#110a2b" opacity="0.9"/>
<rect x="100.10" y="336.68" width="2.12" height="1.20" fill="#0a061b" opacity="0.9"/>
<rect x="105.30" y="336.68" width="3.96" height="1.20" fill="#0b061e" opacity="0.9"/>
<rect x="109.26" y="336.68" width="1.72" height="1.20" fill="#130b30" opacity="0.9"/>
<rect x="121.39" y="336.68" width="2.75" height="1.20" fill="#140c33" opacity="0.9"/>
<rect x="130.62" y="336.68" width="3.60" height="1.20" fill="#0c0721" opacity="0.9"/>
<rect x="140.42" y="336.68" width="2.51" height="1.20" fill="#120a2d" opacity="0.9"/>
<rect x="157.54" y="336.68" width="3.68" height="1.20" fill="#140b31" opacity="0.9"/>
<rect x="171.14" y="336.68" width="2.92" height="1.20" fill="#140c33" opacity="0.9"/>
<rect x="178.67" y="336.68" width="2.84" height="1.20" fill="#150c33" opacity="0.9"/>
<rect x="181.50" y="336.68" width="2.19" height="1.20" fill="#120a2d" opacity="0.9"/>
<rect x="105.96" y="338.02" width="1.91" height="1.20" fill="#0f0826" opacity="0.9"/>
<rect x="109.76" y="338.02" width="2.35" height="1.20" fill="#0a061a" opacity="0.9"/>
<rect x="114.29" y="338.02" width="2.16" height="1.20" fill="#0c0720" opacity="0.9"/>
<rect x="116.45" y="338.02" width="3.31" height="1.20" fill="#0f0927" opacity="0.9"/>
<rect x="119.76" y="338.02" width="3.12" height="1.20" fill="#130b30" opacity="0.9"/>
<rect x="122.89" y="338.02" width="3.39" height="1.20" fill="#090519" opacity="0.9"/>
<rect x="137.81" y="338.02" width="1.75" height="1.20" fill="#0f0926" opacity="0.9"/>
<rect x="148.16" y="338.02" width="1.76" height="1.20" fill="#0e0824" opacity="0.9"/>
<rect x="149.92" y="338.02" width="3.77" height="1.20" fill="#0f0927" opacity="0.9"/>
<rect x="160.48" y="338.02" width="3.51" height="1.20" fill="#0d0721" opacity="0.9"/>
<rect x="177.54" y="338.02" width="3.50" height="1.20" fill="#0c071e" opacity="0.9"/>
<rect x="110.87" y="339.35" width="2.03" height="1.20" fill="#140b31" opacity="0.9"/>
<rect x="123.37" y="339.35" width="2.78" height="1.20" fill="#090518" opacity="0.9"/>
<rect x="138.02" y="339.35" width="3.17" height="1.20" fill="#0f0825" opacity="0.9"/>
<rect x="142.86" y="339.35" width="2.58" height="1.20" fill="#120a2d" opacity="0.9"/>
<rect x="145.44" y="339.35" width="3.50" height="1.20" fill="#090518" opacity="0.9"/>
<rect x="171.01" y="339.35" width="1.53" height="1.20" fill="#150c33" opacity="0.9"/>
<rect x="180.45" y="339.35" width="3.59" height="1.20" fill="#0e0823" opacity="0.9"/>
<rect x="100.10" y="340.68" width="2.92" height="1.20" fill="#0c071f" opacity="0.9"/>
<rect x="105.41" y="340.68" width="3.04" height="1.20" fill="#100928" opacity="0.9"/>
<rect x="113.93" y="340.68" width="2.48" height="1.20" fill="#130b2f" opacity="0.9"/>
<rect x="124.71" y="340.68" width="1.57" height="1.20" fill="#0a061b" opacity="0.9"/>
<rect x="129.60" y="340.68" width="1.89" height="1.20" fill="#130b2f" opacity="0.9"/>
<rect x="135.46" y="340.68" width="3.04" height="1.20" fill="#0e0824" opacity="0.9"/>
<rect x="138.49" y="340.68" width="3.73" height="1.20" fill="#0e0823" opacity="0.9"/>
<rect x="142.22" y="340.68" width="2.11" height="1.20" fill="#0b061c" opacity="0.9"/>
<rect x="144.32" y="340.68" width="3.33" height="1.20" fill="#150c35" opacity="0.9"/>
<rect x="156.14" y="340.68" width="2.31" height="1.20" fill="#100928" opacity="0.9"/>
<rect x="160.26" y="340.68" width="2.04" height="1.20" fill="#100928" opacity="0.9"/>
<rect x="165.26" y="340.68" width="3.28" height="1.20" fill="#140c32" opacity="0.9"/>
<rect x="172.07" y="340.68" width="1.51" height="1.20" fill="#0b061e" opacity="0.9"/>
<rect x="173.58" y="340.68" width="3.71" height="1.20" fill="#0e0823" opacity="0.9"/>
<rect x="102.07" y="342.01" width="3.53" height="1.20" fill="#090519" opacity="0.9"/>
<rect x="105.61" y="342.01" width="2.43" height="1.20" fill="#140b31" opacity="0.9"/>
<rect x="120.17" y="342.01" width="2.24" height="1.20" fill="#0e0825" opacity="0.9"/>
<rect x="122.41" y="342.01" width="1.62" height="1.20" fill="#0f0927" opacity="0.9"/>
<rect x="135.60" y="342.01" width="2.32" height="1.20" fill="#120a2c" opacity="0.9"/>
<rect x="144.83" y="342.01" width="3.55" height="1.20" fill="#130b30" opacity="0.9"/>
<rect x="148.37" y="342.01" width="3.70" height="1.20" fill="#130b31" opacity="0.9"/>
<rect x="157.81" y="342.01" width="1.74" height="1.20" fill="#100928" opacity="0.9"/>
<rect x="165.55" y="342.01" width="1.91" height="1.20" fill="#130b2f" opacity="0.9"/>
<rect x="167.45" y="342.01" width="2.92" height="1.20" fill="#150c34" opacity="0.9"/>
<rect x="170.37" y="342.01" width="1.96" height="1.20" fill="#140b32" opacity="0.9"/>
<rect x="172.33" y="342.01" width="3.57" height="1.20" fill="#100929" opacity="0.9"/>
<rect x="114.33" y="343.35" width="3.68" height="1.20" fill="#0d0722" opacity="0.9"/>
<rect x="118.01" y="343.35" width="2.74" height="1.20" fill="#0c0720" opacity="0.9"/>
<rect x="128.94" y="343.35" width="3.83" height="1.20" fill="#110a2b" opacity="0.9"/>
<rect x="138.89" y="343.35" width="1.94" height="1.20" fill="#0c071f" opacity="0.9"/>
<rect x="140.83" y="343.35" width="1.66" height="1.20" fill="#130b30" opacity="0.9"/>
<rect x="163.46" y="343.35" width="3.31" height="1.20" fill="#0b061d" opacity="0.9"/>
<rect x="179.47" y="343.35" width="1.94" height="1.20" fill="#140c32" opacity="0.9"/>
<rect x="100.10" y="344.68" width="3.42" height="1.20" fill="#0f0927" opacity="0.9"/>
<rect x="108.74" y="344.68" width="3.04" height="1.20" fill="#0c071e" opacity="0.9"/>
<rect x="115.24" y="344.68" width="2.92" height="1.20" fill="#0d0822" opacity="0.9"/>
<rect x="120.82" y="344.68" width="2.01" height="1.20" fill="#100928" opacity="0.9"/>
<rect x="122.83" y="344.68" width="2.04" height="1.20" fill="#0a061b" opacity="0.9"/>
<rect x="129.74" y="344.68" width="1.63" height="1.20" fill="#0f0926" opacity="0.9"/>
<rect x="145.76" y="344.68" width="2.28" height="1.20" fill="#150c33" opacity="0.9"/>
<rect x="148.03" y="344.68" width="2.25" height="1.20" fill="#0e0824" opacity="0.9"/>
<rect x="160.38" y="344.68" width="2.97" height="1.20" fill="#110a2c" opacity="0.9"/>
<rect x="169.23" y="344.68" width="3.26" height="1.20" fill="#100929" opacity="0.9"/>
<rect x="175.64" y="344.68" width="1.67" height="1.20" fill="#120b2e" opacity="0.9"/>
<rect x="180.35" y="344.68" width="3.93" height="1.20" fill="#140b31" opacity="0.9"/>
<rect x="184.28" y="344.68" width="1.52" height="1.20" fill="#110a2b" opacity="0.9"/>
<rect x="104.00" y="346.01" width="3.00" height="1.20" fill="#130b2f" opacity="0.9"/>
<rect x="120.07" y="346.01" width="3.48" height="1.20" fill="#0f0926" opacity="0.9"/>
<rect x="126.10" y="346.01" width="3.72" height="1.20" fill="#140b31" opacity="0.9"/>
<rect x="129.81" y="346.01" width="2.33" height="1.20" fill="#11092a" opacity="0.9"/>
<rect x="141.94" y="346.01" width="2.79" height="1.20" fill="#110a2b" opacity="0.9"/>
<rect x="148.35" y="346.01" width="3.05" height="1.20" fill="#120a2d" opacity="0.9"/>
<rect x="154.40" y="346.01" width="2.65" height="1.20" fill="#0c071f" opacity="0.9"/>
<rect x="157.05" y="346.01" width="2.98" height="1.20" fill="#0d0721" opacity="0.9"/>
<rect x="160.03" y="346.01" width="2.52" height="1.20" fill="#0c0720" opacity="0.9"/>
<rect x="165.17" y="346.01" width="3.30" height="1.20" fill="#0e0823" opacity="0.9"/>
<rect x="168.47" y="346.01" width="3.52" height="1.20" fill="#120a2d" opacity="0.9"/>
<rect x="171.99" y="346.01" width="3.30" height="1.20" fill="#090518" opacity="0.9"/>
<rect x="175.29" y="346.01" width="2.27" height="1.20" fill="#110a2b" opacity="0.9"/>
<rect x="177.56" y="346.01" width="1.69" height="1.20" fill="#120a2d" opacity="0.9"/>
<rect x="180.85" y="346.01" width="2.43" height="1.20" fill="#0e0824" opacity="0.9"/>
<rect x="106.65" y="347.35" width="3.73" height="1.20" fill="#0e0824" opacity="0.9"/>
<rect x="117.42" y="347.35" width="3.73" height="1.20" fill="#100928" opacity="0.9"/>
<rect x="129.82" y="347.35" width="2.11" height="1.20" fill="#0b061d" opacity="0.9"/>
<rect x="142.01" y="347.35" width="2.84" height="1.20" fill="#140b31" opacity="0.9"/>
<rect x="152.85" y="347.35" width="1.70" height="1.20" fill="#0f0927" opacity="0.9"/>
<rect x="163.91" y="347.35" width="3.97" height="1.20" fill="#110a2c" opacity="0.9"/>
<rect x="167.88" y="347.35" width="3.49" height="1.20" fill="#090519" opacity="0.9"/>
<rect x="179.51" y="347.35" width="3.28" height="1.20" fill="#0c071f" opacity="0.9"/>
<rect x="102.92" y="348.68" width="3.37" height="1.20" fill="#120a2d" opacity="0.9"/>
<rect x="109.08" y="348.68" width="3.64" height="1.20" fill="#0f0927" opacity="0.9"/>
<rect x="112.72" y="348.68" width="3.88" height="1.20" fill="#11092a" opacity="0.9"/>
<rect x="118.79" y="348.68" width="3.10" height="1.20" fill="#0a061c" opacity="0.9"/>
<rect x="127.75" y="348.68" width="2.88" height="1.20" fill="#0f0825" opacity="0.9"/>
<rect x="130.63" y="348.68" width="3.86" height="1.20" fill="#0e0825" opacity="0.9"/>
<rect x="136.66" y="348.68" width="2.03" height="1.20" fill="#0b061d" opacity="0.9"/>
<rect x="141.50" y="348.68" width="3.61" height="1.20" fill="#110a2b" opacity="0.9"/>
<rect x="145.11" y="348.68" width="3.82" height="1.20" fill="#0f0926" opacity="0.9"/>
<rect x="155.23" y="348.68" width="2.02" height="1.20" fill="#110a2b" opacity="0.9"/>
<rect x="157.25" y="348.68" width="1.81" height="1.20" fill="#0d0722" opacity="0.9"/>
<rect x="162.22" y="348.68" width="2.97" height="1.20" fill="#100928" opacity="0.9"/>
<rect x="169.15" y="348.68" width="1.78" height="1.20" fill="#0e0825" opacity="0.9"/>
<rect x="174.80" y="348.68" width="3.24" height="1.20" fill="#0d0823" opacity="0.9"/>
<rect x="180.07" y="348.68" width="3.43" height="1.20" fill="#0f0927" opacity="0.9"/>
<rect x="102.47" y="350.01" width="1.54" height="1.20" fill="#0b061c" opacity="0.9"/>
<rect x="107.21" y="350.01" width="3.01" height="1.20" fill="#0a061b" opacity="0.9"/>
<rect x="120.38" y="350.01" width="3.69" height="1.20" fill="#0f0926" opacity="0.9"/>
<rect x="127.55" y="350.01" width="2.58" height="1.20" fill="#150c34" opacity="0.9"/>
<rect x="134.80" y="350.01" width="2.38" height="1.20" fill="#0d0822" opacity="0.9"/>
<rect x="141.24" y="350.01" width="3.61" height="1.20" fill="#0e0825" opacity="0.9"/>
<rect x="144.85" y="350.01" width="3.34" height="1.20" fill="#140c32" opacity="0.9"/>
<rect x="148.19" y="350.01" width="3.92" height="1.20" fill="#0d0721" opacity="0.9"/>
<rect x="152.11" y="350.01" width="3.92" height="1.20" fill="#120a2d" opacity="0.9"/>
<rect x="156.03" y="350.01" width="3.50" height="1.20" fill="#0f0826" opacity="0.9"/>
<rect x="181.35" y="350.01" width="3.15" height="1.20" fill="#100928" opacity="0.9"/>
<rect x="108.37" y="351.34" width="2.07" height="1.20" fill="#0e0825" opacity="0.9"/>
<rect x="113.27" y="351.34" width="2.49" height="1.20" fill="#150c34" opacity="0.9"/>
<rect x="115.76" y="351.34" width="3.77" height="1.20" fill="#140b31" opacity="0.9"/>
<rect x="119.53" y="351.34" width="2.35" height="1.20" fill="#130b2f" opacity="0.9"/>
<rect x="124.70" y="351.34" width="2.59" height="1.20" fill="#0e0823" opacity="0.9"/>
<rect x="127.29" y="351.34" width="3.24" height="1.20" fill="#110a2b" opacity="0.9"/>
<rect x="136.14" y="351.34" width="3.92" height="1.20" fill="#0a051a" opacity="0.9"/>
<rect x="149.56" y="351.34" width="3.54" height="1.20" fill="#0d0822" opacity="0.9"/>
<rect x="153.10" y="351.34" width="2.76" height="1.20" fill="#0a061b" opacity="0.9"/>
<rect x="158.97" y="351.34" width="3.54" height="1.20" fill="#0d0722" opacity="0.9"/>
<rect x="166.47" y="351.34" width="2.99" height="1.20" fill="#0a061c" opacity="0.9"/>
<rect x="172.83" y="351.34" width="3.15" height="1.20" fill="#110a2c" opacity="0.9"/>
<rect x="175.99" y="351.34" width="2.78" height="1.20" fill="#0a061b" opacity="0.9"/>
<rect x="183.74" y="351.34" width="1.97" height="1.20" fill="#0f0927" opacity="0.9"/>
<rect x="185.72" y="351.34" width="0.08" height="1.20" fill="#0f0927" opacity="0.9"/>
<rect x="102.63" y="352.68" width="2.77" height="1.20" fill="#0e0825" opacity="0.9"/>
<rect x="105.40" y="352.68" width="1.73" height="1.20" fill="#140b31" opacity="0.9"/>
<rect x="121.95" y="352.68" width="2.40" height="1.20" fill="#110a2b" opacity="0.9"/>
<rect x="127.61" y="352.68" width="2.05" height="1.20" fill="#110a2a" opacity="0.9"/>
<rect x="150.42" y="352.68" width="3.16" height="1.20" fill="#0c0720" opacity="0.9"/>
<rect x="153.57" y="352.68" width="1.99" height="1.20" fill="#0c071f" opacity="0.9"/>
<rect x="174.29" y="352.68" width="2.65" height="1.20" fill="#120a2e" opacity="0.9"/>
<rect x="176.94" y="352.68" width="2.13" height="1.20" fill="#0e0825" opacity="0.9"/>
<rect x="180.61" y="352.68" width="1.50" height="1.20" fill="#140c32" opacity="0.9"/>
<rect x="182.12" y="352.68" width="3.44" height="1.20" fill="#0b071e" opacity="0.9"/>
<rect x="185.55" y="352.68" width="0.25" height="1.20" fill="#0c071f" opacity="0.9"/>
<rect x="107.65" y="354.01" width="3.81" height="1.20" fill="#150c34" opacity="0.9"/>
<rect x="111.46" y="354.01" width="3.65" height="1.20" fill="#0f0826" opacity="0.9"/>
<rect x="115.11" y="354.01" width="1.51" height="1.20" fill="#090519" opacity="0.9"/>
<rect x="116.62" y="354.01" width="2.36" height="1.20" fill="#0a051a" opacity="0.9"/>
<rect x="118.98" y="354.01" width="1.66" height="1.20" fill="#090519" opacity="0.9"/>
<rect x="122.48" y="354.01" width="2.56" height="1.20" fill="#140b31" opacity="0.9"/>
<rect x="125.04" y="354.01" width="1.93" height="1.20" fill="#090519" opacity="0.9"/>
<rect x="140.65" y="354.01" width="3.24" height="1.20" fill="#140b31" opacity="0.9"/>
<rect x="143.90" y="354.01" width="2.79" height="1.20" fill="#0d0721" opacity="0.9"/>
<rect x="146.69" y="354.01" width="3.87" height="1.20" fill="#0a061b" opacity="0.9"/>
<rect x="157.46" y="354.01" width="2.15" height="1.20" fill="#150c33" opacity="0.9"/>
<rect x="162.33" y="354.01" width="3.04" height="1.20" fill="#140c32" opacity="0.9"/>
<rect x="165.36" y="354.01" width="3.79" height="1.20" fill="#090519" opacity="0.9"/>
<rect x="169.16" y="354.01" width="3.31" height="1.20" fill="#140b31" opacity="0.9"/>
<rect x="177.38" y="354.01" width="2.28" height="1.20" fill="#100927" opacity="0.9"/>
<rect x="100.10" y="355.34" width="1.62" height="1.20" fill="#0d0823" opacity="0.9"/>
<rect x="101.72" y="355.34" width="1.56" height="1.20" fill="#130b2f" opacity="0.9"/>
<rect x="107.91" y="355.34" width="3.80" height="1.20" fill="#0b061e" opacity="0.9"/>
<rect x="111.72" y="355.34" width="2.36" height="1.20" fill="#0e0823" opacity="0.9"/>
<rect x="124.60" y="355.34" width="1.70" height="1.20" fill="#0c071f" opacity="0.9"/>
<rect x="126.30" y="355.34" width="1.77" height="1.20" fill="#110a2b" opacity="0.9"/>
<rect x="139.90" y="355.34" width="2.95" height="1.20" fill="#0f0825" opacity="0.9"/>
<rect x="151.13" y="355.34" width="2.75" height="1.20" fill="#0d0722" opacity="0.9"/>
<rect x="156.16" y="355.34" width="1.68" height="1.20" fill="#160c35" opacity="0.9"/>
<rect x="157.84" y="355.34" width="1.52" height="1.20" fill="#0e0824" opacity="0.9"/>
<rect x="159.36" y="355.34" width="3.97" height="1.20" fill="#0c0720" opacity="0.9"/>
<rect x="171.42" y="355.34" width="3.77" height="1.20" fill="#130b30" opacity="0.9"/>
<rect x="178.98" y="355.34" width="3.83" height="1.20" fill="#110a2a" opacity="0.9"/>
<rect x="118.03" y="356.68" width="3.22" height="1.20" fill="#0f0927" opacity="0.9"/>
<rect x="126.02" y="356.68" width="3.44" height="1.20" fill="#130b2f" opacity="0.9"/>
<rect x="132.35" y="356.68" width="3.20" height="1.20" fill="#140b32" opacity="0.9"/>
<rect x="138.60" y="356.68" width="1.77" height="1.20" fill="#090519" opacity="0.9"/>
<rect x="140.36" y="356.68" width="2.23" height="1.20" fill="#090519" opacity="0.9"/>
<rect x="142.59" y="356.68" width="1.63" height="1.20" fill="#0b071e" opacity="0.9"/>
<rect x="144.22" y="356.68" width="1.74" height="1.20" fill="#0a061b" opacity="0.9"/>
<rect x="154.58" y="356.68" width="2.13" height="1.20" fill="#160c35" opacity="0.9"/>
<rect x="156.71" y="356.68" width="2.15" height="1.20" fill="#11092a" opacity="0.9"/>
<rect x="158.85" y="356.68" width="1.64" height="1.20" fill="#0c071e" opacity="0.9"/>
<rect x="162.50" y="356.68" width="2.34" height="1.20" fill="#130b2f" opacity="0.9"/>
<rect x="170.55" y="356.68" width="2.58" height="1.20" fill="#100929" opacity="0.9"/>
<rect x="173.13" y="356.68" width="4.00" height="1.20" fill="#110a2c" opacity="0.9"/>
<rect x="184.81" y="356.68" width="0.99" height="1.20" fill="#100927" opacity="0.9"/>
<rect x="100.10" y="358.01" width="2.24" height="1.20" fill="#140c32" opacity="0.9"/>
<rect x="119.97" y="358.01" width="1.88" height="1.20" fill="#0a051a" opacity="0.9"/>
<rect x="131.84" y="358.01" width="1.59" height="1.20" fill="#0f0826" opacity="0.9"/>
<rect x="136.39" y="358.01" width="2.38" height="1.20" fill="#0c071f" opacity="0.9"/>
<rect x="140.58" y="358.01" width="2.86" height="1.20" fill="#120b2e" opacity="0.9"/>
<rect x="143.45" y="358.01" width="2.46" height="1.20" fill="#0a051a" opacity="0.9"/>
<rect x="152.62" y="358.01" width="3.91" height="1.20" fill="#0a061c" opacity="0.9"/>
<rect x="159.29" y="358.01" width="2.38" height="1.20" fill="#0c0720" opacity="0.9"/>
<rect x="171.50" y="358.01" width="3.46" height="1.20" fill="#0c071f" opacity="0.9"/>
<rect x="179.88" y="358.01" width="1.80" height="1.20" fill="#0e0823" opacity="0.9"/>
<rect x="181.68" y="358.01" width="1.94" height="1.20" fill="#0d0721" opacity="0.9"/>
<rect x="185.15" y="358.01" width="0.65" height="1.20" fill="#120a2e" opacity="0.9"/>
<rect x="106.34" y="359.34" width="1.77" height="1.20" fill="#0b061c" opacity="0.9"/>
<rect x="108.11" y="359.34" width="3.72" height="1.20" fill="#0a051a" opacity="0.9"/>
<rect x="111.83" y="359.34" width="2.63" height="1.20" fill="#130b2f" opacity="0.9"/>
<rect x="114.46" y="359.34" width="1.56" height="1.20" fill="#0d0721" opacity="0.9"/>
<rect x="121.52" y="359.34" width="2.97" height="1.20" fill="#110a2b" opacity="0.9"/>
<rect x="129.41" y="359.34" width="2.92" height="1.20" fill="#0a061a" opacity="0.9"/>
<rect x="149.03" y="359.34" width="2.18" height="1.20" fill="#150c33" opacity="0.9"/>
<rect x="159.55" y="359.34" width="2.80" height="1.20" fill="#0e0823" opacity="0.9"/>
<rect x="164.18" y="359.34" width="3.95" height="1.20" fill="#150c33" opacity="0.9"/>
<rect x="168.13" y="359.34" width="3.81" height="1.20" fill="#140b32" opacity="0.9"/>
<rect x="171.94" y="359.34" width="3.28" height="1.20" fill="#0a061c" opacity="0.9"/>
<rect x="180.51" y="359.34" width="3.10" height="1.20" fill="#120a2d" opacity="0.9"/>
<rect x="183.61" y="359.34" width="2.19" height="1.20" fill="#0f0825" opacity="0.9"/>
<rect x="111.84" y="360.67" width="2.69" height="1.20" fill="#110a2c" opacity="0.9"/>
<rect x="118.08" y="360.67" width="1.64" height="1.20" fill="#140b31" opacity="0.9"/>
<rect x="125.22" y="360.67" width="3.26" height="1.20" fill="#0f0926" opacity="0.9"/>
<rect x="133.82" y="360.67" width="2.54" height="1.20" fill="#0f0927" opacity="0.9"/>
<rect x="138.08" y="360.67" width="2.29" height="1.20" fill="#130b30" opacity="0.9"/>
<rect x="143.30" y="360.67" width="3.01" height="1.20" fill="#0c0720" opacity="0.9"/>
<rect x="148.28" y="360.67" width="2.27" height="1.20" fill="#130b30" opacity="0.9"/>
<rect x="154.69" y="360.67" width="3.96" height="1.20" fill="#140b32" opacity="0.9"/>
<rect x="179.75" y="360.67" width="3.82" height="1.20" fill="#0d0722" opacity="0.9"/>
<rect x="100.10" y="362.01" width="3.62" height="1.20" fill="#0c071f" opacity="0.9"/>
<rect x="103.72" y="362.01" width="1.94" height="1.20" fill="#0e0823" opacity="0.9"/>
<rect x="113.05" y="362.01" width="1.82" height="1.20" fill="#130b30" opacity="0.9"/>
<rect x="118.16" y="362.01" width="3.72" height="1.20" fill="#0c0720" opacity="0.9"/>
<rect x="121.88" y="362.01" width="3.19" height="1.20" fill="#0e0825" opacity="0.9"/>
<rect x="125.07" y="362.01" width="2.57" height="1.20" fill="#0c0720" opacity="0.9"/>
<rect x="143.45" y="362.01" width="1.99" height="1.20" fill="#120a2e" opacity="0.9"/>
<rect x="147.18" y="362.01" width="2.57" height="1.20" fill="#0e0825" opacity="0.9"/>
<rect x="168.71" y="362.01" width="2.13" height="1.20" fill="#0f0927" opacity="0.9"/>
<rect x="174.38" y="362.01" width="2.53" height="1.20" fill="#0d0721" opacity="0.9"/>
<rect x="178.71" y="362.01" width="3.51" height="1.20" fill="#140c33" opacity="0.9"/>
<rect x="105.01" y="363.34" width="3.31" height="1.20" fill="#0b061d" opacity="0.9"/>
<rect x="124.68" y="363.34" width="3.60" height="1.20" fill="#0a061b" opacity="0.9"/>
<rect x="128.28" y="363.34" width="3.76" height="1.20" fill="#090519" opacity="0.9"/>
<rect x="132.04" y="363.34" width="2.39" height="1.20" fill="#0d0721" opacity="0.9"/>
<rect x="136.40" y="363.34" width="3.61" height="1.20" fill="#0f0826" opacity="0.9"/>
<rect x="145.42" y="363.34" width="1.99" height="1.20" fill="#140b31" opacity="0.9"/>
<rect x="151.20" y="363.34" width="1.54" height="1.20" fill="#0d0722" opacity="0.9"/>
<rect x="152.74" y="363.34" width="2.43" height="1.20" fill="#140c33" opacity="0.9"/>
<rect x="161.21" y="363.34" width="3.74" height="1.20" fill="#0d0822" opacity="0.9"/>
<rect x="175.79" y="363.34" width="3.78" height="1.20" fill="#0d0721" opacity="0.9"/>
<rect x="102.06" y="364.67" width="1.78" height="1.20" fill="#110a2b" opacity="0.9"/>
<rect x="106.34" y="364.67" width="1.65" height="1.20" fill="#0a061a" opacity="0.9"/>
<rect x="107.99" y="364.67" width="2.62" height="1.20" fill="#0b061c" opacity="0.9"/>
<rect x="116.72" y="364.67" width="2.37" height="1.20" fill="#120a2c" opacity="0.9"/>
<rect x="121.52" y="364.67" width="1.79" height="1.20" fill="#100928" opacity="0.9"/>
<rect x="132.54" y="364.67" width="2.59" height="1.20" fill="#090519" opacity="0.9"/>
<rect x="135.13" y="364.67" width="1.69" height="1.20" fill="#0b061d" opacity="0.9"/>
<rect x="136.82" y="364.67" width="2.54" height="1.20" fill="#0b061c" opacity="0.9"/>
<rect x="144.51" y="364.67" width="2.83" height="1.20" fill="#140b31" opacity="0.9"/>
<rect x="147.34" y="364.67" width="2.92" height="1.20" fill="#0f0926" opacity="0.9"/>
<rect x="150.27" y="364.67" width="1.62" height="1.20" fill="#140b32" opacity="0.9"/>
<rect x="162.28" y="364.67" width="3.94" height="1.20" fill="#130b30" opacity="0.9"/>
<rect x="168.34" y="364.67" width="2.69" height="1.20" fill="#0b061d" opacity="0.9"/>
<rect x="100.10" y="366.01" width="2.39" height="1.20" fill="#140b32" opacity="0.9"/>
<rect x="102.49" y="366.01" width="3.49" height="1.20" fill="#0f0927" opacity="0.9"/>
<rect x="120.21" y="366.01" width="1.56" height="1.20" fill="#0d0721" opacity="0.9"/>
<rect x="124.61" y="366.01" width="2.00" height="1.20" fill="#090518" opacity="0.9"/>
<rect x="126.61" y="366.01" width="1.51" height="1.20" fill="#150c34" opacity="0.9"/>
<rect x="128.12" y="366.01" width="2.55" height="1.20" fill="#0b061d" opacity="0.9"/>
<rect x="130.67" y="366.01" width="2.60" height="1.20" fill="#0b061e" opacity="0.9"/>
<rect x="139.84" y="366.01" width="1.61" height="1.20" fill="#120a2d" opacity="0.9"/>
<rect x="144.27" y="366.01" width="3.90" height="1.20" fill="#0b061d" opacity="0.9"/>
<rect x="154.43" y="366.01" width="3.36" height="1.20" fill="#0f0825" opacity="0.9"/>
<rect x="163.27" y="366.01" width="3.64" height="1.20" fill="#130b2f" opacity="0.9"/>
<rect x="170.19" y="366.01" width="2.88" height="1.20" fill="#0e0823" opacity="0.9"/>
<rect x="173.06" y="366.01" width="3.30" height="1.20" fill="#150c34" opacity="0.9"/>
<rect x="103.94" y="367.34" width="2.41" height="1.20" fill="#110a2c" opacity="0.9"/>
<rect x="114.36" y="367.34" width="2.16" height="1.20" fill="#0a051a" opacity="0.9"/>
<rect x="116.53" y="367.34" width="1.79" height="1.20" fill="#0c071f" opacity="0.9"/>
<rect x="128.02" y="367.34" width="3.60" height="1.20" fill="#0e0823" opacity="0.9"/>
<rect x="145.10" y="367.34" width="3.80" height="1.20" fill="#140c32" opacity="0.9"/>
<rect x="148.90" y="367.34" width="1.72" height="1.20" fill="#0d0721" opacity="0.9"/>
<rect x="156.92" y="367.34" width="3.95" height="1.20" fill="#0a061b" opacity="0.9"/>
<rect x="160.88" y="367.34" width="1.90" height="1.20" fill="#150c34" opacity="0.9"/>
<rect x="166.31" y="367.34" width="4.00" height="1.20" fill="#090519" opacity="0.9"/>
<rect x="172.25" y="367.34" width="3.54" height="1.20" fill="#140c32" opacity="0.9"/>
<rect x="181.74" y="367.34" width="2.91" height="1.20" fill="#0b061d" opacity="0.9"/>
<rect x="104.08" y="368.67" width="3.31" height="1.20" fill="#0f0926" opacity="0.9"/>
<rect x="127.04" y="368.67" width="2.23" height="1.20" fill="#090518" opacity="0.9"/>
<rect x="129.27" y="368.67" width="1.77" height="1.20" fill="#0f0926" opacity="0.9"/>
<rect x="135.53" y="368.67" width="3.90" height="1.20" fill="#0e0824" opacity="0.9"/>
<rect x="143.34" y="368.67" width="3.48" height="1.20" fill="#140c32" opacity="0.9"/>
<rect x="146.82" y="368.67" width="1.55" height="1.20" fill="#100928" opacity="0.9"/>
<rect x="148.37" y="368.67" width="1.61" height="1.20" fill="#150c35" opacity="0.9"/>
<rect x="149.97" y="368.67" width="2.37" height="1.20" fill="#140b31" opacity="0.9"/>
<rect x="154.28" y="368.67" width="2.44" height="1.20" fill="#130b30" opacity="0.9"/>
<rect x="158.81" y="368.67" width="1.69" height="1.20" fill="#0a061c" opacity="0.9"/>
<rect x="160.49" y="368.67" width="3.87" height="1.20" fill="#0c071f" opacity="0.9"/>
<rect x="164.37" y="368.67" width="2.41" height="1.20" fill="#100929" opacity="0.9"/>
<rect x="178.36" y="368.67" width="2.84" height="1.20" fill="#0b061d" opacity="0.9"/>
<rect x="184.60" y="368.67" width="1.20" height="1.20" fill="#130b2f" opacity="0.9"/>
<rect x="100.10" y="370.00" width="3.61" height="1.20" fill="#0e0823" opacity="0.9"/>
<rect x="115.29" y="370.00" width="2.21" height="1.20" fill="#0e0825" opacity="0.9"/>
<rect x="117.50" y="370.00" width="3.61" height="1.20" fill="#140c33" opacity="0.9"/>
<rect x="134.59" y="370.00" width="3.73" height="1.20" fill="#150c34" opacity="0.9"/>
<rect x="144.00" y="370.00" width="3.38" height="1.20" fill="#110a2b" opacity="0.9"/>
<rect x="149.79" y="370.00" width="1.81" height="1.20" fill="#0a061c" opacity="0.9"/>
<rect x="151.60" y="370.00" width="1.58" height="1.20" fill="#0e0824" opacity="0.9"/>
<rect x="156.18" y="370.00" width="1.65" height="1.20" fill="#090519" opacity="0.9"/>
<rect x="157.84" y="370.00" width="3.03" height="1.20" fill="#100928" opacity="0.9"/>
<rect x="163.22" y="370.00" width="2.66" height="1.20" fill="#130b2f" opacity="0.9"/>
<rect x="168.60" y="370.00" width="3.81" height="1.20" fill="#0d0722" opacity="0.9"/>
<rect x="172.40" y="370.00" width="2.37" height="1.20" fill="#090519" opacity="0.9"/>
<rect x="181.13" y="370.00" width="3.68" height="1.20" fill="#090519" opacity="0.9"/>
<rect x="107.60" y="371.34" width="3.48" height="1.20" fill="#120a2d" opacity="0.9"/>
<rect x="111.08" y="371.34" width="3.63" height="1.20" fill="#090519" opacity="0.9"/>
<rect x="124.81" y="371.34" width="3.56" height="1.20" fill="#10092a" opacity="0.9"/>
<rect x="128.37" y="371.34" width="1.88" height="1.20" fill="#120a2c" opacity="0.9"/>
<rect x="136.58" y="371.34" width="2.68" height="1.20" fill="#0d0721" opacity="0.9"/>
<rect x="140.79" y="371.34" width="3.49" height="1.20" fill="#150c34" opacity="0.9"/>
<rect x="145.79" y="371.34" width="2.28" height="1.20" fill="#150c33" opacity="0.9"/>
<rect x="167.26" y="371.34" width="2.27" height="1.20" fill="#0e0824" opacity="0.9"/>
<rect x="169.53" y="371.34" width="3.35" height="1.20" fill="#0c0720" opacity="0.9"/>
<rect x="180.76" y="371.34" width="2.00" height="1.20" fill="#130b2f" opacity="0.9"/>
<rect x="182.76" y="371.34" width="3.04" height="1.20" fill="#0f0927" opacity="0.9"/>
<rect x="116.66" y="372.67" width="1.62" height="1.20" fill="#140b32" opacity="0.9"/>
<rect x="121.07" y="372.67" width="1.91" height="1.20" fill="#0e0823" opacity="0.9"/>
<rect x="125.67" y="372.67" width="1.85" height="1.20" fill="#0d0823" opacity="0.9"/>
<rect x="132.80" y="372.67" width="3.07" height="1.20" fill="#140c33" opacity="0.9"/>
<rect x="138.84" y="372.67" width="1.94" height="1.20" fill="#0a061c" opacity="0.9"/>
<rect x="149.77" y="372.67" width="2.65" height="1.20" fill="#10092a" opacity="0.9"/>
<rect x="152.42" y="372.67" width="3.76" height="1.20" fill="#110a2c" opacity="0.9"/>
<rect x="156.19" y="372.67" width="2.92" height="1.20" fill="#0c071f" opacity="0.9"/>
<rect x="160.90" y="372.67" width="2.68" height="1.20" fill="#120a2c" opacity="0.9"/>
<rect x="163.59" y="372.67" width="3.59" height="1.20" fill="#0e0823" opacity="0.9"/>
<rect x="171.69" y="372.67" width="2.49" height="1.20" fill="#130b2e" opacity="0.9"/>
<rect x="183.47" y="372.67" width="1.54" height="1.20" fill="#130b30" opacity="0.9"/>
<rect x="100.10" y="374.00" width="3.73" height="1.20" fill="#0c071f" opacity="0.9"/>
<rect x="106.00" y="374.00" width="2.46" height="1.20" fill="#0d0721" opacity="0.9"/>
<rect x="108.46" y="374.00" width="1.64" height="1.20" fill="#0e0824" opacity="0.9"/>
<rect x="110.10" y="374.00" width="3.76" height="1.20" fill="#100929" opacity="0.9"/>
<rect x="116.58" y="374.00" width="3.57" height="1.20" fill="#0a061c" opacity="0.9"/>
<rect x="122.22" y="374.00" width="2.22" height="1.20" fill="#0b061e" opacity="0.9"/>
<rect x="127.44" y="374.00" width="3.07" height="1.20" fill="#0d0722" opacity="0.9"/>
<rect x="132.50" y="374.00" width="2.18" height="1.20" fill="#0a061b" opacity="0.9"/>
<rect x="134.68" y="374.00" width="2.91" height="1.20" fill="#110a2c" opacity="0.9"/>
<rect x="146.98" y="374.00" width="3.21" height="1.20" fill="#0d0721" opacity="0.9"/>
<rect x="150.19" y="374.00" width="2.52" height="1.20" fill="#120a2e" opacity="0.9"/>
<rect x="166.28" y="374.00" width="3.87" height="1.20" fill="#0e0824" opacity="0.9"/>
<rect x="170.15" y="374.00" width="3.71" height="1.20" fill="#0e0825" opacity="0.9"/>
<rect x="182.30" y="374.00" width="2.32" height="1.20" fill="#120a2e" opacity="0.9"/>
<rect x="105.89" y="375.34" width="3.42" height="1.20" fill="#0a061c" opacity="0.9"/>
<rect x="124.45" y="375.34" width="2.19" height="1.20" fill="#0f0927" opacity="0.9"/>
<rect x="130.64" y="375.34" width="3.71" height="1.20" fill="#0a061b" opacity="0.9"/>
<rect x="134.36" y="375.34" width="3.70" height="1.20" fill="#140c33" opacity="0.9"/>
<rect x="138.06" y="375.34" width="2.94" height="1.20" fill="#130b2f" opacity="0.9"/>
<rect x="143.17" y="375.34" width="3.77" height="1.20" fill="#0d0722" opacity="0.9"/>
<rect x="150.76" y="375.34" width="2.94" height="1.20" fill="#150c35" opacity="0.9"/>
<rect x="156.79" y="375.34" width="1.78" height="1.20" fill="#0c0720" opacity="0.9"/>
<rect x="158.57" y="375.34" width="3.45" height="1.20" fill="#150c33" opacity="0.9"/>
<rect x="168.22" y="375.34" width="2.93" height="1.20" fill="#0e0824" opacity="0.9"/>
<rect x="180.18" y="375.34" width="2.57" height="1.20" fill="#0e0823" opacity="0.9"/>
<rect x="182.75" y="375.34" width="1.71" height="1.20" fill="#0c071f" opacity="0.9"/>
<rect x="100.10" y="376.67" width="3.39" height="1.20" fill="#0d0721" opacity="0.9"/>
<rect x="110.88" y="376.67" width="3.68" height="1.20" fill="#100928" opacity="0.9"/>
<rect x="124.12" y="376.67" width="2.24" height="1.20" fill="#150c35" opacity="0.9"/>
<rect x="128.65" y="376.67" width="1.67" height="1.20" fill="#110a2a" opacity="0.9"/>
<rect x="130.32" y="376.67" width="3.69" height="1.20" fill="#0b061e" opacity="0.9"/>
<rect x="134.01" y="376.67" width="1.56" height="1.20" fill="#0f0927" opacity="0.9"/>
<rect x="135.57" y="376.67" width="2.09" height="1.20" fill="#110a2c" opacity="0.9"/>
<rect x="146.96" y="376.67" width="3.69" height="1.20" fill="#090518" opacity="0.9"/>
<rect x="150.65" y="376.67" width="1.73" height="1.20" fill="#0d0822" opacity="0.9"/>
<rect x="154.96" y="376.67" width="2.50" height="1.20" fill="#0e0824" opacity="0.9"/>
<rect x="162.21" y="376.67" width="3.30" height="1.20" fill="#0d0822" opacity="0.9"/>
<rect x="168.98" y="376.67" width="2.21" height="1.20" fill="#0c071f" opacity="0.9"/>
<rect x="174.62" y="376.67" width="1.86" height="1.20" fill="#0e0824" opacity="0.9"/>
<rect x="176.47" y="376.67" width="2.72" height="1.20" fill="#090519" opacity="0.9"/>
<rect x="181.68" y="376.67" width="3.79" height="1.20" fill="#130b2f" opacity="0.9"/>
<rect x="185.47" y="376.67" width="0.33" height="1.20" fill="#130b2f" opacity="0.9"/>
<rect x="100.10" y="378.00" width="1.52" height="1.20" fill="#0e0825" opacity="0.9"/>
<rect x="105.48" y="378.00" width="1.75" height="1.20" fill="#0b071e" opacity="0.9"/>
<rect x="107.23" y="378.00" width="1.76" height="1.20" fill="#0d0823" opacity="0.9"/>
<rect x="112.97" y="378.00" width="2.13" height="1.20" fill="#0e0823" opacity="0.9"/>
<rect x="119.78" y="378.00" width="2.58" height="1.20" fill="#0a061c" opacity="0.9"/>
<rect x="124.26" y="378.00" width="2.71" height="1.20" fill="#0e0824" opacity="0.9"/>
<rect x="142.53" y="378.00" width="3.37" height="1.20" fill="#110a2c" opacity="0.9"/>
<rect x="145.90" y="378.00" width="1.93" height="1.20" fill="#130b30" opacity="0.9"/>
<rect x="151.26" y="378.00" width="3.35" height="1.20" fill="#10092a" opacity="0.9"/>
<rect x="161.17" y="378.00" width="2.10" height="1.20" fill="#150c34" opacity="0.9"/>
<rect x="163.27" y="378.00" width="1.76" height="1.20" fill="#100928" opacity="0.9"/>
<rect x="177.68" y="378.00" width="3.15" height="1.20" fill="#0c0720" opacity="0.9"/>
<rect x="183.32" y="378.00" width="2.48" height="1.20" fill="#150c34" opacity="0.9"/>
<rect x="100.10" y="379.33" width="3.18" height="1.20" fill="#130b2f" opacity="0.9"/>
<rect x="103.28" y="379.33" width="2.23" height="1.20" fill="#0e0824" opacity="0.9"/>
<rect x="107.27" y="379.33" width="1.98" height="1.20" fill="#0a051a" opacity="0.9"/>
<rect x="114.04" y="379.33" width="3.82" height="1.20" fill="#0c071f" opacity="0.9"/>
<rect x="125.32" y="379.33" width="2.93" height="1.20" fill="#0f0926" opacity="0.9"/>
<rect x="139.51" y="379.33" width="2.38" height="1.20" fill="#0a061c" opacity="0.9"/>
<rect x="153.05" y="379.33" width="2.79" height="1.20" fill="#0a061c" opacity="0.9"/>
<rect x="161.02" y="379.33" width="3.30" height="1.20" fill="#0d0823" opacity="0.9"/>
<rect x="177.90" y="379.33" width="2.30" height="1.20" fill="#0c0720" opacity="0.9"/>
<rect x="125.48" y="380.67" width="3.44" height="1.20" fill="#0b071e" opacity="0.9"/>
<rect x="128.91" y="380.67" width="3.84" height="1.20" fill="#120a2e" opacity="0.9"/>
<rect x="132.75" y="380.67" width="2.82" height="1.20" fill="#0c071f" opacity="0.9"/>
<rect x="137.43" y="380.67" width="2.86" height="1.20" fill="#100928" opacity="0.9"/>
<rect x="142.08" y="380.67" width="3.64" height="1.20" fill="#110a2b" opacity="0.9"/>
<rect x="145.72" y="380.67" width="2.57" height="1.20" fill="#110a2a" opacity="0.9"/>
<rect x="156.04" y="380.67" width="3.44" height="1.20" fill="#0a051a" opacity="0.9"/>
<rect x="161.33" y="380.67" width="3.74" height="1.20" fill="#0e0825" opacity="0.9"/>
<rect x="171.24" y="380.67" width="3.44" height="1.20" fill="#100929" opacity="0.9"/>
<rect x="180.38" y="380.67" width="3.44" height="1.20" fill="#140c32" opacity="0.9"/>
<rect x="187.4" y="288.7" width="86.20" height="93.30" fill="#06040f"/>
<rect x="203.29" y="288.70" width="2.52" height="1.20" fill="#0d0822" opacity="0.9"/>
<rect x="208.00" y="288.70" width="2.29" height="1.20" fill="#140b31" opacity="0.9"/>
<rect x="210.30" y="288.70" width="1.60" height="1.20" fill="#100928" opacity="0.9"/>
<rect x="217.50" y="288.70" width="3.24" height="1.20" fill="#0e0824" opacity="0.9"/>
<rect x="220.74" y="288.70" width="3.53" height="1.20" fill="#100928" opacity="0.9"/>
<rect x="235.64" y="288.70" width="2.85" height="1.20" fill="#130b30" opacity="0.9"/>
<rect x="238.49" y="288.70" width="2.53" height="1.20" fill="#0d0722" opacity="0.9"/>
<rect x="241.02" y="288.70" width="3.73" height="1.20" fill="#140b31" opacity="0.9"/>
<rect x="252.63" y="288.70" width="3.27" height="1.20" fill="#140c33" opacity="0.9"/>
<rect x="259.61" y="288.70" width="3.50" height="1.20" fill="#140b32" opacity="0.9"/>
<rect x="199.49" y="290.03" width="2.34" height="1.20" fill="#100929" opacity="0.9"/>
<rect x="201.83" y="290.03" width="3.83" height="1.20" fill="#0a061c" opacity="0.9"/>
<rect x="224.80" y="290.03" width="3.71" height="1.20" fill="#090519" opacity="0.9"/>
<rect x="228.51" y="290.03" width="3.57" height="1.20" fill="#100929" opacity="0.9"/>
<rect x="262.67" y="290.03" width="1.99" height="1.20" fill="#090519" opacity="0.9"/>
<rect x="187.40" y="291.37" width="1.50" height="1.20" fill="#0c071f" opacity="0.9"/>
<rect x="188.90" y="291.37" width="2.47" height="1.20" fill="#140c32" opacity="0.9"/>
<rect x="195.38" y="291.37" width="3.13" height="1.20" fill="#0a061a" opacity="0.9"/>
<rect x="204.49" y="291.37" width="3.87" height="1.20" fill="#0f0927" opacity="0.9"/>
<rect x="208.36" y="291.37" width="2.59" height="1.20" fill="#0a061b" opacity="0.9"/>
<rect x="214.02" y="291.37" width="2.97" height="1.20" fill="#0d0722" opacity="0.9"/>
<rect x="222.73" y="291.37" width="2.26" height="1.20" fill="#150c34" opacity="0.9"/>
<rect x="239.31" y="291.37" width="3.38" height="1.20" fill="#0f0825" opacity="0.9"/>
<rect x="246.18" y="291.37" width="2.85" height="1.20" fill="#100927" opacity="0.9"/>
<rect x="254.30" y="291.37" width="3.96" height="1.20" fill="#150c35" opacity="0.9"/>
<rect x="265.26" y="291.37" width="3.37" height="1.20" fill="#0a061a" opacity="0.9"/>
<rect x="187.40" y="292.70" width="3.09" height="1.20" fill="#130b2e" opacity="0.9"/>
<rect x="196.08" y="292.70" width="2.26" height="1.20" fill="#0c0720" opacity="0.9"/>
<rect x="198.34" y="292.70" width="2.52" height="1.20" fill="#0f0825" opacity="0.9"/>
<rect x="200.86" y="292.70" width="2.59" height="1.20" fill="#090518" opacity="0.9"/>
<rect x="206.09" y="292.70" width="1.74" height="1.20" fill="#0d0721" opacity="0.9"/>
<rect x="207.83" y="292.70" width="2.68" height="1.20" fill="#140c33" opacity="0.9"/>
<rect x="218.79" y="292.70" width="2.83" height="1.20" fill="#140b32" opacity="0.9"/>
<rect x="228.57" y="292.70" width="3.23" height="1.20" fill="#150c35" opacity="0.9"/>
<rect x="231.80" y="292.70" width="3.54" height="1.20" fill="#110a2b" opacity="0.9"/>
<rect x="235.34" y="292.70" width="2.07" height="1.20" fill="#150c33" opacity="0.9"/>
<rect x="237.41" y="292.70" width="3.64" height="1.20" fill="#0c071f" opacity="0.9"/>
<rect x="249.62" y="292.70" width="3.91" height="1.20" fill="#0c0720" opacity="0.9"/>
<rect x="262.63" y="292.70" width="3.63" height="1.20" fill="#0a061c" opacity="0.9"/>
<rect x="270.44" y="292.70" width="2.12" height="1.20" fill="#0d0721" opacity="0.9"/>
<rect x="187.40" y="294.03" width="3.08" height="1.20" fill="#0e0824" opacity="0.9"/>
<rect x="202.06" y="294.03" width="2.24" height="1.20" fill="#0b061e" opacity="0.9"/>
<rect x="217.33" y="294.03" width="3.83" height="1.20" fill="#0e0823" opacity="0.9"/>
<rect x="232.60" y="294.03" width="3.17" height="1.20" fill="#150c34" opacity="0.9"/>
<rect x="235.78" y="294.03" width="2.76" height="1.20" fill="#0d0822" opacity="0.9"/>
<rect x="238.53" y="294.03" width="3.70" height="1.20" fill="#090519" opacity="0.9"/>
<rect x="245.09" y="294.03" width="3.23" height="1.20" fill="#120a2c" opacity="0.9"/>
<rect x="248.32" y="294.03" width="3.82" height="1.20" fill="#150c34" opacity="0.9"/>
<rect x="252.14" y="294.03" width="1.97" height="1.20" fill="#0d0823" opacity="0.9"/>
<rect x="266.69" y="294.03" width="3.95" height="1.20" fill="#130b30" opacity="0.9"/>
<rect x="270.64" y="294.03" width="2.96" height="1.20" fill="#0d0721" opacity="0.9"/>
<rect x="187.40" y="295.36" width="1.79" height="1.20" fill="#0c071e" opacity="0.9"/>
<rect x="189.19" y="295.36" width="1.66" height="1.20" fill="#0e0824" opacity="0.9"/>
<rect x="197.97" y="295.36" width="3.94" height="1.20" fill="#0a061a" opacity="0.9"/>
<rect x="204.73" y="295.36" width="2.80" height="1.20" fill="#140b32" opacity="0.9"/>
<rect x="215.83" y="295.36" width="2.29" height="1.20" fill="#130b30" opacity="0.9"/>
<rect x="218.12" y="295.36" width="3.18" height="1.20" fill="#110a2b" opacity="0.9"/>
<rect x="221.30" y="295.36" width="2.25" height="1.20" fill="#140c32" opacity="0.9"/>
<rect x="226.54" y="295.36" width="1.92" height="1.20" fill="#130b2f" opacity="0.9"/>
<rect x="240.99" y="295.36" width="3.13" height="1.20" fill="#120b2e" opacity="0.9"/>
<rect x="244.12" y="295.36" width="3.72" height="1.20" fill="#0b061d" opacity="0.9"/>
<rect x="256.64" y="295.36" width="2.24" height="1.20" fill="#0b061d" opacity="0.9"/>
<rect x="258.88" y="295.36" width="2.69" height="1.20" fill="#140b31" opacity="0.9"/>
<rect x="265.48" y="295.36" width="3.18" height="1.20" fill="#100929" opacity="0.9"/>
<rect x="268.66" y="295.36" width="1.74" height="1.20" fill="#0e0824" opacity="0.9"/>
<rect x="196.06" y="296.70" width="3.84" height="1.20" fill="#150c34" opacity="0.9"/>
<rect x="211.93" y="296.70" width="3.95" height="1.20" fill="#0f0926" opacity="0.9"/>
<rect x="226.83" y="296.70" width="2.37" height="1.20" fill="#130b30" opacity="0.9"/>
<rect x="249.53" y="296.70" width="1.66" height="1.20" fill="#0c0721" opacity="0.9"/>
<rect x="254.27" y="296.70" width="3.18" height="1.20" fill="#130b2f" opacity="0.9"/>
<rect x="260.54" y="296.70" width="2.31" height="1.20" fill="#150c35" opacity="0.9"/>
<rect x="264.59" y="296.70" width="2.35" height="1.20" fill="#130b2f" opacity="0.9"/>
<rect x="266.94" y="296.70" width="2.48" height="1.20" fill="#0e0824" opacity="0.9"/>
<rect x="187.40" y="298.03" width="1.57" height="1.20" fill="#150c34" opacity="0.9"/>
<rect x="192.82" y="298.03" width="2.28" height="1.20" fill="#0a051a" opacity="0.9"/>
<rect x="197.51" y="298.03" width="3.87" height="1.20" fill="#0f0826" opacity="0.9"/>
<rect x="214.52" y="298.03" width="3.33" height="1.20" fill="#150c33" opacity="0.9"/>
<rect x="232.17" y="298.03" width="3.14" height="1.20" fill="#120a2d" opacity="0.9"/>
<rect x="243.16" y="298.03" width="3.79" height="1.20" fill="#140b32" opacity="0.9"/>
<rect x="264.87" y="298.03" width="1.96" height="1.20" fill="#140c32" opacity="0.9"/>
<rect x="266.83" y="298.03" width="3.15" height="1.20" fill="#120b2e" opacity="0.9"/>
<rect x="187.40" y="299.36" width="3.59" height="1.20" fill="#130b2f" opacity="0.9"/>
<rect x="190.99" y="299.36" width="2.86" height="1.20" fill="#0d0722" opacity="0.9"/>
<rect x="199.33" y="299.36" width="1.76" height="1.20" fill="#0c071f" opacity="0.9"/>
<rect x="209.41" y="299.36" width="4.00" height="1.20" fill="#100929" opacity="0.9"/>
<rect x="213.41" y="299.36" width="3.14" height="1.20" fill="#110a2c" opacity="0.9"/>
<rect x="216.55" y="299.36" width="2.52" height="1.20" fill="#0d0721" opacity="0.9"/>
<rect x="226.11" y="299.36" width="2.21" height="1.20" fill="#150c33" opacity="0.9"/>
<rect x="236.86" y="299.36" width="2.99" height="1.20" fill="#130b2f" opacity="0.9"/>
<rect x="242.02" y="299.36" width="3.93" height="1.20" fill="#130b2f" opacity="0.9"/>
<rect x="245.95" y="299.36" width="1.62" height="1.20" fill="#110a2a" opacity="0.9"/>
<rect x="259.06" y="299.36" width="2.09" height="1.20" fill="#0c071e" opacity="0.9"/>
<rect x="261.15" y="299.36" width="3.73" height="1.20" fill="#090519" opacity="0.9"/>
<rect x="191.97" y="300.70" width="2.17" height="1.20" fill="#130b2f" opacity="0.9"/>
<rect x="194.15" y="300.70" width="2.11" height="1.20" fill="#0b061e" opacity="0.9"/>
<rect x="196.26" y="300.70" width="2.18" height="1.20" fill="#100929" opacity="0.9"/>
<rect x="203.54" y="300.70" width="1.92" height="1.20" fill="#0d0822" opacity="0.9"/>
<rect x="231.13" y="300.70" width="3.42" height="1.20" fill="#130b2e" opacity="0.9"/>
<rect x="238.23" y="300.70" width="1.64" height="1.20" fill="#110a2b" opacity="0.9"/>
<rect x="269.12" y="300.70" width="2.78" height="1.20" fill="#120a2c" opacity="0.9"/>
<rect x="187.40" y="302.03" width="3.34" height="1.20" fill="#150c33" opacity="0.9"/>
<rect x="196.67" y="302.03" width="3.35" height="1.20" fill="#0a061b" opacity="0.9"/>
<rect x="210.36" y="302.03" width="3.86" height="1.20" fill="#0b061c" opacity="0.9"/>
<rect x="214.22" y="302.03" width="3.71" height="1.20" fill="#120a2c" opacity="0.9"/>
<rect x="220.25" y="302.03" width="3.60" height="1.20" fill="#0e0825" opacity="0.9"/>
<rect x="223.85" y="302.03" width="2.90" height="1.20" fill="#130b30" opacity="0.9"/>
<rect x="229.43" y="302.03" width="2.43" height="1.20" fill="#140b32" opacity="0.9"/>
<rect x="237.51" y="302.03" width="1.75" height="1.20" fill="#120b2e" opacity="0.9"/>
<rect x="239.26" y="302.03" width="3.12" height="1.20" fill="#0a061b" opacity="0.9"/>
<rect x="245.32" y="302.03" width="2.86" height="1.20" fill="#0c071f" opacity="0.9"/>
<rect x="268.38" y="302.03" width="3.98" height="1.20" fill="#0e0823" opacity="0.9"/>
<rect x="188.93" y="303.36" width="3.25" height="1.20" fill="#130b30" opacity="0.9"/>
<rect x="201.29" y="303.36" width="3.27" height="1.20" fill="#140b31" opacity="0.9"/>
<rect x="214.08" y="303.36" width="2.53" height="1.20" fill="#0b061c" opacity="0.9"/>
<rect x="218.31" y="303.36" width="3.39" height="1.20" fill="#150c35" opacity="0.9"/>
<rect x="221.69" y="303.36" width="2.98" height="1.20" fill="#0f0926" opacity="0.9"/>
<rect x="224.67" y="303.36" width="2.47" height="1.20" fill="#150c34" opacity="0.9"/>
<rect x="234.92" y="303.36" width="1.83" height="1.20" fill="#0a061b" opacity="0.9"/>
<rect x="239.80" y="303.36" width="3.31" height="1.20" fill="#0e0825" opacity="0.9"/>
<rect x="243.11" y="303.36" width="1.59" height="1.20" fill="#110a2a" opacity="0.9"/>
<rect x="244.70" y="303.36" width="1.83" height="1.20" fill="#0d0722" opacity="0.9"/>
<rect x="246.53" y="303.36" width="3.28" height="1.20" fill="#0f0826" opacity="0.9"/>
<rect x="249.82" y="303.36" width="2.30" height="1.20" fill="#0a061b" opacity="0.9"/>
<rect x="257.86" y="303.36" width="2.06" height="1.20" fill="#0c0720" opacity="0.9"/>
<rect x="263.85" y="303.36" width="2.68" height="1.20" fill="#120a2c" opacity="0.9"/>
<rect x="272.87" y="303.36" width="0.73" height="1.20" fill="#0c071f" opacity="0.9"/>
<rect x="190.50" y="304.69" width="3.82" height="1.20" fill="#0e0824" opacity="0.9"/>
<rect x="197.33" y="304.69" width="3.37" height="1.20" fill="#0a061c" opacity="0.9"/>
<rect x="204.37" y="304.69" width="2.97" height="1.20" fill="#130b31" opacity="0.9"/>
<rect x="211.40" y="304.69" width="2.23" height="1.20" fill="#0e0823" opacity="0.9"/>
<rect x="217.59" y="304.69" width="1.52" height="1.20" fill="#130b2f" opacity="0.9"/>
<rect x="225.61" y="304.69" width="3.93" height="1.20" fill="#0d0822" opacity="0.9"/>
<rect x="239.17" y="304.69" width="3.43" height="1.20" fill="#09051a" opacity="0.9"/>
<rect x="248.72" y="304.69" width="2.99" height="1.20" fill="#0e0823" opacity="0.9"/>
<rect x="261.87" y="304.69" width="2.61" height="1.20" fill="#0c071f" opacity="0.9"/>
<rect x="264.48" y="304.69" width="3.92" height="1.20" fill="#130b30" opacity="0.9"/>
<rect x="268.40" y="304.69" width="1.62" height="1.20" fill="#0c071f" opacity="0.9"/>
<rect x="197.08" y="306.03" width="1.79" height="1.20" fill="#110a2b" opacity="0.9"/>
<rect x="198.87" y="306.03" width="3.72" height="1.20" fill="#0f0825" opacity="0.9"/>
<rect x="212.22" y="306.03" width="3.45" height="1.20" fill="#10092a" opacity="0.9"/>
<rect x="215.67" y="306.03" width="2.50" height="1.20" fill="#0d0822" opacity="0.9"/>
<rect x="219.88" y="306.03" width="3.48" height="1.20" fill="#0e0823" opacity="0.9"/>
<rect x="227.05" y="306.03" width="3.74" height="1.20" fill="#100929" opacity="0.9"/>
<rect x="230.79" y="306.03" width="3.90" height="1.20" fill="#130b2e" opacity="0.9"/>
<rect x="251.47" y="306.03" width="3.04" height="1.20" fill="#090519" opacity="0.9"/>
<rect x="260.08" y="306.03" width="1.57" height="1.20" fill="#0e0825" opacity="0.9"/>
<rect x="261.65" y="306.03" width="2.28" height="1.20" fill="#0a061a" opacity="0.9"/>
<rect x="263.93" y="306.03" width="2.68" height="1.20" fill="#120a2d" opacity="0.9"/>
<rect x="272.18" y="306.03" width="1.42" height="1.20" fill="#110a2a" opacity="0.9"/>
<rect x="187.40" y="307.36" width="1.63" height="1.20" fill="#160c35" opacity="0.9"/>
<rect x="191.38" y="307.36" width="1.54" height="1.20" fill="#0b061c" opacity="0.9"/>
<rect x="192.91" y="307.36" width="3.36" height="1.20" fill="#0a061b" opacity="0.9"/>
<rect x="206.57" y="307.36" width="3.68" height="1.20" fill="#120a2d" opacity="0.9"/>
<rect x="215.71" y="307.36" width="3.13" height="1.20" fill="#140b32" opacity="0.9"/>
<rect x="221.97" y="307.36" width="3.92" height="1.20" fill="#0e0824" opacity="0.9"/>
<rect x="230.76" y="307.36" width="2.04" height="1.20" fill="#0d0822" opacity="0.9"/>
<rect x="236.69" y="307.36" width="1.66" height="1.20" fill="#0e0824" opacity="0.9"/>
<rect x="256.77" y="307.36" width="2.59" height="1.20" fill="#0f0927" opacity="0.9"/>
<rect x="264.53" y="307.36" width="1.95" height="1.20" fill="#0c071f" opacity="0.9"/>
<rect x="192.52" y="308.69" width="2.13" height="1.20" fill="#0e0825" opacity="0.9"/>
<rect x="194.65" y="308.69" width="3.03" height="1.20" fill="#140c33" opacity="0.9"/>
<rect x="209.88" y="308.69" width="2.12" height="1.20" fill="#140c32" opacity="0.9"/>
<rect x="216.74" y="308.69" width="3.72" height="1.20" fill="#100928" opacity="0.9"/>
<rect x="224.77" y="308.69" width="3.95" height="1.20" fill="#0a061c" opacity="0.9"/>
<rect x="237.79" y="308.69" width="2.46" height="1.20" fill="#100929" opacity="0.9"/>
<rect x="240.25" y="308.69" width="1.93" height="1.20" fill="#0f0826" opacity="0.9"/>
<rect x="248.12" y="308.69" width="2.01" height="1.20" fill="#120a2c" opacity="0.9"/>
<rect x="253.09" y="308.69" width="3.29" height="1.20" fill="#0e0824" opacity="0.9"/>
<rect x="261.11" y="308.69" width="3.44" height="1.20" fill="#100929" opacity="0.9"/>
<rect x="267.46" y="308.69" width="3.07" height="1.20" fill="#100929" opacity="0.9"/>
<rect x="270.53" y="308.69" width="3.07" height="1.20" fill="#090519" opacity="0.9"/>
<rect x="200.22" y="310.03" width="3.49" height="1.20" fill="#0e0823" opacity="0.9"/>
<rect x="205.77" y="310.03" width="3.26" height="1.20" fill="#100929" opacity="0.9"/>
<rect x="222.86" y="310.03" width="1.95" height="1.20" fill="#130b2f" opacity="0.9"/>
<rect x="224.81" y="310.03" width="2.35" height="1.20" fill="#0d0722" opacity="0.9"/>
<rect x="235.51" y="310.03" width="3.06" height="1.20" fill="#0a061b" opacity="0.9"/>
<rect x="247.02" y="310.03" width="3.14" height="1.20" fill="#090519" opacity="0.9"/>
<rect x="253.49" y="310.03" width="3.40" height="1.20" fill="#0a061c" opacity="0.9"/>
<rect x="262.67" y="310.03" width="3.06" height="1.20" fill="#0a061c" opacity="0.9"/>
<rect x="270.64" y="310.03" width="2.03" height="1.20" fill="#0d0823" opacity="0.9"/>
<rect x="192.19" y="311.36" width="2.39" height="1.20" fill="#100929" opacity="0.9"/>
<rect x="196.22" y="311.36" width="3.16" height="1.20" fill="#120a2d" opacity="0.9"/>
<rect x="201.62" y="311.36" width="3.16" height="1.20" fill="#0e0825" opacity="0.9"/>
<rect x="207.70" y="311.36" width="3.96" height="1.20" fill="#120a2d" opacity="0.9"/>
<rect x="216.02" y="311.36" width="2.79" height="1.20" fill="#0b061c" opacity="0.9"/>
<rect x="225.50" y="311.36" width="3.67" height="1.20" fill="#0d0823" opacity="0.9"/>
<rect x="229.17" y="311.36" width="2.15" height="1.20" fill="#0c071f" opacity="0.9"/>
<rect x="231.32" y="311.36" width="2.09" height="1.20" fill="#150c35" opacity="0.9"/>
<rect x="233.41" y="311.36" width="3.29" height="1.20" fill="#130b30" opacity="0.9"/>
<rect x="244.23" y="311.36" width="2.48" height="1.20" fill="#0e0825" opacity="0.9"/>
<rect x="246.71" y="311.36" width="3.31" height="1.20" fill="#120a2c" opacity="0.9"/>
<rect x="251.74" y="311.36" width="3.10" height="1.20" fill="#0b061d" opacity="0.9"/>
<rect x="259.50" y="311.36" width="1.74" height="1.20" fill="#140c32" opacity="0.9"/>
<rect x="261.25" y="311.36" width="1.55" height="1.20" fill="#11092a" opacity="0.9"/>
<rect x="272.92" y="311.36" width="0.68" height="1.20" fill="#0c0720" opacity="0.9"/>
<rect x="190.93" y="312.69" width="2.44" height="1.20" fill="#090518" opacity="0.9"/>
<rect x="208.23" y="312.69" width="3.52" height="1.20" fill="#150c34" opacity="0.9"/>
<rect x="214.95" y="312.69" width="2.09" height="1.20" fill="#110a2c" opacity="0.9"/>
<rect x="218.94" y="312.69" width="2.30" height="1.20" fill="#0b061d" opacity="0.9"/>
<rect x="221.24" y="312.69" width="3.71" height="1.20" fill="#0a061b" opacity="0.9"/>
<rect x="224.95" y="312.69" width="2.50" height="1.20" fill="#0f0927" opacity="0.9"/>
<rect x="230.79" y="312.69" width="3.18" height="1.20" fill="#0c071f" opacity="0.9"/>
<rect x="233.97" y="312.69" width="2.59" height="1.20" fill="#100928" opacity="0.9"/>
<rect x="252.44" y="312.69" width="3.78" height="1.20" fill="#150c33" opacity="0.9"/>
<rect x="256.22" y="312.69" width="3.14" height="1.20" fill="#120a2e" opacity="0.9"/>
<rect x="190.27" y="314.02" width="2.12" height="1.20" fill="#0a061b" opacity="0.9"/>
<rect x="197.98" y="314.02" width="2.21" height="1.20" fill="#140b32" opacity="0.9"/>
<rect x="201.99" y="314.02" width="3.55" height="1.20" fill="#130b30" opacity="0.9"/>
<rect x="209.41" y="314.02" width="3.43" height="1.20" fill="#150c34" opacity="0.9"/>
<rect x="219.94" y="314.02" width="2.01" height="1.20" fill="#120a2e" opacity="0.9"/>
<rect x="221.95" y="314.02" width="3.56" height="1.20" fill="#130b2f" opacity="0.9"/>
<rect x="230.89" y="314.02" width="2.97" height="1.20" fill="#150c33" opacity="0.9"/>
<rect x="243.43" y="314.02" width="2.50" height="1.20" fill="#150c33" opacity="0.9"/>
<rect x="249.79" y="314.02" width="3.32" height="1.20" fill="#130b2e" opacity="0.9"/>
<rect x="253.11" y="314.02" width="3.53" height="1.20" fill="#0d0722" opacity="0.9"/>
<rect x="264.78" y="314.02" width="2.97" height="1.20" fill="#0e0823" opacity="0.9"/>
<rect x="271.31" y="314.02" width="1.93" height="1.20" fill="#110a2c" opacity="0.9"/>
<rect x="273.25" y="314.02" width="0.35" height="1.20" fill="#0b061e" opacity="0.9"/>
<rect x="192.68" y="315.36" width="3.31" height="1.20" fill="#0a051a" opacity="0.9"/>
<rect x="205.41" y="315.36" width="3.88" height="1.20" fill="#110a2a" opacity="0.9"/>
<rect x="232.59" y="315.36" width="1.86" height="1.20" fill="#10092a" opacity="0.9"/>
<rect x="241.23" y="315.36" width="1.59" height="1.20" fill="#090518" opacity="0.9"/>
<rect x="261.89" y="315.36" width="3.94" height="1.20" fill="#0d0722" opacity="0.9"/>
<rect x="269.58" y="315.36" width="1.69" height="1.20" fill="#120a2d" opacity="0.9"/>
<rect x="187.40" y="316.69" width="3.15" height="1.20" fill="#100929" opacity="0.9"/>
<rect x="192.64" y="316.69" width="3.20" height="1.20" fill="#0e0825" opacity="0.9"/>
<rect x="205.23" y="316.69" width="2.80" height="1.20" fill="#0c0720" opacity="0.9"/>
<rect x="208.03" y="316.69" width="1.73" height="1.20" fill="#0e0825" opacity="0.9"/>
<rect x="213.04" y="316.69" width="3.43" height="1.20" fill="#0a061c" opacity="0.9"/>
<rect x="220.28" y="316.69" width="3.39" height="1.20" fill="#0c071f" opacity="0.9"/>
<rect x="234.99" y="316.69" width="1.53" height="1.20" fill="#0c071f" opacity="0.9"/>
<rect x="238.77" y="316.69" width="3.25" height="1.20" fill="#150c34" opacity="0.9"/>
<rect x="243.58" y="316.69" width="3.56" height="1.20" fill="#110a2b" opacity="0.9"/>
<rect x="253.85" y="316.69" width="1.90" height="1.20" fill="#0e0823" opacity="0.9"/>
<rect x="255.75" y="316.69" width="2.45" height="1.20" fill="#0c071f" opacity="0.9"/>
<rect x="258.20" y="316.69" width="2.65" height="1.20" fill="#110a2c" opacity="0.9"/>
<rect x="260.85" y="316.69" width="2.46" height="1.20" fill="#0a061c" opacity="0.9"/>
<rect x="264.83" y="316.69" width="2.66" height="1.20" fill="#100928" opacity="0.9"/>
<rect x="187.40" y="318.02" width="1.51" height="1.20" fill="#0a061b" opacity="0.9"/>
<rect x="200.52" y="318.02" width="1.86" height="1.20" fill="#120a2d" opacity="0.9"/>
<rect x="212.34" y="318.02" width="1.98" height="1.20" fill="#150c34" opacity="0.9"/>
<rect x="214.32" y="318.02" width="3.91" height="1.20" fill="#0b061d" opacity="0.9"/>
<rect x="218.23" y="318.02" width="2.49" height="1.20" fill="#0f0825" opacity="0.9"/>
<rect x="238.96" y="318.02" width="2.88" height="1.20" fill="#130b2f" opacity="0.9"/>
<rect x="245.28" y="318.02" width="2.10" height="1.20" fill="#0e0824" opacity="0.9"/>
<rect x="262.87" y="318.02" width="2.63" height="1.20" fill="#0a061b" opacity="0.9"/>
<rect x="265.49" y="318.02" width="2.57" height="1.20" fill="#090518" opacity="0.9"/>
<rect x="190.70" y="319.36" width="2.34" height="1.20" fill="#0d0823" opacity="0.9"/>
<rect x="193.04" y="319.36" width="1.71" height="1.20" fill="#0d0721" opacity="0.9"/>
<rect x="198.99" y="319.36" width="2.05" height="1.20" fill="#100929" opacity="0.9"/>
<rect x="201.04" y="319.36" width="2.18" height="1.20" fill="#100929" opacity="0.9"/>
<rect x="203.21" y="319.36" width="2.07" height="1.20" fill="#130b2f" opacity="0.9"/>
<rect x="210.95" y="319.36" width="2.65" height="1.20" fill="#0c0720" opacity="0.9"/>
<rect x="213.60" y="319.36" width="2.75" height="1.20" fill="#0f0927" opacity="0.9"/>
<rect x="218.83" y="319.36" width="2.44" height="1.20" fill="#100929" opacity="0.9"/>
<rect x="224.33" y="319.36" width="3.11" height="1.20" fill="#0d0721" opacity="0.9"/>
<rect x="236.00" y="319.36" width="2.51" height="1.20" fill="#0b061d" opacity="0.9"/>
<rect x="238.51" y="319.36" width="2.43" height="1.20" fill="#0b071e" opacity="0.9"/>
<rect x="249.08" y="319.36" width="2.46" height="1.20" fill="#120a2d" opacity="0.9"/>
<rect x="251.54" y="319.36" width="2.26" height="1.20" fill="#100929" opacity="0.9"/>
<rect x="255.83" y="319.36" width="3.37" height="1.20" fill="#090518" opacity="0.9"/>
<rect x="259.20" y="319.36" width="2.54" height="1.20" fill="#110a2c" opacity="0.9"/>
<rect x="261.73" y="319.36" width="1.66" height="1.20" fill="#120a2d" opacity="0.9"/>
<rect x="267.27" y="319.36" width="1.67" height="1.20" fill="#0d0721" opacity="0.9"/>
<rect x="268.94" y="319.36" width="3.22" height="1.20" fill="#140b31" opacity="0.9"/>
<rect x="272.16" y="319.36" width="1.44" height="1.20" fill="#0d0823" opacity="0.9"/>
<rect x="193.11" y="320.69" width="1.81" height="1.20" fill="#110a2b" opacity="0.9"/>
<rect x="194.92" y="320.69" width="1.90" height="1.20" fill="#130b30" opacity="0.9"/>
<rect x="223.08" y="320.69" width="1.82" height="1.20" fill="#150c34" opacity="0.9"/>
<rect x="224.90" y="320.69" width="3.23" height="1.20" fill="#130b2f" opacity="0.9"/>
<rect x="228.13" y="320.69" width="3.38" height="1.20" fill="#0b061c" opacity="0.9"/>
<rect x="235.28" y="320.69" width="3.75" height="1.20" fill="#0b061d" opacity="0.9"/>
<rect x="247.21" y="320.69" width="3.84" height="1.20" fill="#110a2a" opacity="0.9"/>
<rect x="251.05" y="320.69" width="3.96" height="1.20" fill="#0a061b" opacity="0.9"/>
<rect x="256.95" y="320.69" width="3.52" height="1.20" fill="#0b061e" opacity="0.9"/>
<rect x="260.48" y="320.69" width="3.20" height="1.20" fill="#110a2b" opacity="0.9"/>
<rect x="271.29" y="320.69" width="2.08" height="1.20" fill="#0e0824" opacity="0.9"/>
<rect x="190.90" y="322.02" width="3.19" height="1.20" fill="#0f0825" opacity="0.9"/>
<rect x="197.72" y="322.02" width="2.39" height="1.20" fill="#110a2b" opacity="0.9"/>
<rect x="207.67" y="322.02" width="1.51" height="1.20" fill="#120a2c" opacity="0.9"/>
<rect x="217.43" y="322.02" width="3.36" height="1.20" fill="#090519" opacity="0.9"/>
<rect x="220.79" y="322.02" width="2.77" height="1.20" fill="#120a2c" opacity="0.9"/>
<rect x="230.21" y="322.02" width="3.03" height="1.20" fill="#090518" opacity="0.9"/>
<rect x="233.24" y="322.02" width="3.59" height="1.20" fill="#0e0825" opacity="0.9"/>
<rect x="245.76" y="322.02" width="1.73" height="1.20" fill="#0a061a" opacity="0.9"/>
<rect x="260.94" y="322.02" width="2.80" height="1.20" fill="#090518" opacity="0.9"/>
<rect x="270.26" y="322.02" width="1.73" height="1.20" fill="#130b2f" opacity="0.9"/>
<rect x="206.94" y="323.35" width="1.60" height="1.20" fill="#0c071f" opacity="0.9"/>
<rect x="208.54" y="323.35" width="3.38" height="1.20" fill="#0a061b" opacity="0.9"/>
<rect x="217.83" y="323.35" width="2.34" height="1.20" fill="#130b30" opacity="0.9"/>
<rect x="226.82" y="323.35" width="2.47" height="1.20" fill="#140b31" opacity="0.9"/>
<rect x="243.23" y="323.35" width="2.88" height="1.20" fill="#0c071f" opacity="0.9"/>
<rect x="246.11" y="323.35" width="3.05" height="1.20" fill="#0b061e" opacity="0.9"/>
<rect x="256.13" y="323.35" width="3.61" height="1.20" fill="#100928" opacity="0.9"/>
<rect x="259.75" y="323.35" width="2.31" height="1.20" fill="#150c34" opacity="0.9"/>
<rect x="264.64" y="323.35" width="3.90" height="1.20" fill="#090519" opacity="0.9"/>
<rect x="271.67" y="323.35" width="1.93" height="1.20" fill="#0c071e" opacity="0.9"/>
<rect x="188.90" y="324.69" width="3.98" height="1.20" fill="#0b061e" opacity="0.9"/>
<rect x="226.00" y="324.69" width="3.44" height="1.20" fill="#110a2b" opacity="0.9"/>
<rect x="236.03" y="324.69" width="2.95" height="1.20" fill="#0a051a" opacity="0.9"/>
<rect x="244.31" y="324.69" width="2.16" height="1.20" fill="#0f0926" opacity="0.9"/>
<rect x="246.48" y="324.69" width="2.58" height="1.20" fill="#160c35" opacity="0.9"/>
<rect x="255.95" y="324.69" width="2.24" height="1.20" fill="#0c071f" opacity="0.9"/>
<rect x="273.26" y="324.69" width="0.34" height="1.20" fill="#0c071f" opacity="0.9"/>
<rect x="193.47" y="326.02" width="1.82" height="1.20" fill="#0f0927" opacity="0.9"/>
<rect x="199.02" y="326.02" width="3.94" height="1.20" fill="#0b061d" opacity="0.9"/>
<rect x="220.37" y="326.02" width="1.52" height="1.20" fill="#150c34" opacity="0.9"/>
<rect x="223.43" y="326.02" width="2.85" height="1.20" fill="#0d0721" opacity="0.9"/>
<rect x="227.82" y="326.02" width="3.58" height="1.20" fill="#0c0720" opacity="0.9"/>
<rect x="232.91" y="326.02" width="3.42" height="1.20" fill="#140b31" opacity="0.9"/>
<rect x="237.84" y="326.02" width="1.60" height="1.20" fill="#130b2e" opacity="0.9"/>
<rect x="253.32" y="326.02" width="3.35" height="1.20" fill="#100929" opacity="0.9"/>
<rect x="265.76" y="326.02" width="2.13" height="1.20" fill="#090518" opacity="0.9"/>
<rect x="269.80" y="326.02" width="2.51" height="1.20" fill="#0c071f" opacity="0.9"/>
<rect x="272.30" y="326.02" width="1.30" height="1.20" fill="#0d0722" opacity="0.9"/>
<rect x="187.40" y="327.35" width="2.69" height="1.20" fill="#0e0824" opacity="0.9"/>
<rect x="191.63" y="327.35" width="2.30" height="1.20" fill="#110a2b" opacity="0.9"/>
<rect x="193.93" y="327.35" width="3.53" height="1.20" fill="#110a2b" opacity="0.9"/>
<rect x="203.10" y="327.35" width="3.31" height="1.20" fill="#140c33" opacity="0.9"/>
<rect x="206.41" y="327.35" width="2.82" height="1.20" fill="#0d0721" opacity="0.9"/>
<rect x="209.23" y="327.35" width="2.90" height="1.20" fill="#090519" opacity="0.9"/>
<rect x="219.47" y="327.35" width="3.54" height="1.20" fill="#0b061c" opacity="0.9"/>
<rect x="223.01" y="327.35" width="1.62" height="1.20" fill="#0b061d" opacity="0.9"/>
<rect x="230.21" y="327.35" width="2.85" height="1.20" fill="#150c34" opacity="0.9"/>
<rect x="236.76" y="327.35" width="2.06" height="1.20" fill="#0a061a" opacity="0.9"/>
<rect x="242.09" y="327.35" width="2.52" height="1.20" fill="#0e0823" opacity="0.9"/>
<rect x="250.64" y="327.35" width="2.59" height="1.20" fill="#090519" opacity="0.9"/>
<rect x="265.00" y="327.35" width="3.14" height="1.20" fill="#11092a" opacity="0.9"/>
<rect x="208.25" y="328.69" width="1.92" height="1.20" fill="#150c35" opacity="0.9"/>
<rect x="212.16" y="328.69" width="3.61" height="1.20" fill="#150c33" opacity="0.9"/>
<rect x="222.58" y="328.69" width="3.19" height="1.20" fill="#100929" opacity="0.9"/>
<rect x="238.68" y="328.69" width="3.84" height="1.20" fill="#100929" opacity="0.9"/>
<rect x="242.52" y="328.69" width="2.39" height="1.20" fill="#0b071e" opacity="0.9"/>
<rect x="248.79" y="328.69" width="3.97" height="1.20" fill="#090518" opacity="0.9"/>
<rect x="255.54" y="328.69" width="1.64" height="1.20" fill="#120a2c" opacity="0.9"/>
<rect x="257.18" y="328.69" width="1.93" height="1.20" fill="#0c071f" opacity="0.9"/>
<rect x="260.61" y="328.69" width="2.84" height="1.20" fill="#0f0927" opacity="0.9"/>
<rect x="268.61" y="328.69" width="3.64" height="1.20" fill="#150c34" opacity="0.9"/>
<rect x="272.26" y="328.69" width="1.34" height="1.20" fill="#0f0926" opacity="0.9"/>
<rect x="187.40" y="330.02" width="2.82" height="1.20" fill="#120a2e" opacity="0.9"/>
<rect x="200.14" y="330.02" width="2.73" height="1.20" fill="#0b061c" opacity="0.9"/>
<rect x="202.87" y="330.02" width="2.47" height="1.20" fill="#0c0720" opacity="0.9"/>
<rect x="208.44" y="330.02" width="2.50" height="1.20" fill="#090519" opacity="0.9"/>
<rect x="210.94" y="330.02" width="2.32" height="1.20" fill="#0d0722" opacity="0.9"/>
<rect x="217.92" y="330.02" width="3.64" height="1.20" fill="#0a061a" opacity="0.9"/>
<rect x="232.24" y="330.02" width="3.03" height="1.20" fill="#140b32" opacity="0.9"/>
<rect x="238.49" y="330.02" width="1.75" height="1.20" fill="#0a061a" opacity="0.9"/>
<rect x="246.58" y="330.02" width="3.44" height="1.20" fill="#0c071f" opacity="0.9"/>
<rect x="255.97" y="330.02" width="3.42" height="1.20" fill="#0c0720" opacity="0.9"/>
<rect x="259.39" y="330.02" width="3.18" height="1.20" fill="#090519" opacity="0.9"/>
<rect x="262.57" y="330.02" width="2.11" height="1.20" fill="#0c071f" opacity="0.9"/>
<rect x="264.68" y="330.02" width="2.81" height="1.20" fill="#110a2b" opacity="0.9"/>
<rect x="269.97" y="330.02" width="1.63" height="1.20" fill="#0e0825" opacity="0.9"/>
<rect x="187.40" y="331.35" width="3.98" height="1.20" fill="#150c34" opacity="0.9"/>
<rect x="192.98" y="331.35" width="3.26" height="1.20" fill="#09051a" opacity="0.9"/>
<rect x="202.83" y="331.35" width="2.10" height="1.20" fill="#140c33" opacity="0.9"/>
<rect x="204.93" y="331.35" width="2.00" height="1.20" fill="#130b30" opacity="0.9"/>
<rect x="206.93" y="331.35" width="2.50" height="1.20" fill="#100928" opacity="0.9"/>
<rect x="209.43" y="331.35" width="3.01" height="1.20" fill="#150c33" opacity="0.9"/>
<rect x="212.43" y="331.35" width="1.76" height="1.20" fill="#120a2c" opacity="0.9"/>
<rect x="217.95" y="331.35" width="1.81" height="1.20" fill="#150c33" opacity="0.9"/>
<rect x="223.06" y="331.35" width="3.26" height="1.20" fill="#0f0825" opacity="0.9"/>
<rect x="226.32" y="331.35" width="3.22" height="1.20" fill="#0f0927" opacity="0.9"/>
<rect x="229.53" y="331.35" width="1.88" height="1.20" fill="#110a2a" opacity="0.9"/>
<rect x="235.40" y="331.35" width="3.52" height="1.20" fill="#130b30" opacity="0.9"/>
<rect x="244.94" y="331.35" width="2.95" height="1.20" fill="#110a2b" opacity="0.9"/>
<rect x="256.29" y="331.35" width="2.19" height="1.20" fill="#140c32" opacity="0.9"/>
<rect x="258.49" y="331.35" width="1.59" height="1.20" fill="#130b31" opacity="0.9"/>
<rect x="267.67" y="331.35" width="3.51" height="1.20" fill="#0b061d" opacity="0.9"/>
<rect x="272.96" y="331.35" width="0.64" height="1.20" fill="#150c35" opacity="0.9"/>
<rect x="187.40" y="332.68" width="3.62" height="1.20" fill="#140c32" opacity="0.9"/>
<rect x="193.71" y="332.68" width="2.06" height="1.20" fill="#160c35" opacity="0.9"/>
<rect x="195.76" y="332.68" width="1.57" height="1.20" fill="#130b30" opacity="0.9"/>
<rect x="206.36" y="332.68" width="2.19" height="1.20" fill="#10092a" opacity="0.9"/>
<rect x="208.54" y="332.68" width="2.14" height="1.20" fill="#100928" opacity="0.9"/>
<rect x="222.15" y="332.68" width="3.68" height="1.20" fill="#0d0721" opacity="0.9"/>
<rect x="236.60" y="332.68" width="2.01" height="1.20" fill="#110a2c" opacity="0.9"/>
<rect x="247.60" y="332.68" width="3.45" height="1.20" fill="#130b2e" opacity="0.9"/>
<rect x="251.05" y="332.68" width="3.02" height="1.20" fill="#140b31" opacity="0.9"/>
<rect x="259.91" y="332.68" width="2.00" height="1.20" fill="#0f0926" opacity="0.9"/>
<rect x="261.91" y="332.68" width="2.16" height="1.20" fill="#0a061b" opacity="0.9"/>
<rect x="189.41" y="334.02" width="2.10" height="1.20" fill="#0e0823" opacity="0.9"/>
<rect x="194.43" y="334.02" width="1.64" height="1.20" fill="#100929" opacity="0.9"/>
<rect x="205.59" y="334.02" width="2.75" height="1.20" fill="#090518" opacity="0.9"/>
<rect x="208.34" y="334.02" width="2.15" height="1.20" fill="#0b061d" opacity="0.9"/>
<rect x="214.25" y="334.02" width="3.98" height="1.20" fill="#0c071e" opacity="0.9"/>
<rect x="218.23" y="334.02" width="2.42" height="1.20" fill="#0f0927" opacity="0.9"/>
<rect x="220.64" y="334.02" width="1.69" height="1.20" fill="#140c32" opacity="0.9"/>
<rect x="230.56" y="334.02" width="2.11" height="1.20" fill="#11092a" opacity="0.9"/>
<rect x="232.67" y="334.02" width="3.69" height="1.20" fill="#0b061d" opacity="0.9"/>
<rect x="241.93" y="334.02" width="1.85" height="1.20" fill="#0a061a" opacity="0.9"/>
<rect x="255.93" y="334.02" width="2.81" height="1.20" fill="#10092a" opacity="0.9"/>
<rect x="272.01" y="334.02" width="1.59" height="1.20" fill="#110a2c" opacity="0.9"/>
<rect x="199.41" y="335.35" width="2.40" height="1.20" fill="#090519" opacity="0.9"/>
<rect x="201.81" y="335.35" width="1.57" height="1.20" fill="#0f0926" opacity="0.9"/>
<rect x="217.36" y="335.35" width="3.18" height="1.20" fill="#100928" opacity="0.9"/>
<rect x="220.55" y="335.35" width="3.21" height="1.20" fill="#120a2c" opacity="0.9"/>
<rect x="223.76" y="335.35" width="3.34" height="1.20" fill="#0b061e" opacity="0.9"/>
<rect x="236.17" y="335.35" width="3.38" height="1.20" fill="#0d0822" opacity="0.9"/>
<rect x="239.54" y="335.35" width="3.37" height="1.20" fill="#0d0822" opacity="0.9"/>
<rect x="255.68" y="335.35" width="2.69" height="1.20" fill="#100929" opacity="0.9"/>
<rect x="262.17" y="335.35" width="1.67" height="1.20" fill="#0f0927" opacity="0.9"/>
<rect x="263.84" y="335.35" width="1.70" height="1.20" fill="#0e0823" opacity="0.9"/>
<rect x="187.40" y="336.68" width="1.65" height="1.20" fill="#0e0824" opacity="0.9"/>
<rect x="198.40" y="336.68" width="2.21" height="1.20" fill="#0b061d" opacity="0.9"/>
<rect x="203.89" y="336.68" width="3.36" height="1.20" fill="#0f0927" opacity="0.9"/>
<rect x="209.78" y="336.68" width="2.54" height="1.20" fill="#150c34" opacity="0.9"/>
<rect x="212.32" y="336.68" width="3.83" height="1.20" fill="#0c071f" opacity="0.9"/>
<rect x="216.15" y="336.68" width="2.53" height="1.20" fill="#0e0824" opacity="0.9"/>
<rect x="221.24" y="336.68" width="3.96" height="1.20" fill="#0e0825" opacity="0.9"/>
<rect x="226.77" y="336.68" width="3.39" height="1.20" fill="#130b30" opacity="0.9"/>
<rect x="232.03" y="336.68" width="3.96" height="1.20" fill="#0b061c" opacity="0.9"/>
<rect x="258.99" y="336.68" width="2.73" height="1.20" fill="#0d0721" opacity="0.9"/>
<rect x="264.01" y="336.68" width="1.80" height="1.20" fill="#130b2e" opacity="0.9"/>
<rect x="271.44" y="336.68" width="2.16" height="1.20" fill="#120a2d" opacity="0.9"/>
<rect x="208.77" y="338.02" width="3.47" height="1.20" fill="#0a061a" opacity="0.9"/>
<rect x="217.08" y="338.02" width="1.63" height="1.20" fill="#110a2c" opacity="0.9"/>
<rect x="218.71" y="338.02" width="3.21" height="1.20" fill="#110a2a" opacity="0.9"/>
<rect x="239.84" y="338.02" width="2.67" height="1.20" fill="#0d0822" opacity="0.9"/>
<rect x="242.51" y="338.02" width="3.96" height="1.20" fill="#120a2d" opacity="0.9"/>
<rect x="254.80" y="338.02" width="1.75" height="1.20" fill="#0d0721" opacity="0.9"/>
<rect x="260.59" y="338.02" width="1.87" height="1.20" fill="#0e0825" opacity="0.9"/>
<rect x="264.71" y="338.02" width="2.42" height="1.20" fill="#0c0720" opacity="0.9"/>
<rect x="272.51" y="338.02" width="1.09" height="1.20" fill="#0c071e" opacity="0.9"/>
<rect x="198.23" y="339.35" width="2.49" height="1.20" fill="#0c0720" opacity="0.9"/>
<rect x="200.72" y="339.35" width="3.51" height="1.20" fill="#130b30" opacity="0.9"/>
<rect x="207.47" y="339.35" width="3.10" height="1.20" fill="#110a2a" opacity="0.9"/>
<rect x="213.07" y="339.35" width="1.98" height="1.20" fill="#120a2d" opacity="0.9"/>
<rect x="226.43" y="339.35" width="3.18" height="1.20" fill="#100928" opacity="0.9"/>
<rect x="229.60" y="339.35" width="1.83" height="1.20" fill="#130b2f" opacity="0.9"/>
<rect x="238.68" y="339.35" width="1.93" height="1.20" fill="#0e0824" opacity="0.9"/>
<rect x="243.70" y="339.35" width="1.75" height="1.20" fill="#110a2b" opacity="0.9"/>
<rect x="245.45" y="339.35" width="2.14" height="1.20" fill="#120a2c" opacity="0.9"/>
<rect x="247.58" y="339.35" width="3.18" height="1.20" fill="#110a2b" opacity="0.9"/>
<rect x="250.77" y="339.35" width="2.53" height="1.20" fill="#0b071e" opacity="0.9"/>
<rect x="253.30" y="339.35" width="1.64" height="1.20" fill="#0f0826" opacity="0.9"/>
<rect x="256.78" y="339.35" width="2.35" height="1.20" fill="#100927" opacity="0.9"/>
<rect x="268.02" y="339.35" width="3.35" height="1.20" fill="#110a2a" opacity="0.9"/>
<rect x="221.45" y="340.68" width="3.56" height="1.20" fill="#120a2c" opacity="0.9"/>
<rect x="226.78" y="340.68" width="1.92" height="1.20" fill="#140b32" opacity="0.9"/>
<rect x="228.70" y="340.68" width="3.66" height="1.20" fill="#0f0826" opacity="0.9"/>
<rect x="232.36" y="340.68" width="2.28" height="1.20" fill="#130b30" opacity="0.9"/>
<rect x="243.99" y="340.68" width="2.95" height="1.20" fill="#140b32" opacity="0.9"/>
<rect x="259.88" y="340.68" width="2.02" height="1.20" fill="#130b2f" opacity="0.9"/>
<rect x="189.42" y="342.01" width="2.90" height="1.20" fill="#0d0822" opacity="0.9"/>
<rect x="196.05" y="342.01" width="3.84" height="1.20" fill="#0d0721" opacity="0.9"/>
<rect x="203.86" y="342.01" width="3.79" height="1.20" fill="#0e0825" opacity="0.9"/>
<rect x="207.65" y="342.01" width="3.99" height="1.20" fill="#0d0823" opacity="0.9"/>
<rect x="233.12" y="342.01" width="1.70" height="1.20" fill="#110a2c" opacity="0.9"/>
<rect x="244.24" y="342.01" width="3.61" height="1.20" fill="#150c35" opacity="0.9"/>
<rect x="247.85" y="342.01" width="1.66" height="1.20" fill="#0b061d" opacity="0.9"/>
<rect x="256.11" y="342.01" width="3.97" height="1.20" fill="#0f0926" opacity="0.9"/>
<rect x="267.13" y="342.01" width="3.20" height="1.20" fill="#0d0822" opacity="0.9"/>
<rect x="270.33" y="342.01" width="1.64" height="1.20" fill="#0e0825" opacity="0.9"/>
<rect x="187.40" y="343.35" width="3.87" height="1.20" fill="#140c33" opacity="0.9"/>
<rect x="191.27" y="343.35" width="3.97" height="1.20" fill="#0e0824" opacity="0.9"/>
<rect x="195.24" y="343.35" width="2.69" height="1.20" fill="#0b061d" opacity="0.9"/>
<rect x="206.42" y="343.35" width="2.84" height="1.20" fill="#090519" opacity="0.9"/>
<rect x="210.93" y="343.35" width="2.12" height="1.20" fill="#09051a" opacity="0.9"/>
<rect x="223.85" y="343.35" width="2.82" height="1.20" fill="#150c35" opacity="0.9"/>
<rect x="231.63" y="343.35" width="3.07" height="1.20" fill="#0c071f" opacity="0.9"/>
<rect x="238.01" y="343.35" width="3.67" height="1.20" fill="#140b31" opacity="0.9"/>
<rect x="243.79" y="343.35" width="3.15" height="1.20" fill="#140b31" opacity="0.9"/>
<rect x="252.55" y="343.35" width="1.62" height="1.20" fill="#110a2c" opacity="0.9"/>
<rect x="260.03" y="343.35" width="1.54" height="1.20" fill="#130b2f" opacity="0.9"/>
<rect x="261.56" y="343.35" width="2.65" height="1.20" fill="#0e0824" opacity="0.9"/>
<rect x="267.02" y="343.35" width="3.41" height="1.20" fill="#100929" opacity="0.9"/>
<rect x="270.43" y="343.35" width="2.48" height="1.20" fill="#140b32" opacity="0.9"/>
<rect x="192.60" y="344.68" width="2.01" height="1.20" fill="#090518" opacity="0.9"/>
<rect x="198.53" y="344.68" width="2.99" height="1.20" fill="#130b2f" opacity="0.9"/>
<rect x="210.33" y="344.68" width="3.92" height="1.20" fill="#09051a" opacity="0.9"/>
<rect x="214.25" y="344.68" width="2.26" height="1.20" fill="#100928" opacity="0.9"/>
<rect x="226.77" y="344.68" width="1.85" height="1.20" fill="#0c0720" opacity="0.9"/>
<rect x="245.56" y="344.68" width="2.83" height="1.20" fill="#130b2f" opacity="0.9"/>
<rect x="252.48" y="344.68" width="2.29" height="1.20" fill="#0d0722" opacity="0.9"/>
<rect x="261.67" y="344.68" width="2.00" height="1.20" fill="#130b30" opacity="0.9"/>
<rect x="265.81" y="344.68" width="2.20" height="1.20" fill="#0f0926" opacity="0.9"/>
<rect x="272.90" y="344.68" width="0.70" height="1.20" fill="#0d0721" opacity="0.9"/>
<rect x="208.06" y="346.01" width="3.11" height="1.20" fill="#090518" opacity="0.9"/>
<rect x="238.77" y="346.01" width="3.42" height="1.20" fill="#0c071e" opacity="0.9"/>
<rect x="247.62" y="346.01" width="1.84" height="1.20" fill="#0d0823" opacity="0.9"/>
<rect x="254.05" y="346.01" width="3.80" height="1.20" fill="#0b061d" opacity="0.9"/>
<rect x="268.49" y="346.01" width="2.60" height="1.20" fill="#0a061c" opacity="0.9"/>
<rect x="273.17" y="346.01" width="0.43" height="1.20" fill="#130b2f" opacity="0.9"/>
<rect x="199.39" y="347.35" width="2.84" height="1.20" fill="#090519" opacity="0.9"/>
<rect x="206.97" y="347.35" width="3.85" height="1.20" fill="#0f0825" opacity="0.9"/>
<rect x="214.45" y="347.35" width="2.94" height="1.20" fill="#0a061b" opacity="0.9"/>
<rect x="220.29" y="347.35" width="3.29" height="1.20" fill="#0f0825" opacity="0.9"/>
<rect x="225.54" y="347.35" width="3.15" height="1.20" fill="#0b061d" opacity="0.9"/>
<rect x="228.68" y="347.35" width="1.65" height="1.20" fill="#150c34" opacity="0.9"/>
<rect x="233.65" y="347.35" width="3.57" height="1.20" fill="#150c34" opacity="0.9"/>
<rect x="251.16" y="347.35" width="2.08" height="1.20" fill="#0b071e" opacity="0.9"/>
<rect x="262.41" y="347.35" width="2.84" height="1.20" fill="#100928" opacity="0.9"/>
<rect x="265.24" y="347.35" width="1.93" height="1.20" fill="#100928" opacity="0.9"/>
<rect x="269.08" y="347.35" width="2.97" height="1.20" fill="#140c33" opacity="0.9"/>
<rect x="272.05" y="347.35" width="1.55" height="1.20" fill="#0a061b" opacity="0.9"/>
<rect x="189.34" y="348.68" width="3.47" height="1.20" fill="#0d0721" opacity="0.9"/>
<rect x="205.76" y="348.68" width="3.91" height="1.20" fill="#140b31" opacity="0.9"/>
<rect x="213.07" y="348.68" width="1.78" height="1.20" fill="#110a2b" opacity="0.9"/>
<rect x="220.36" y="348.68" width="2.95" height="1.20" fill="#130b2f" opacity="0.9"/>
<rect x="226.40" y="348.68" width="2.48" height="1.20" fill="#0d0823" opacity="0.9"/>
<rect x="232.05" y="348.68" width="2.43" height="1.20" fill="#0d0822" opacity="0.9"/>
<rect x="234.47" y="348.68" width="2.88" height="1.20" fill="#0b061d" opacity="0.9"/>
<rect x="237.35" y="348.68" width="3.67" height="1.20" fill="#0e0824" opacity="0.9"/>
<rect x="242.74" y="348.68" width="1.90" height="1.20" fill="#0f0927" opacity="0.9"/>
<rect x="247.34" y="348.68" width="2.49" height="1.20" fill="#140b31" opacity="0.9"/>
<rect x="249.82" y="348.68" width="3.63" height="1.20" fill="#140c32" opacity="0.9"/>
<rect x="256.73" y="348.68" width="2.82" height="1.20" fill="#140b32" opacity="0.9"/>
<rect x="259.55" y="348.68" width="3.31" height="1.20" fill="#0c0720" opacity="0.9"/>
<rect x="271.53" y="348.68" width="2.07" height="1.20" fill="#0f0826" opacity="0.9"/>
<rect x="187.40" y="350.01" width="2.36" height="1.20" fill="#11092a" opacity="0.9"/>
<rect x="189.76" y="350.01" width="1.51" height="1.20" fill="#09051a" opacity="0.9"/>
<rect x="193.49" y="350.01" width="1.98" height="1.20" fill="#100929" opacity="0.9"/>
<rect x="195.47" y="350.01" width="3.96" height="1.20" fill="#0e0824" opacity="0.9"/>
<rect x="210.00" y="350.01" width="2.95" height="1.20" fill="#150c34" opacity="0.9"/>
<rect x="216.41" y="350.01" width="3.34" height="1.20" fill="#0e0823" opacity="0.9"/>
<rect x="225.41" y="350.01" width="2.82" height="1.20" fill="#140b31" opacity="0.9"/>
<rect x="234.76" y="350.01" width="2.69" height="1.20" fill="#0f0825" opacity="0.9"/>
<rect x="243.51" y="350.01" width="1.96" height="1.20" fill="#0a061b" opacity="0.9"/>
<rect x="252.33" y="350.01" width="3.87" height="1.20" fill="#0b061d" opacity="0.9"/>
<rect x="259.58" y="350.01" width="3.45" height="1.20" fill="#0c0720" opacity="0.9"/>
<rect x="263.02" y="350.01" width="1.91" height="1.20" fill="#0b061d" opacity="0.9"/>
<rect x="271.06" y="350.01" width="2.54" height="1.20" fill="#0d0721" opacity="0.9"/>
<rect x="190.24" y="351.34" width="3.89" height="1.20" fill="#110a2a" opacity="0.9"/>
<rect x="196.84" y="351.34" width="2.50" height="1.20" fill="#0c071f" opacity="0.9"/>
<rect x="199.34" y="351.34" width="3.93" height="1.20" fill="#150c34" opacity="0.9"/>
<rect x="209.04" y="351.34" width="2.40" height="1.20" fill="#0a061b" opacity="0.9"/>
<rect x="213.87" y="351.34" width="3.70" height="1.20" fill="#120a2c" opacity="0.9"/>
<rect x="221.84" y="351.34" width="1.91" height="1.20" fill="#0a061b" opacity="0.9"/>
<rect x="238.73" y="351.34" width="1.86" height="1.20" fill="#120a2c" opacity="0.9"/>
<rect x="240.59" y="351.34" width="1.62" height="1.20" fill="#120a2e" opacity="0.9"/>
<rect x="250.00" y="351.34" width="3.36" height="1.20" fill="#0c0720" opacity="0.9"/>
<rect x="256.19" y="351.34" width="2.57" height="1.20" fill="#150c34" opacity="0.9"/>
<rect x="258.75" y="351.34" width="3.94" height="1.20" fill="#140b31" opacity="0.9"/>
<rect x="265.93" y="351.34" width="2.59" height="1.20" fill="#0c0720" opacity="0.9"/>
<rect x="268.52" y="351.34" width="2.08" height="1.20" fill="#090519" opacity="0.9"/>
<rect x="270.60" y="351.34" width="2.15" height="1.20" fill="#0f0926" opacity="0.9"/>
<rect x="187.40" y="352.68" width="2.25" height="1.20" fill="#0f0825" opacity="0.9"/>
<rect x="189.65" y="352.68" width="3.34" height="1.20" fill="#0d0822" opacity="0.9"/>
<rect x="195.24" y="352.68" width="1.98" height="1.20" fill="#0d0823" opacity="0.9"/>
<rect x="204.05" y="352.68" width="2.38" height="1.20" fill="#100929" opacity="0.9"/>
<rect x="208.73" y="352.68" width="3.33" height="1.20" fill="#100929" opacity="0.9"/>
<rect x="220.64" y="352.68" width="3.45" height="1.20" fill="#150c33" opacity="0.9"/>
<rect x="226.94" y="352.68" width="3.79" height="1.20" fill="#0a061a" opacity="0.9"/>
<rect x="232.42" y="352.68" width="2.36" height="1.20" fill="#0a061b" opacity="0.9"/>
<rect x="238.84" y="352.68" width="3.31" height="1.20" fill="#0c0720" opacity="0.9"/>
<rect x="253.24" y="352.68" width="2.73" height="1.20" fill="#120a2e" opacity="0.9"/>
<rect x="258.27" y="352.68" width="2.94" height="1.20" fill="#150c35" opacity="0.9"/>
<rect x="273.05" y="352.68" width="0.55" height="1.20" fill="#0a061a" opacity="0.9"/>
<rect x="187.40" y="354.01" width="3.38" height="1.20" fill="#150c33" opacity="0.9"/>
<rect x="190.78" y="354.01" width="2.24" height="1.20" fill="#150c34" opacity="0.9"/>
<rect x="193.01" y="354.01" width="2.62" height="1.20" fill="#110a2b" opacity="0.9"/>
<rect x="200.26" y="354.01" width="1.91" height="1.20" fill="#0b061d" opacity="0.9"/>
<rect x="202.17" y="354.01" width="3.59" height="1.20" fill="#0a061a" opacity="0.9"/>
<rect x="217.03" y="354.01" width="2.02" height="1.20" fill="#0d0721" opacity="0.9"/>
<rect x="219.05" y="354.01" width="3.18" height="1.20" fill="#0d0722" opacity="0.9"/>
<rect x="228.26" y="354.01" width="1.60" height="1.20" fill="#0f0927" opacity="0.9"/>
<rect x="233.01" y="354.01" width="2.52" height="1.20" fill="#0a061a" opacity="0.9"/>
<rect x="252.57" y="354.01" width="1.67" height="1.20" fill="#130b2f" opacity="0.9"/>
<rect x="270.12" y="354.01" width="1.66" height="1.20" fill="#140b31" opacity="0.9"/>
<rect x="193.07" y="355.34" width="2.71" height="1.20" fill="#0c0720" opacity="0.9"/>
<rect x="204.90" y="355.34" width="3.63" height="1.20" fill="#0a051a" opacity="0.9"/>
<rect x="210.96" y="355.34" width="2.29" height="1.20" fill="#0f0927" opacity="0.9"/>
<rect x="219.94" y="355.34" width="1.63" height="1.20" fill="#0e0824" opacity="0.9"/>
<rect x="229.53" y="355.34" width="2.38" height="1.20" fill="#0f0826" opacity="0.9"/>
<rect x="231.91" y="355.34" width="3.09" height="1.20" fill="#09051a" opacity="0.9"/>
<rect x="239.35" y="355.34" width="3.20" height="1.20" fill="#0a061b" opacity="0.9"/>
<rect x="245.44" y="355.34" width="3.51" height="1.20" fill="#0d0721" opacity="0.9"/>
<rect x="248.95" y="355.34" width="3.13" height="1.20" fill="#0c0720" opacity="0.9"/>
<rect x="258.76" y="355.34" width="2.47" height="1.20" fill="#140b32" opacity="0.9"/>
<rect x="261.22" y="355.34" width="3.75" height="1.20" fill="#150c34" opacity="0.9"/>
<rect x="267.86" y="355.34" width="2.46" height="1.20" fill="#100928" opacity="0.9"/>
<rect x="273.15" y="355.34" width="0.45" height="1.20" fill="#130b2f" opacity="0.9"/>
<rect x="201.01" y="356.68" width="2.44" height="1.20" fill="#130b30" opacity="0.9"/>
<rect x="210.69" y="356.68" width="3.92" height="1.20" fill="#150c33" opacity="0.9"/>
<rect x="214.61" y="356.68" width="3.39" height="1.20" fill="#120a2d" opacity="0.9"/>
<rect x="221.09" y="356.68" width="1.91" height="1.20" fill="#0e0825" opacity="0.9"/>
<rect x="229.83" y="356.68" width="2.44" height="1.20" fill="#0d0721" opacity="0.9"/>
<rect x="235.83" y="356.68" width="1.65" height="1.20" fill="#0d0822" opacity="0.9"/>
<rect x="237.48" y="356.68" width="2.56" height="1.20" fill="#0f0926" opacity="0.9"/>
<rect x="242.70" y="356.68" width="2.70" height="1.20" fill="#090519" opacity="0.9"/>
<rect x="267.82" y="356.68" width="1.87" height="1.20" fill="#0f0927" opacity="0.9"/>
<rect x="187.40" y="358.01" width="3.72" height="1.20" fill="#0e0823" opacity="0.9"/>
<rect x="195.91" y="358.01" width="3.06" height="1.20" fill="#0f0927" opacity="0.9"/>
<rect x="198.96" y="358.01" width="3.54" height="1.20" fill="#0a061b" opacity="0.9"/>
<rect x="208.30" y="358.01" width="3.49" height="1.20" fill="#110a2b" opacity="0.9"/>
<rect x="220.17" y="358.01" width="1.79" height="1.20" fill="#090519" opacity="0.9"/>
<rect x="225.22" y="358.01" width="2.92" height="1.20" fill="#0a061c" opacity="0.9"/>
<rect x="231.69" y="358.01" width="2.58" height="1.20" fill="#0d0721" opacity="0.9"/>
<rect x="237.26" y="358.01" width="2.42" height="1.20" fill="#120a2e" opacity="0.9"/>
<rect x="239.68" y="358.01" width="1.75" height="1.20" fill="#150c34" opacity="0.9"/>
<rect x="241.43" y="358.01" width="3.75" height="1.20" fill="#110a2a" opacity="0.9"/>
<rect x="247.58" y="358.01" width="3.37" height="1.20" fill="#0d0722" opacity="0.9"/>
<rect x="252.59" y="358.01" width="2.23" height="1.20" fill="#090518" opacity="0.9"/>
<rect x="262.53" y="358.01" width="2.70" height="1.20" fill="#0c0720" opacity="0.9"/>
<rect x="270.46" y="358.01" width="2.78" height="1.20" fill="#0d0822" opacity="0.9"/>
<rect x="191.34" y="359.34" width="3.17" height="1.20" fill="#130b30" opacity="0.9"/>
<rect x="201.74" y="359.34" width="3.67" height="1.20" fill="#090519" opacity="0.9"/>
<rect x="205.41" y="359.34" width="1.84" height="1.20" fill="#090519" opacity="0.9"/>
<rect x="210.10" y="359.34" width="1.75" height="1.20" fill="#0c071f" opacity="0.9"/>
<rect x="219.10" y="359.34" width="3.93" height="1.20" fill="#140b32" opacity="0.9"/>
<rect x="231.07" y="359.34" width="1.90" height="1.20" fill="#0f0825" opacity="0.9"/>
<rect x="232.97" y="359.34" width="3.85" height="1.20" fill="#150c35" opacity="0.9"/>
<rect x="238.88" y="359.34" width="3.23" height="1.20" fill="#0c071f" opacity="0.9"/>
<rect x="244.45" y="359.34" width="3.41" height="1.20" fill="#140b31" opacity="0.9"/>
<rect x="249.60" y="359.34" width="3.25" height="1.20" fill="#0c0720" opacity="0.9"/>
<rect x="261.18" y="359.34" width="3.65" height="1.20" fill="#0c0721" opacity="0.9"/>
<rect x="264.83" y="359.34" width="3.91" height="1.20" fill="#0d0721" opacity="0.9"/>
<rect x="272.23" y="359.34" width="1.37" height="1.20" fill="#0a061a" opacity="0.9"/>
<rect x="193.63" y="360.67" width="3.83" height="1.20" fill="#100928" opacity="0.9"/>
<rect x="201.19" y="360.67" width="3.93" height="1.20" fill="#0b061e" opacity="0.9"/>
<rect x="205.12" y="360.67" width="1.50" height="1.20" fill="#100929" opacity="0.9"/>
<rect x="211.61" y="360.67" width="3.30" height="1.20" fill="#100929" opacity="0.9"/>
<rect x="224.98" y="360.67" width="2.62" height="1.20" fill="#140b31" opacity="0.9"/>
<rect x="230.33" y="360.67" width="1.51" height="1.20" fill="#0a061c" opacity="0.9"/>
<rect x="231.83" y="360.67" width="3.29" height="1.20" fill="#0d0722" opacity="0.9"/>
<rect x="244.43" y="360.67" width="1.90" height="1.20" fill="#0b061e" opacity="0.9"/>
<rect x="246.34" y="360.67" width="3.99" height="1.20" fill="#100928" opacity="0.9"/>
<rect x="258.52" y="360.67" width="3.66" height="1.20" fill="#120a2d" opacity="0.9"/>
<rect x="270.96" y="360.67" width="1.55" height="1.20" fill="#10092a" opacity="0.9"/>
<rect x="190.03" y="362.01" width="1.70" height="1.20" fill="#120a2d" opacity="0.9"/>
<rect x="194.47" y="362.01" width="3.74" height="1.20" fill="#150c35" opacity="0.9"/>
<rect x="208.48" y="362.01" width="2.98" height="1.20" fill="#120a2c" opacity="0.9"/>
<rect x="211.47" y="362.01" width="3.77" height="1.20" fill="#140b31" opacity="0.9"/>
<rect x="229.08" y="362.01" width="2.55" height="1.20" fill="#130b30" opacity="0.9"/>
<rect x="231.63" y="362.01" width="1.50" height="1.20" fill="#0a061b" opacity="0.9"/>
<rect x="241.17" y="362.01" width="2.01" height="1.20" fill="#100928" opacity="0.9"/>
<rect x="254.12" y="362.01" width="3.57" height="1.20" fill="#090519" opacity="0.9"/>
<rect x="257.69" y="362.01" width="1.82" height="1.20" fill="#0f0825" opacity="0.9"/>
<rect x="265.31" y="362.01" width="3.78" height="1.20" fill="#0e0825" opacity="0.9"/>
<rect x="193.15" y="363.34" width="2.53" height="1.20" fill="#150c33" opacity="0.9"/>
<rect x="200.33" y="363.34" width="1.54" height="1.20" fill="#0e0824" opacity="0.9"/>
<rect x="226.98" y="363.34" width="3.93" height="1.20" fill="#0a061b" opacity="0.9"/>
<rect x="236.62" y="363.34" width="2.91" height="1.20" fill="#0c0720" opacity="0.9"/>
<rect x="239.53" y="363.34" width="2.11" height="1.20" fill="#140b31" opacity="0.9"/>
<rect x="243.70" y="363.34" width="3.92" height="1.20" fill="#140b31" opacity="0.9"/>
<rect x="247.62" y="363.34" width="3.09" height="1.20" fill="#0f0826" opacity="0.9"/>
<rect x="262.22" y="363.34" width="2.26" height="1.20" fill="#0c071f" opacity="0.9"/>
<rect x="267.22" y="363.34" width="3.12" height="1.20" fill="#120a2d" opacity="0.9"/>
<rect x="270.34" y="363.34" width="3.26" height="1.20" fill="#0a061b" opacity="0.9"/>
<rect x="187.40" y="364.67" width="2.74" height="1.20" fill="#100929" opacity="0.9"/>
<rect x="192.06" y="364.67" width="2.06" height="1.20" fill="#150c34" opacity="0.9"/>
<rect x="203.97" y="364.67" width="3.16" height="1.20" fill="#100928" opacity="0.9"/>
<rect x="214.93" y="364.67" width="2.60" height="1.20" fill="#0e0825" opacity="0.9"/>
<rect x="223.46" y="364.67" width="3.87" height="1.20" fill="#0d0721" opacity="0.9"/>
<rect x="239.80" y="364.67" width="2.67" height="1.20" fill="#0e0825" opacity="0.9"/>
<rect x="242.47" y="364.67" width="2.27" height="1.20" fill="#0a061c" opacity="0.9"/>
<rect x="244.73" y="364.67" width="2.70" height="1.20" fill="#0b061d" opacity="0.9"/>
<rect x="263.69" y="364.67" width="3.55" height="1.20" fill="#130b30" opacity="0.9"/>
<rect x="269.48" y="364.67" width="3.43" height="1.20" fill="#0f0826" opacity="0.9"/>
<rect x="187.40" y="366.01" width="2.31" height="1.20" fill="#0a061a" opacity="0.9"/>
<rect x="189.71" y="366.01" width="2.25" height="1.20" fill="#110a2b" opacity="0.9"/>
<rect x="212.06" y="366.01" width="3.31" height="1.20" fill="#100929" opacity="0.9"/>
<rect x="215.37" y="366.01" width="3.32" height="1.20" fill="#150c33" opacity="0.9"/>
<rect x="224.72" y="366.01" width="2.19" height="1.20" fill="#100928" opacity="0.9"/>
<rect x="226.91" y="366.01" width="3.90" height="1.20" fill="#0f0826" opacity="0.9"/>
<rect x="230.80" y="366.01" width="2.54" height="1.20" fill="#130b30" opacity="0.9"/>
<rect x="236.31" y="366.01" width="3.24" height="1.20" fill="#0f0826" opacity="0.9"/>
<rect x="239.55" y="366.01" width="3.35" height="1.20" fill="#0d0823" opacity="0.9"/>
<rect x="250.41" y="366.01" width="3.48" height="1.20" fill="#0a061c" opacity="0.9"/>
<rect x="253.89" y="366.01" width="3.62" height="1.20" fill="#100928" opacity="0.9"/>
<rect x="269.95" y="366.01" width="3.58" height="1.20" fill="#0c0720" opacity="0.9"/>
<rect x="194.57" y="367.34" width="3.30" height="1.20" fill="#120a2c" opacity="0.9"/>
<rect x="202.81" y="367.34" width="3.27" height="1.20" fill="#0f0927" opacity="0.9"/>
<rect x="207.78" y="367.34" width="1.56" height="1.20" fill="#0b061d" opacity="0.9"/>
<rect x="212.08" y="367.34" width="2.95" height="1.20" fill="#090519" opacity="0.9"/>
<rect x="221.65" y="367.34" width="3.87" height="1.20" fill="#0d0722" opacity="0.9"/>
<rect x="225.52" y="367.34" width="2.91" height="1.20" fill="#0a061b" opacity="0.9"/>
<rect x="228.43" y="367.34" width="2.69" height="1.20" fill="#0a061b" opacity="0.9"/>
<rect x="242.87" y="367.34" width="1.74" height="1.20" fill="#100929" opacity="0.9"/>
<rect x="244.61" y="367.34" width="1.86" height="1.20" fill="#120a2e" opacity="0.9"/>
<rect x="246.47" y="367.34" width="3.34" height="1.20" fill="#0f0927" opacity="0.9"/>
<rect x="256.68" y="367.34" width="1.91" height="1.20" fill="#150c33" opacity="0.9"/>
<rect x="258.59" y="367.34" width="3.70" height="1.20" fill="#100929" opacity="0.9"/>
<rect x="262.29" y="367.34" width="3.04" height="1.20" fill="#0f0927" opacity="0.9"/>
<rect x="265.33" y="367.34" width="2.39" height="1.20" fill="#0e0825" opacity="0.9"/>
<rect x="269.91" y="367.34" width="2.66" height="1.20" fill="#150c33" opacity="0.9"/>
<rect x="272.56" y="367.34" width="1.04" height="1.20" fill="#0d0721" opacity="0.9"/>
<rect x="193.90" y="368.67" width="2.37" height="1.20" fill="#0d0722" opacity="0.9"/>
<rect x="196.27" y="368.67" width="3.84" height="1.20" fill="#130b30" opacity="0.9"/>
<rect x="208.53" y="368.67" width="3.63" height="1.20" fill="#120a2d" opacity="0.9"/>
<rect x="212.16" y="368.67" width="2.27" height="1.20" fill="#0a061c" opacity="0.9"/>
<rect x="214.43" y="368.67" width="2.99" height="1.20" fill="#0c0720" opacity="0.9"/>
<rect x="225.44" y="368.67" width="2.08" height="1.20" fill="#120a2d" opacity="0.9"/>
<rect x="230.74" y="368.67" width="2.86" height="1.20" fill="#0c071f" opacity="0.9"/>
<rect x="233.60" y="368.67" width="1.95" height="1.20" fill="#0c071f" opacity="0.9"/>
<rect x="237.94" y="368.67" width="2.95" height="1.20" fill="#0c071f" opacity="0.9"/>
<rect x="248.82" y="368.67" width="2.53" height="1.20" fill="#090518" opacity="0.9"/>
<rect x="254.37" y="368.67" width="2.93" height="1.20" fill="#0b061c" opacity="0.9"/>
<rect x="257.31" y="368.67" width="2.29" height="1.20" fill="#10092a" opacity="0.9"/>
<rect x="197.87" y="370.00" width="1.77" height="1.20" fill="#100928" opacity="0.9"/>
<rect x="204.99" y="370.00" width="1.86" height="1.20" fill="#140c32" opacity="0.9"/>
<rect x="208.51" y="370.00" width="2.56" height="1.20" fill="#0f0926" opacity="0.9"/>
<rect x="214.30" y="370.00" width="3.85" height="1.20" fill="#130b2f" opacity="0.9"/>
<rect x="221.49" y="370.00" width="3.85" height="1.20" fill="#090519" opacity="0.9"/>
<rect x="231.12" y="370.00" width="3.65" height="1.20" fill="#120a2d" opacity="0.9"/>
<rect x="234.77" y="370.00" width="2.33" height="1.20" fill="#110a2b" opacity="0.9"/>
<rect x="239.59" y="370.00" width="2.51" height="1.20" fill="#0e0823" opacity="0.9"/>
<rect x="247.87" y="370.00" width="3.51" height="1.20" fill="#0d0721" opacity="0.9"/>
<rect x="251.38" y="370.00" width="2.37" height="1.20" fill="#0b061e" opacity="0.9"/>
<rect x="257.52" y="370.00" width="2.52" height="1.20" fill="#120a2d" opacity="0.9"/>
<rect x="260.04" y="370.00" width="3.96" height="1.20" fill="#0e0823" opacity="0.9"/>
<rect x="268.84" y="370.00" width="1.84" height="1.20" fill="#130b2f" opacity="0.9"/>
<rect x="270.68" y="370.00" width="2.08" height="1.20" fill="#0b061d" opacity="0.9"/>
<rect x="272.76" y="370.00" width="0.84" height="1.20" fill="#150c34" opacity="0.9"/>
<rect x="197.91" y="371.34" width="1.55" height="1.20" fill="#090519" opacity="0.9"/>
<rect x="201.40" y="371.34" width="3.23" height="1.20" fill="#0d0822" opacity="0.9"/>
<rect x="215.61" y="371.34" width="2.11" height="1.20" fill="#100927" opacity="0.9"/>
<rect x="217.72" y="371.34" width="2.47" height="1.20" fill="#150c33" opacity="0.9"/>
<rect x="221.94" y="371.34" width="1.83" height="1.20" fill="#090518" opacity="0.9"/>
<rect x="227.56" y="371.34" width="2.07" height="1.20" fill="#0e0824" opacity="0.9"/>
<rect x="229.63" y="371.34" width="1.83" height="1.20" fill="#0b061d" opacity="0.9"/>
<rect x="231.46" y="371.34" width="2.21" height="1.20" fill="#100929" opacity="0.9"/>
<rect x="235.44" y="371.34" width="3.76" height="1.20" fill="#140c33" opacity="0.9"/>
<rect x="239.20" y="371.34" width="2.30" height="1.20" fill="#0f0826" opacity="0.9"/>
<rect x="245.35" y="371.34" width="2.67" height="1.20" fill="#100929" opacity="0.9"/>
<rect x="248.01" y="371.34" width="2.50" height="1.20" fill="#120b2e" opacity="0.9"/>
<rect x="259.57" y="371.34" width="2.74" height="1.20" fill="#090518" opacity="0.9"/>
<rect x="262.31" y="371.34" width="3.27" height="1.20" fill="#110a2c" opacity="0.9"/>
<rect x="267.82" y="371.34" width="3.42" height="1.20" fill="#0e0824" opacity="0.9"/>
<rect x="187.40" y="372.67" width="3.85" height="1.20" fill="#0a061c" opacity="0.9"/>
<rect x="191.25" y="372.67" width="2.61" height="1.20" fill="#100928" opacity="0.9"/>
<rect x="202.96" y="372.67" width="1.98" height="1.20" fill="#110a2b" opacity="0.9"/>
<rect x="204.94" y="372.67" width="3.37" height="1.20" fill="#0d0722" opacity="0.9"/>
<rect x="208.31" y="372.67" width="1.70" height="1.20" fill="#100929" opacity="0.9"/>
<rect x="215.81" y="372.67" width="2.87" height="1.20" fill="#0b061e" opacity="0.9"/>
<rect x="218.68" y="372.67" width="2.44" height="1.20" fill="#150c34" opacity="0.9"/>
<rect x="229.07" y="372.67" width="3.96" height="1.20" fill="#0b061d" opacity="0.9"/>
<rect x="233.03" y="372.67" width="2.60" height="1.20" fill="#140b31" opacity="0.9"/>
<rect x="241.07" y="372.67" width="2.39" height="1.20" fill="#0f0926" opacity="0.9"/>
<rect x="243.46" y="372.67" width="2.95" height="1.20" fill="#0e0823" opacity="0.9"/>
<rect x="250.15" y="372.67" width="2.11" height="1.20" fill="#0b061d" opacity="0.9"/>
<rect x="255.81" y="372.67" width="1.57" height="1.20" fill="#090519" opacity="0.9"/>
<rect x="263.80" y="372.67" width="3.05" height="1.20" fill="#0a051a" opacity="0.9"/>
<rect x="272.51" y="372.67" width="1.09" height="1.20" fill="#130b2f" opacity="0.9"/>
<rect x="187.40" y="374.00" width="2.53" height="1.20" fill="#100928" opacity="0.9"/>
<rect x="193.58" y="374.00" width="3.86" height="1.20" fill="#130b2f" opacity="0.9"/>
<rect x="199.34" y="374.00" width="3.78" height="1.20" fill="#120a2d" opacity="0.9"/>
<rect x="203.12" y="374.00" width="2.03" height="1.20" fill="#090519" opacity="0.9"/>
<rect x="205.15" y="374.00" width="3.25" height="1.20" fill="#100928" opacity="0.9"/>
<rect x="208.39" y="374.00" width="2.68" height="1.20" fill="#100928" opacity="0.9"/>
<rect x="223.04" y="374.00" width="1.88" height="1.20" fill="#0f0826" opacity="0.9"/>
<rect x="227.63" y="374.00" width="2.50" height="1.20" fill="#120a2e" opacity="0.9"/>
<rect x="230.13" y="374.00" width="3.09" height="1.20" fill="#130b31" opacity="0.9"/>
<rect x="233.22" y="374.00" width="2.28" height="1.20" fill="#0a061b" opacity="0.9"/>
<rect x="237.08" y="374.00" width="1.57" height="1.20" fill="#120b2e" opacity="0.9"/>
<rect x="238.65" y="374.00" width="3.26" height="1.20" fill="#0d0822" opacity="0.9"/>
<rect x="260.36" y="374.00" width="3.02" height="1.20" fill="#150c35" opacity="0.9"/>
<rect x="270.86" y="374.00" width="2.74" height="1.20" fill="#0e0823" opacity="0.9"/>
<rect x="189.44" y="375.34" width="3.07" height="1.20" fill="#0b061e" opacity="0.9"/>
<rect x="202.08" y="375.34" width="2.69" height="1.20" fill="#110a2a" opacity="0.9"/>
<rect x="207.41" y="375.34" width="3.32" height="1.20" fill="#0e0824" opacity="0.9"/>
<rect x="214.50" y="375.34" width="3.52" height="1.20" fill="#0e0824" opacity="0.9"/>
<rect x="220.62" y="375.34" width="2.62" height="1.20" fill="#140c32" opacity="0.9"/>
<rect x="223.24" y="375.34" width="2.06" height="1.20" fill="#0b071e" opacity="0.9"/>
<rect x="229.87" y="375.34" width="3.25" height="1.20" fill="#130b30" opacity="0.9"/>
<rect x="233.12" y="375.34" width="3.76" height="1.20" fill="#130b30" opacity="0.9"/>
<rect x="246.76" y="375.34" width="1.88" height="1.20" fill="#110a2a" opacity="0.9"/>
<rect x="248.64" y="375.34" width="1.74" height="1.20" fill="#0e0825" opacity="0.9"/>
<rect x="258.26" y="375.34" width="2.86" height="1.20" fill="#140c33" opacity="0.9"/>
<rect x="264.61" y="375.34" width="2.50" height="1.20" fill="#130b2f" opacity="0.9"/>
<rect x="267.10" y="375.34" width="3.54" height="1.20" fill="#090518" opacity="0.9"/>
<rect x="270.64" y="375.34" width="2.34" height="1.20" fill="#130b2f" opacity="0.9"/>
<rect x="190.90" y="376.67" width="3.08" height="1.20" fill="#130b30" opacity="0.9"/>
<rect x="209.74" y="376.67" width="2.36" height="1.20" fill="#100928" opacity="0.9"/>
<rect x="227.12" y="376.67" width="3.71" height="1.20" fill="#0a061c" opacity="0.9"/>
<rect x="236.25" y="376.67" width="1.99" height="1.20" fill="#0b071e" opacity="0.9"/>
<rect x="243.00" y="376.67" width="3.40" height="1.20" fill="#110a2b" opacity="0.9"/>
<rect x="246.40" y="376.67" width="3.53" height="1.20" fill="#10092a" opacity="0.9"/>
<rect x="251.63" y="376.67" width="2.11" height="1.20" fill="#090519" opacity="0.9"/>
<rect x="255.31" y="376.67" width="3.33" height="1.20" fill="#0f0926" opacity="0.9"/>
<rect x="258.64" y="376.67" width="2.34" height="1.20" fill="#110a2b" opacity="0.9"/>
<rect x="204.12" y="378.00" width="2.98" height="1.20" fill="#120a2d" opacity="0.9"/>
<rect x="210.96" y="378.00" width="2.65" height="1.20" fill="#0b061e" opacity="0.9"/>
<rect x="223.91" y="378.00" width="3.30" height="1.20" fill="#140b31" opacity="0.9"/>
<rect x="230.48" y="378.00" width="3.28" height="1.20" fill="#0a061a" opacity="0.9"/>
<rect x="233.76" y="378.00" width="3.09" height="1.20" fill="#120a2c" opacity="0.9"/>
<rect x="236.85" y="378.00" width="2.02" height="1.20" fill="#150c34" opacity="0.9"/>
<rect x="238.87" y="378.00" width="1.57" height="1.20" fill="#0e0824" opacity="0.9"/>
<rect x="240.44" y="378.00" width="3.27" height="1.20" fill="#0a061c" opacity="0.9"/>
<rect x="249.60" y="378.00" width="1.51" height="1.20" fill="#11092a" opacity="0.9"/>
<rect x="252.70" y="378.00" width="2.33" height="1.20" fill="#150c33" opacity="0.9"/>
<rect x="259.94" y="378.00" width="3.72" height="1.20" fill="#110a2b" opacity="0.9"/>
<rect x="266.96" y="378.00" width="3.69" height="1.20" fill="#130b31" opacity="0.9"/>
<rect x="273.42" y="378.00" width="0.18" height="1.20" fill="#100929" opacity="0.9"/>
<rect x="187.40" y="379.33" width="3.76" height="1.20" fill="#0f0927" opacity="0.9"/>
<rect x="194.42" y="379.33" width="2.26" height="1.20" fill="#110a2b" opacity="0.9"/>
<rect x="196.67" y="379.33" width="2.07" height="1.20" fill="#0a061b" opacity="0.9"/>
<rect x="208.33" y="379.33" width="3.43" height="1.20" fill="#0b061c" opacity="0.9"/>
<rect x="215.82" y="379.33" width="3.44" height="1.20" fill="#0d0721" opacity="0.9"/>
<rect x="221.45" y="379.33" width="3.62" height="1.20" fill="#130b30" opacity="0.9"/>
<rect x="226.96" y="379.33" width="2.32" height="1.20" fill="#0b061d" opacity="0.9"/>
<rect x="232.60" y="379.33" width="1.92" height="1.20" fill="#0f0927" opacity="0.9"/>
<rect x="236.24" y="379.33" width="3.57" height="1.20" fill="#0e0823" opacity="0.9"/>
<rect x="239.80" y="379.33" width="3.74" height="1.20" fill="#090519" opacity="0.9"/>
<rect x="254.01" y="379.33" width="2.57" height="1.20" fill="#0e0824" opacity="0.9"/>
<rect x="258.40" y="379.33" width="3.38" height="1.20" fill="#120a2c" opacity="0.9"/>
<rect x="266.46" y="379.33" width="3.08" height="1.20" fill="#140c33" opacity="0.9"/>
<rect x="272.06" y="379.33" width="1.54" height="1.20" fill="#11092a" opacity="0.9"/>
<rect x="193.40" y="380.67" width="1.87" height="1.20" fill="#0b061e" opacity="0.9"/>
<rect x="200.65" y="380.67" width="2.46" height="1.20" fill="#0b061c" opacity="0.9"/>
<rect x="203.11" y="380.67" width="2.90" height="1.20" fill="#0c0720" opacity="0.9"/>
<rect x="209.68" y="380.67" width="3.84" height="1.20" fill="#110a2b" opacity="0.9"/>
<rect x="230.48" y="380.67" width="2.96" height="1.20" fill="#0a061a" opacity="0.9"/>
<rect x="240.65" y="380.67" width="3.98" height="1.20" fill="#130b30" opacity="0.9"/>
<rect x="244.63" y="380.67" width="1.75" height="1.20" fill="#150c33" opacity="0.9"/>
<rect x="246.38" y="380.67" width="2.67" height="1.20" fill="#0b071e" opacity="0.9"/>
<rect x="249.05" y="380.67" width="3.50" height="1.20" fill="#0b061d" opacity="0.9"/>
<rect x="258.36" y="380.67" width="2.22" height="1.20" fill="#100929" opacity="0.9"/>
<rect x="68.40" y="298.70" width="4.00" height="1.40" fill="#61197d" opacity="0.6"/>
<rect x="69.51" y="298.70" width="2.27" height="1.40" fill="#fdb47e"/>
<rect x="54.80" y="306.70" width="3.00" height="1.40" fill="#50127b" opacity="0.6"/>
<rect x="55.65" y="306.70" width="1.88" height="1.40" fill="#f67962"/>
<rect x="58.00" y="311.60" width="3.00" height="1.40" fill="#371161" opacity="0.6"/>
<rect x="58.88" y="311.60" width="1.83" height="1.40" fill="#c74072"/>
<rect x="92.85" y="320.60" width="3.50" height="1.40" fill="#371161" opacity="0.6"/>
<rect x="93.92" y="320.60" width="1.26" height="1.40" fill="#c74072"/>
<rect x="60.40" y="328.60" width="3.00" height="1.40" fill="#31115b" opacity="0.6"/>
<rect x="60.97" y="328.60" width="2.04" height="1.40" fill="#9f2f7d"/>
<rect x="73.70" y="328.60" width="4.00" height="1.40" fill="#371161" opacity="0.6"/>
<rect x="74.06" y="328.60" width="2.66" height="1.40" fill="#c74072"/>
<rect x="68.40" y="367.90" width="4.00" height="1.40" fill="#5b167c" opacity="0.6"/>
<rect x="69.08" y="367.90" width="2.06" height="1.40" fill="#fc9e70"/>
<rect x="57.10" y="296.70" width="3.29" height="1.27" fill="#31115b" opacity="0.6"/>
<rect x="81.05" y="336.68" width="5.12" height="1.27" fill="#31115b" opacity="0.6"/>
<rect x="80.56" y="330.02" width="5.71" height="1.27" fill="#31115b" opacity="0.6"/>
<rect x="94.21" y="312.69" width="4.69" height="1.27" fill="#31115b" opacity="0.6"/>
<rect x="25.64" y="328.69" width="6.76" height="1.27" fill="#31115b" opacity="0.6"/>
<rect x="69.95" y="310.03" width="3.22" height="1.27" fill="#31115b" opacity="0.6"/>
<rect x="108.00" y="289.70" width="2.22" height="1.20" fill="#fde6a9"/>
<rect x="110.22" y="289.70" width="4.32" height="1.20" fill="#fde5a8"/>
<rect x="114.54" y="289.70" width="4.11" height="1.20" fill="#fcf5b7"/>
<rect x="118.64" y="289.70" width="4.77" height="1.20" fill="#fde2a6"/>
<rect x="123.41" y="289.70" width="3.66" height="1.20" fill="#fcf8ba"/>
<rect x="127.07" y="289.70" width="3.27" height="1.20" fill="#fddb9f"/>
<rect x="130.34" y="289.70" width="4.24" height="1.20" fill="#fdd89c"/>
<rect x="134.58" y="289.70" width="5.27" height="1.20" fill="#fde7aa"/>
<rect x="139.85" y="289.70" width="3.59" height="1.20" fill="#fdeeb1"/>
<rect x="143.44" y="289.70" width="4.47" height="1.20" fill="#fdda9d"/>
<rect x="147.92" y="289.70" width="2.19" height="1.20" fill="#fcf7ba"/>
<rect x="150.11" y="289.70" width="6.86" height="1.20" fill="#fde4a8"/>
<rect x="156.97" y="289.70" width="0.03" height="1.20" fill="#fde9ac"/>
<rect x="106.00" y="290.90" width="3.44" height="1.20" fill="#982c7e"/>
<rect x="109.44" y="290.90" width="6.14" height="1.20" fill="#c33e73"/>
<rect x="115.59" y="290.90" width="2.32" height="1.20" fill="#c03c75"/>
<rect x="117.91" y="290.90" width="2.77" height="1.20" fill="#c53e73"/>
<rect x="120.67" y="290.90" width="2.21" height="1.20" fill="#862780"/>
<rect x="122.89" y="290.90" width="6.54" height="1.20" fill="#a2307d"/>
<rect x="129.43" y="290.90" width="4.60" height="1.20" fill="#ad337b"/>
<rect x="134.02" y="290.90" width="6.31" height="1.20" fill="#852680"/>
<rect x="140.33" y="290.90" width="6.31" height="1.20" fill="#ae347b"/>
<rect x="146.64" y="290.90" width="3.36" height="1.20" fill="#ba3978"/>
<rect x="110.00" y="292.10" width="3.55" height="1.20" fill="#fddfa3"/>
<rect x="113.55" y="292.10" width="4.76" height="1.20" fill="#fde9ac"/>
<rect x="118.31" y="292.10" width="6.29" height="1.20" fill="#fcf8ba"/>
<rect x="124.60" y="292.10" width="5.58" height="1.20" fill="#fdedb0"/>
<rect x="130.18" y="292.10" width="5.76" height="1.20" fill="#fdedb0"/>
<rect x="135.94" y="292.10" width="5.08" height="1.20" fill="#fdd99d"/>
<rect x="141.01" y="292.10" width="4.41" height="1.20" fill="#fde3a6"/>
<rect x="145.42" y="292.10" width="4.58" height="1.20" fill="#fddca0"/>
<rect x="104.00" y="293.30" width="3.54" height="1.20" fill="#c84071"/>
<rect x="107.54" y="293.30" width="6.77" height="1.20" fill="#af347b"/>
<rect x="114.31" y="293.30" width="5.84" height="1.20" fill="#701f7f"/>
<rect x="120.15" y="293.30" width="5.00" height="1.20" fill="#6a1c7e"/>
<rect x="125.15" y="293.30" width="5.69" height="1.20" fill="#c63f72"/>
<rect x="130.84" y="293.30" width="4.41" height="1.20" fill="#b83879"/>
<rect x="135.25" y="293.30" width="4.07" height="1.20" fill="#7e2481"/>
<rect x="139.32" y="293.30" width="0.68" height="1.20" fill="#c23d74"/>
<rect x="108.00" y="294.50" width="6.01" height="1.20" fill="#fed094"/>
<rect x="114.01" y="294.50" width="3.52" height="1.20" fill="#fece93"/>
<rect x="117.53" y="294.50" width="4.34" height="1.20" fill="#fec78c"/>
<rect x="121.87" y="294.50" width="2.07" height="1.20" fill="#fdd99d"/>
<rect x="123.94" y="294.50" width="6.21" height="1.20" fill="#fddb9f"/>
<rect x="130.15" y="294.50" width="7.00" height="1.20" fill="#fec78b"/>
<rect x="137.14" y="294.50" width="3.13" height="1.20" fill="#fcfbbe"/>
<rect x="140.27" y="294.50" width="4.73" height="1.20" fill="#fec78c"/>
<rect x="112.00" y="295.70" width="3.65" height="1.20" fill="#f67c62"/>
<rect x="115.65" y="295.70" width="4.80" height="1.20" fill="#f57862"/>
<rect x="120.44" y="295.70" width="6.26" height="1.20" fill="#fc9e6f"/>
<rect x="126.71" y="295.70" width="4.74" height="1.20" fill="#e65464"/>
<rect x="131.44" y="295.70" width="2.64" height="1.20" fill="#f67b62"/>
<rect x="134.09" y="295.70" width="6.15" height="1.20" fill="#ce436f"/>
<rect x="140.24" y="295.70" width="2.46" height="1.20" fill="#fc946a"/>
<rect x="142.69" y="295.70" width="2.34" height="1.20" fill="#fda876"/>
<rect x="145.04" y="295.70" width="2.96" height="1.20" fill="#c94171"/>
<rect x="118.00" y="296.90" width="3.61" height="1.20" fill="#832681"/>
<rect x="121.61" y="296.90" width="5.68" height="1.20" fill="#7e2481"/>
<rect x="127.29" y="296.90" width="4.00" height="1.20" fill="#60197d"/>
<rect x="131.29" y="296.90" width="3.33" height="1.20" fill="#5f187d"/>
<rect x="134.62" y="296.90" width="4.88" height="1.20" fill="#5b177c"/>
<rect x="139.50" y="296.90" width="0.50" height="1.20" fill="#5b167c"/>
<rect x="100.10" y="362.30" width="30.00" height="1.00" fill="#b5367a" opacity="0.55"/>
<rect x="160.00" y="294.00" width="3.50" height="1.27" fill="#371161" opacity="0.6"/>
<rect x="160.88" y="294.00" width="1.89" height="1.27" fill="#c74072"/>
<rect x="170.00" y="297.00" width="3.50" height="1.27" fill="#31115b" opacity="0.6"/>
<rect x="170.75" y="297.00" width="1.24" height="1.27" fill="#752180"/>
<rect x="126.00" y="374.00" width="3.50" height="1.27" fill="#31115b" opacity="0.6"/>
<rect x="127.45" y="374.00" width="1.57" height="1.27" fill="#b5367a"/>
<rect x="150.00" y="378.00" width="3.50" height="1.27" fill="#31115b" opacity="0.6"/>
<rect x="150.40" y="378.00" width="2.16" height="1.27" fill="#752180"/>
<rect x="178.00" y="304.00" width="3.50" height="1.27" fill="#31115b" opacity="0.6"/>
<rect x="187.4" y="288.7" width="86.20000000000002" height="7.2" fill="#070515"/>
<rect x="187.4" y="295.9" width="86.2" height="1.3" fill="#cdc3a0"/>
<rect x="192.14" y="297.20" width="9.02" height="0.95" fill="#5b177c" opacity="0.6"/>
<rect x="193.09" y="297.20" width="5.67" height="0.95" fill="#fc9f70"/>
<rect x="213.62" y="297.20" width="16.57" height="0.95" fill="#62197d" opacity="0.6"/>
<rect x="215.61" y="297.20" width="9.38" height="0.95" fill="#fec589"/>
<rect x="235.01" y="297.20" width="13.32" height="0.95" fill="#481273" opacity="0.6"/>
<rect x="241.26" y="297.20" width="4.67" height="0.95" fill="#ec6163"/>
<rect x="252.81" y="297.20" width="16.87" height="0.95" fill="#62197d" opacity="0.6"/>
<rect x="256.02" y="297.20" width="7.14" height="0.95" fill="#fec387"/>
<rect x="190.26" y="298.25" width="18.26" height="0.95" fill="#4d1278" opacity="0.6"/>
<rect x="194.30" y="298.25" width="12.67" height="0.95" fill="#f16f62"/>
<rect x="214.98" y="298.25" width="13.28" height="0.95" fill="#50127b" opacity="0.6"/>
<rect x="220.64" y="298.25" width="5.99" height="0.95" fill="#f57962"/>
<rect x="249.11" y="298.25" width="8.55" height="0.95" fill="#4b1276" opacity="0.6"/>
<rect x="251.50" y="298.25" width="4.60" height="0.95" fill="#ef6963"/>
<rect x="270.70" y="298.25" width="2.90" height="0.95" fill="#3b1166" opacity="0.6"/>
<rect x="271.98" y="298.25" width="1.22" height="0.95" fill="#d4476c"/>
<rect x="191.69" y="299.30" width="14.57" height="0.95" fill="#391163" opacity="0.6"/>
<rect x="196.32" y="299.30" width="8.62" height="0.95" fill="#cd436f"/>
<rect x="215.44" y="299.30" width="16.28" height="0.95" fill="#62197d" opacity="0.6"/>
<rect x="217.53" y="299.30" width="10.79" height="0.95" fill="#febd84"/>
<rect x="246.49" y="299.30" width="19.64" height="0.95" fill="#5d177d" opacity="0.6"/>
<rect x="249.57" y="299.30" width="9.36" height="0.95" fill="#fda675"/>
<rect x="191.77" y="300.35" width="9.15" height="0.95" fill="#59167c" opacity="0.6"/>
<rect x="193.08" y="300.35" width="3.67" height="0.95" fill="#fc986c"/>
<rect x="214.82" y="300.35" width="7.34" height="0.95" fill="#62197d" opacity="0.6"/>
<rect x="217.07" y="300.35" width="3.34" height="0.95" fill="#fdb780"/>
<rect x="229.18" y="300.35" width="18.89" height="0.95" fill="#4e127a" opacity="0.6"/>
<rect x="236.62" y="300.35" width="6.63" height="0.95" fill="#f47562"/>
<rect x="255.62" y="300.35" width="7.95" height="0.95" fill="#62197d" opacity="0.6"/>
<rect x="257.25" y="300.35" width="3.72" height="0.95" fill="#fde2a5"/>
<rect x="269.80" y="300.35" width="3.80" height="0.95" fill="#33115d" opacity="0.6"/>
<rect x="270.48" y="300.35" width="2.42" height="0.95" fill="#c03c75"/>
<rect x="189.17" y="301.40" width="18.57" height="0.95" fill="#62197d" opacity="0.6"/>
<rect x="194.07" y="301.40" width="8.55" height="0.95" fill="#fdda9e"/>
<rect x="214.46" y="301.40" width="10.69" height="0.95" fill="#33115c" opacity="0.6"/>
<rect x="215.47" y="301.40" width="6.38" height="0.95" fill="#be3b76"/>
<rect x="242.65" y="301.40" width="18.21" height="0.95" fill="#55147c" opacity="0.6"/>
<rect x="243.85" y="301.40" width="12.59" height="0.95" fill="#fb8a63"/>
<rect x="262.86" y="301.40" width="10.74" height="0.95" fill="#54147c" opacity="0.6"/>
<rect x="265.80" y="301.40" width="6.58" height="0.95" fill="#fb8962"/>
<rect x="191.61" y="302.45" width="8.11" height="0.95" fill="#4f127a" opacity="0.6"/>
<rect x="195.12" y="302.45" width="2.89" height="0.95" fill="#f47562"/>
<rect x="213.02" y="302.45" width="7.25" height="0.95" fill="#371161" opacity="0.6"/>
<rect x="215.09" y="302.45" width="3.46" height="0.95" fill="#c84071"/>
<rect x="223.77" y="302.45" width="7.32" height="0.95" fill="#3a1164" opacity="0.6"/>
<rect x="224.85" y="302.45" width="2.59" height="0.95" fill="#cf446e"/>
<rect x="235.85" y="302.45" width="13.88" height="0.95" fill="#62197d" opacity="0.6"/>
<rect x="242.15" y="302.45" width="5.74" height="0.95" fill="#fddb9e"/>
<rect x="253.63" y="302.45" width="10.64" height="0.95" fill="#3a1164" opacity="0.6"/>
<rect x="257.67" y="302.45" width="4.45" height="0.95" fill="#d0456e"/>
<rect x="269.55" y="302.45" width="4.05" height="0.95" fill="#31115b" opacity="0.6"/>
<rect x="270.55" y="302.45" width="2.74" height="0.95" fill="#b83779"/>
<rect x="208.97" y="303.50" width="7.89" height="0.95" fill="#391163" opacity="0.6"/>
<rect x="210.69" y="303.50" width="3.71" height="0.95" fill="#cc436f"/>
<rect x="230.62" y="303.50" width="6.54" height="0.95" fill="#371161" opacity="0.6"/>
<rect x="232.65" y="303.50" width="3.49" height="0.95" fill="#c84071"/>
<rect x="242.24" y="303.50" width="14.52" height="0.95" fill="#31115b" opacity="0.6"/>
<rect x="248.01" y="303.50" width="5.63" height="0.95" fill="#8a2880"/>
<rect x="270.77" y="303.50" width="2.83" height="0.95" fill="#61197d" opacity="0.6"/>
<rect x="271.52" y="303.50" width="1.78" height="0.95" fill="#fdb37d"/>
<rect x="189.07" y="304.55" width="6.39" height="0.95" fill="#451270" opacity="0.6"/>
<rect x="192.20" y="304.55" width="2.32" height="0.95" fill="#e85764"/>
<rect x="212.68" y="304.55" width="10.65" height="0.95" fill="#31115b" opacity="0.6"/>
<rect x="215.34" y="304.55" width="4.07" height="0.95" fill="#832681"/>
<rect x="228.96" y="304.55" width="11.19" height="0.95" fill="#62197d" opacity="0.6"/>
<rect x="232.63" y="304.55" width="6.31" height="0.95" fill="#fcf0b2"/>
<rect x="242.80" y="304.55" width="7.66" height="0.95" fill="#31115b" opacity="0.6"/>
<rect x="245.87" y="304.55" width="3.59" height="0.95" fill="#ab337b"/>
<rect x="257.84" y="304.55" width="12.30" height="0.95" fill="#3e1169" opacity="0.6"/>
<rect x="260.03" y="304.55" width="6.65" height="0.95" fill="#da4a69"/>
<rect x="214.29" y="305.60" width="14.28" height="0.95" fill="#31115b" opacity="0.6"/>
<rect x="216.65" y="305.60" width="6.58" height="0.95" fill="#b6367a"/>
<rect x="232.09" y="305.60" width="10.19" height="0.95" fill="#31115b" opacity="0.6"/>
<rect x="233.92" y="305.60" width="3.84" height="0.95" fill="#982d7e"/>
<rect x="249.05" y="305.60" width="7.38" height="0.95" fill="#31115b" opacity="0.6"/>
<rect x="251.45" y="305.60" width="4.36" height="0.95" fill="#862780"/>
<rect x="271.86" y="305.60" width="1.74" height="0.95" fill="#3f1169" opacity="0.6"/>
<rect x="199.55" y="306.65" width="6.00" height="0.95" fill="#31115b" opacity="0.6"/>
<rect x="200.37" y="306.65" width="2.44" height="0.95" fill="#9f2f7d"/>
<rect x="222.74" y="306.65" width="11.90" height="0.95" fill="#3a1165" opacity="0.6"/>
<rect x="224.62" y="306.65" width="8.27" height="0.95" fill="#d1456d"/>
<rect x="238.23" y="306.65" width="7.82" height="0.95" fill="#31115b" opacity="0.6"/>
<rect x="239.59" y="306.65" width="3.85" height="0.95" fill="#982c7e"/>
<rect x="250.76" y="306.65" width="9.71" height="0.95" fill="#43126e" opacity="0.6"/>
<rect x="253.74" y="306.65" width="5.42" height="0.95" fill="#e55164"/>
<rect x="201.30" y="307.70" width="6.79" height="0.95" fill="#3f116a" opacity="0.6"/>
<rect x="202.81" y="307.70" width="3.46" height="0.95" fill="#dd4c68"/>
<rect x="213.53" y="307.70" width="15.35" height="0.95" fill="#481273" opacity="0.6"/>
<rect x="220.79" y="307.70" width="5.67" height="0.95" fill="#ec6063"/>
<rect x="251.96" y="307.70" width="14.51" height="0.95" fill="#61197d" opacity="0.6"/>
<rect x="256.55" y="307.70" width="5.24" height="0.95" fill="#fdb37d"/>
<rect x="272.83" y="307.70" width="0.77" height="0.95" fill="#31115b" opacity="0.6"/>
<rect x="190.40" y="308.75" width="15.79" height="0.95" fill="#31115b" opacity="0.6"/>
<rect x="191.97" y="308.75" width="10.16" height="0.95" fill="#ad347b"/>
<rect x="221.48" y="308.75" width="12.87" height="0.95" fill="#33115d" opacity="0.6"/>
<rect x="225.38" y="308.75" width="7.80" height="0.95" fill="#c03c75"/>
<rect x="258.16" y="308.75" width="12.07" height="0.95" fill="#461271" opacity="0.6"/>
<rect x="261.64" y="308.75" width="6.89" height="0.95" fill="#e95b63"/>
<rect x="192.22" y="309.80" width="7.14" height="0.95" fill="#31115b" opacity="0.6"/>
<rect x="194.24" y="309.80" width="2.77" height="0.95" fill="#882780"/>
<rect x="204.01" y="309.80" width="8.75" height="0.95" fill="#31115b" opacity="0.6"/>
<rect x="207.71" y="309.80" width="3.52" height="0.95" fill="#8e297f"/>
<rect x="227.58" y="309.80" width="14.49" height="0.95" fill="#62197d" opacity="0.6"/>
<rect x="231.32" y="309.80" width="6.57" height="0.95" fill="#fecc90"/>
<rect x="248.81" y="309.80" width="10.86" height="0.95" fill="#50127b" opacity="0.6"/>
<rect x="251.12" y="309.80" width="7.60" height="0.95" fill="#f67a62"/>
<rect x="231.78" y="310.85" width="8.87" height="0.95" fill="#62197d" opacity="0.6"/>
<rect x="233.08" y="310.85" width="6.14" height="0.95" fill="#fddc9f"/>
<rect x="259.15" y="310.85" width="11.84" height="0.95" fill="#3a1164" opacity="0.6"/>
<rect x="262.76" y="310.85" width="6.16" height="0.95" fill="#cf446e"/>
<rect x="193.71" y="311.90" width="9.57" height="0.95" fill="#31115b" opacity="0.6"/>
<rect x="195.44" y="311.90" width="4.95" height="0.95" fill="#9b2d7e"/>
<rect x="241.07" y="311.90" width="5.51" height="0.95" fill="#62197d" opacity="0.6"/>
<rect x="241.87" y="311.90" width="2.71" height="0.95" fill="#fddfa3"/>
<rect x="249.86" y="311.90" width="10.63" height="0.95" fill="#51137b" opacity="0.6"/>
<rect x="254.23" y="311.90" width="5.13" height="0.95" fill="#f87f61"/>
<rect x="268.67" y="311.90" width="4.93" height="0.95" fill="#31115b" opacity="0.6"/>
<rect x="269.56" y="311.90" width="3.38" height="0.95" fill="#912a7f"/>
<rect x="189.88" y="312.95" width="6.37" height="0.95" fill="#62197d" opacity="0.6"/>
<rect x="191.10" y="312.95" width="3.35" height="0.95" fill="#fcefb2"/>
<rect x="224.65" y="312.95" width="9.67" height="0.95" fill="#31115b" opacity="0.6"/>
<rect x="226.82" y="312.95" width="3.69" height="0.95" fill="#912a7f"/>
<rect x="258.94" y="312.95" width="13.26" height="0.95" fill="#31115b" opacity="0.6"/>
<rect x="262.53" y="312.95" width="8.27" height="0.95" fill="#6e1e7f"/>
<rect x="189.67" y="314.00" width="13.75" height="0.95" fill="#5b177c" opacity="0.6"/>
<rect x="194.50" y="314.00" width="6.55" height="0.95" fill="#fc9f71"/>
<rect x="208.22" y="314.00" width="15.24" height="0.95" fill="#33115c" opacity="0.6"/>
<rect x="211.78" y="314.00" width="9.46" height="0.95" fill="#be3b76"/>
<rect x="262.47" y="314.00" width="10.69" height="0.95" fill="#481274" opacity="0.6"/>
<rect x="265.39" y="314.00" width="6.22" height="0.95" fill="#ec6263"/>
<rect x="188.02" y="315.05" width="8.88" height="0.95" fill="#42116d" opacity="0.6"/>
<rect x="190.91" y="315.05" width="4.24" height="0.95" fill="#e45064"/>
<rect x="213.43" y="315.05" width="7.82" height="0.95" fill="#40116b" opacity="0.6"/>
<rect x="215.55" y="315.05" width="3.50" height="0.95" fill="#df4d67"/>
<rect x="230.00" y="315.05" width="8.53" height="0.95" fill="#31115b" opacity="0.6"/>
<rect x="232.00" y="315.05" width="5.28" height="0.95" fill="#892780"/>
<rect x="255.64" y="315.05" width="9.46" height="0.95" fill="#35115f" opacity="0.6"/>
<rect x="259.61" y="315.05" width="4.28" height="0.95" fill="#c33e73"/>
<rect x="269.90" y="315.05" width="3.70" height="0.95" fill="#41116c" opacity="0.6"/>
<rect x="270.76" y="315.05" width="2.14" height="0.95" fill="#e24e66"/>
<rect x="192.74" y="316.10" width="8.19" height="0.95" fill="#5b177c" opacity="0.6"/>
<rect x="195.54" y="316.10" width="2.90" height="0.95" fill="#fc9f71"/>
<rect x="214.52" y="316.10" width="5.50" height="0.95" fill="#57157c" opacity="0.6"/>
<rect x="216.39" y="316.10" width="2.41" height="0.95" fill="#fb9067"/>
<rect x="261.61" y="316.10" width="11.99" height="0.95" fill="#54147c" opacity="0.6"/>
<rect x="265.65" y="316.10" width="6.14" height="0.95" fill="#fb8761"/>
<rect x="195.65" y="317.15" width="11.74" height="0.95" fill="#491275" opacity="0.6"/>
<rect x="199.03" y="317.15" width="6.77" height="0.95" fill="#ed6463"/>
<rect x="210.07" y="317.15" width="13.84" height="0.95" fill="#31115b" opacity="0.6"/>
<rect x="214.36" y="317.15" width="6.53" height="0.95" fill="#7d2481"/>
<rect x="241.98" y="317.15" width="12.35" height="0.95" fill="#31115b" opacity="0.6"/>
<rect x="245.36" y="317.15" width="7.51" height="0.95" fill="#7c2380"/>
<rect x="271.94" y="317.15" width="1.66" height="0.95" fill="#62197d" opacity="0.6"/>
<rect x="215.24" y="318.20" width="9.15" height="0.95" fill="#31115b" opacity="0.6"/>
<rect x="218.65" y="318.20" width="4.32" height="0.95" fill="#a9327c"/>
<rect x="253.31" y="318.20" width="12.87" height="0.95" fill="#31115b" opacity="0.6"/>
<rect x="256.04" y="318.20" width="8.42" height="0.95" fill="#701e7f"/>
<rect x="269.83" y="318.20" width="3.77" height="0.95" fill="#62197d" opacity="0.6"/>
<rect x="270.73" y="318.20" width="2.61" height="0.95" fill="#fde4a8"/>
<rect x="203.37" y="319.25" width="7.78" height="0.95" fill="#31115b" opacity="0.6"/>
<rect x="205.25" y="319.25" width="4.13" height="0.95" fill="#641a7e"/>
<rect x="227.49" y="319.25" width="13.19" height="0.95" fill="#31115b" opacity="0.6"/>
<rect x="232.97" y="319.25" width="5.39" height="0.95" fill="#862780"/>
<rect x="243.66" y="319.25" width="8.03" height="0.95" fill="#55147c" opacity="0.6"/>
<rect x="244.92" y="319.25" width="5.45" height="0.95" fill="#fb8a63"/>
<rect x="260.31" y="319.25" width="7.84" height="0.95" fill="#62197d" opacity="0.6"/>
<rect x="262.33" y="319.25" width="4.64" height="0.95" fill="#feb981"/>
<rect x="271.92" y="319.25" width="1.68" height="0.95" fill="#491274" opacity="0.6"/>
<rect x="191.54" y="320.30" width="8.66" height="0.95" fill="#60187d" opacity="0.6"/>
<rect x="192.57" y="320.30" width="5.25" height="0.95" fill="#fdaf7b"/>
<rect x="205.90" y="320.30" width="11.80" height="0.95" fill="#61197d" opacity="0.6"/>
<rect x="208.34" y="320.30" width="7.35" height="0.95" fill="#fdb47e"/>
<rect x="236.91" y="320.30" width="8.15" height="0.95" fill="#62197d" opacity="0.6"/>
<rect x="238.45" y="320.30" width="4.75" height="0.95" fill="#febd84"/>
<rect x="249.33" y="320.30" width="8.85" height="0.95" fill="#62197d" opacity="0.6"/>
<rect x="251.87" y="320.30" width="5.03" height="0.95" fill="#febd84"/>
<rect x="261.88" y="320.30" width="11.72" height="0.95" fill="#56157c" opacity="0.6"/>
<rect x="265.04" y="320.30" width="6.71" height="0.95" fill="#fb9066"/>
<rect x="215.77" y="321.35" width="5.94" height="0.95" fill="#31115b" opacity="0.6"/>
<rect x="216.90" y="321.35" width="2.14" height="0.95" fill="#842681"/>
<rect x="271.36" y="321.35" width="2.24" height="0.95" fill="#5b177c" opacity="0.6"/>
<rect x="272.01" y="321.35" width="1.13" height="0.95" fill="#fca071"/>
<rect x="246.78" y="322.40" width="11.64" height="0.95" fill="#54147c" opacity="0.6"/>
<rect x="250.86" y="322.40" width="4.97" height="0.95" fill="#fb8761"/>
<rect x="269.65" y="322.40" width="3.95" height="0.95" fill="#31115b" opacity="0.6"/>
<rect x="270.04" y="322.40" width="2.25" height="0.95" fill="#912a7f"/>
<rect x="189.96" y="323.45" width="13.83" height="0.95" fill="#62197d" opacity="0.6"/>
<rect x="192.21" y="323.45" width="7.12" height="0.95" fill="#fec68b"/>
<rect x="230.61" y="323.45" width="7.18" height="0.95" fill="#3f116a" opacity="0.6"/>
<rect x="231.88" y="323.45" width="2.65" height="0.95" fill="#dd4c68"/>
<rect x="244.64" y="323.45" width="7.28" height="0.95" fill="#3d1168" opacity="0.6"/>
<rect x="245.86" y="323.45" width="3.36" height="0.95" fill="#d7496a"/>
<rect x="255.92" y="323.45" width="10.93" height="0.95" fill="#4b1276" opacity="0.6"/>
<rect x="257.33" y="323.45" width="4.56" height="0.95" fill="#ef6a63"/>
<rect x="189.86" y="324.50" width="5.73" height="0.95" fill="#3f1169" opacity="0.6"/>
<rect x="191.06" y="324.50" width="2.94" height="0.95" fill="#db4b68"/>
<rect x="198.32" y="324.50" width="9.35" height="0.95" fill="#40116b" opacity="0.6"/>
<rect x="200.57" y="324.50" width="5.27" height="0.95" fill="#e04d66"/>
<rect x="220.89" y="324.50" width="11.48" height="0.95" fill="#62197d" opacity="0.6"/>
<rect x="225.71" y="324.50" width="4.97" height="0.95" fill="#fece93"/>
<rect x="260.64" y="324.50" width="12.96" height="0.95" fill="#31115b" opacity="0.6"/>
<rect x="264.37" y="324.50" width="4.54" height="0.95" fill="#9f2f7d"/>
<rect x="191.08" y="325.55" width="7.62" height="0.95" fill="#31115b" opacity="0.6"/>
<rect x="192.95" y="325.55" width="3.41" height="0.95" fill="#661b7e"/>
<rect x="244.82" y="325.55" width="14.90" height="0.95" fill="#62197d" opacity="0.6"/>
<rect x="251.16" y="325.55" width="5.82" height="0.95" fill="#fdd69a"/>
<rect x="228.79" y="326.60" width="7.52" height="0.95" fill="#3b1166" opacity="0.6"/>
<rect x="229.66" y="326.60" width="3.62" height="0.95" fill="#d3466c"/>
<rect x="243.43" y="326.60" width="15.83" height="0.95" fill="#50127b" opacity="0.6"/>
<rect x="245.20" y="326.60" width="8.94" height="0.95" fill="#f67b62"/>
<rect x="211.73" y="327.65" width="12.48" height="0.95" fill="#5f187d" opacity="0.6"/>
<rect x="214.04" y="327.65" width="6.75" height="0.95" fill="#fdae7a"/>
<rect x="249.15" y="327.65" width="15.53" height="0.95" fill="#59167c" opacity="0.6"/>
<rect x="254.53" y="327.65" width="8.59" height="0.95" fill="#fc996d"/>
<rect x="271.98" y="327.65" width="1.62" height="0.95" fill="#31115b" opacity="0.6"/>
<rect x="203.40" y="328.70" width="5.02" height="0.95" fill="#31115b" opacity="0.6"/>
<rect x="204.22" y="328.70" width="3.20" height="0.95" fill="#691c7e"/>
<rect x="210.89" y="328.70" width="15.16" height="0.95" fill="#31115b" opacity="0.6"/>
<rect x="214.13" y="328.70" width="9.62" height="0.95" fill="#892880"/>
<rect x="228.16" y="328.70" width="10.19" height="0.95" fill="#5e187d" opacity="0.6"/>
<rect x="229.67" y="328.70" width="4.88" height="0.95" fill="#fdaa77"/>
<rect x="257.17" y="328.70" width="15.88" height="0.95" fill="#3d1168" opacity="0.6"/>
<rect x="260.94" y="328.70" width="8.87" height="0.95" fill="#d8496a"/>
<rect x="197.98" y="329.75" width="13.66" height="0.95" fill="#62197d" opacity="0.6"/>
<rect x="201.34" y="329.75" width="9.36" height="0.95" fill="#fdecaf"/>
<rect x="237.88" y="329.75" width="13.61" height="0.95" fill="#471272" opacity="0.6"/>
<rect x="240.32" y="329.75" width="7.66" height="0.95" fill="#eb5e63"/>
<rect x="255.05" y="329.75" width="9.94" height="0.95" fill="#31115b" opacity="0.6"/>
<rect x="255.72" y="329.75" width="6.59" height="0.95" fill="#752080"/>
<rect x="272.81" y="329.75" width="0.79" height="0.95" fill="#56157c" opacity="0.6"/>
<rect x="189.85" y="330.80" width="8.23" height="0.95" fill="#57157c" opacity="0.6"/>
<rect x="192.57" y="330.80" width="3.19" height="0.95" fill="#fc9268"/>
<rect x="220.89" y="330.80" width="7.21" height="0.95" fill="#31115b" opacity="0.6"/>
<rect x="221.79" y="330.80" width="4.07" height="0.95" fill="#792280"/>
<rect x="257.49" y="330.80" width="6.51" height="0.95" fill="#34115e" opacity="0.6"/>
<rect x="259.55" y="330.80" width="3.71" height="0.95" fill="#c13d74"/>
<rect x="248.76" y="331.85" width="11.73" height="0.95" fill="#31115b" opacity="0.6"/>
<rect x="251.55" y="331.85" width="5.65" height="0.95" fill="#661b7e"/>
<rect x="200.69" y="332.90" width="8.43" height="0.95" fill="#31115b" opacity="0.6"/>
<rect x="202.49" y="332.90" width="3.62" height="0.95" fill="#6d1d7f"/>
<rect x="251.89" y="332.90" width="14.42" height="0.95" fill="#371161" opacity="0.6"/>
<rect x="253.80" y="332.90" width="9.95" height="0.95" fill="#c94171"/>
<rect x="188.90" y="333.95" width="10.71" height="0.95" fill="#31115b" opacity="0.6"/>
<rect x="191.41" y="333.95" width="7.35" height="0.95" fill="#ae347b"/>
<rect x="249.91" y="333.95" width="15.38" height="0.95" fill="#5b177c" opacity="0.6"/>
<rect x="252.33" y="333.95" width="8.59" height="0.95" fill="#fc9f71"/>
<rect x="243.33" y="335.00" width="5.57" height="0.95" fill="#3e1169" opacity="0.6"/>
<rect x="244.18" y="335.00" width="3.86" height="0.95" fill="#da4a69"/>
<rect x="254.31" y="335.00" width="8.25" height="0.95" fill="#31115b" opacity="0.6"/>
<rect x="255.94" y="335.00" width="4.09" height="0.95" fill="#b2357a"/>
<rect x="268.84" y="335.00" width="4.76" height="0.95" fill="#62197d" opacity="0.6"/>
<rect x="269.56" y="335.00" width="3.30" height="0.95" fill="#feba82"/>
<rect x="241.25" y="336.05" width="11.24" height="0.95" fill="#55147c" opacity="0.6"/>
<rect x="244.25" y="336.05" width="5.06" height="0.95" fill="#fb8a63"/>
<rect x="261.83" y="336.05" width="6.00" height="0.95" fill="#62197d" opacity="0.6"/>
<rect x="263.92" y="336.05" width="2.36" height="0.95" fill="#fcfbbe"/>
<rect x="204.00" y="337.10" width="10.74" height="0.95" fill="#62197d" opacity="0.6"/>
<rect x="206.00" y="337.10" width="5.43" height="0.95" fill="#fdd79a"/>
<rect x="227.02" y="337.10" width="13.03" height="0.95" fill="#31115b" opacity="0.6"/>
<rect x="230.43" y="337.10" width="8.12" height="0.95" fill="#641a7e"/>
<rect x="199.67" y="338.15" width="13.50" height="0.95" fill="#31115b" opacity="0.6"/>
<rect x="204.19" y="338.15" width="4.79" height="0.95" fill="#6a1c7e"/>
<rect x="255.42" y="338.15" width="12.10" height="0.95" fill="#53137b" opacity="0.6"/>
<rect x="260.52" y="338.15" width="5.40" height="0.95" fill="#fa8361"/>
<rect x="210.60" y="339.20" width="7.23" height="0.95" fill="#62197d" opacity="0.6"/>
<rect x="211.55" y="339.20" width="4.51" height="0.95" fill="#fec287"/>
<rect x="249.42" y="339.20" width="9.79" height="0.95" fill="#5e187d" opacity="0.6"/>
<rect x="251.02" y="339.20" width="4.35" height="0.95" fill="#fdab78"/>
<rect x="221.35" y="342.35" width="15.92" height="0.95" fill="#3d1167" opacity="0.6"/>
<rect x="223.17" y="342.35" width="11.08" height="0.95" fill="#d7486a"/>
<rect x="210.43" y="347.60" width="15.75" height="0.95" fill="#31115b" opacity="0.6"/>
<rect x="213.77" y="347.60" width="8.86" height="0.95" fill="#b1357b"/>
<rect x="228.46" y="347.60" width="6.70" height="0.95" fill="#31115b" opacity="0.6"/>
<rect x="230.06" y="347.60" width="3.86" height="0.95" fill="#711f7f"/>
<rect x="257.36" y="349.70" width="13.59" height="0.95" fill="#491274" opacity="0.6"/>
<rect x="258.80" y="349.70" width="8.29" height="0.95" fill="#ed6363"/>
<rect x="206.59" y="350.75" width="7.47" height="0.95" fill="#31115b" opacity="0.6"/>
<rect x="207.68" y="350.75" width="4.60" height="0.95" fill="#b1357b"/>
<rect x="196.82" y="354.95" width="15.81" height="0.95" fill="#41116c" opacity="0.6"/>
<rect x="199.76" y="354.95" width="8.48" height="0.95" fill="#e24e65"/>
<rect x="242.63" y="359.15" width="6.46" height="0.95" fill="#31115b" opacity="0.6"/>
<rect x="244.46" y="359.15" width="2.93" height="0.95" fill="#952b7e"/>
<rect x="251.17" y="359.15" width="8.77" height="0.95" fill="#31115b" opacity="0.6"/>
<rect x="252.95" y="359.15" width="4.49" height="0.95" fill="#a2307d"/>
<rect x="253.80" y="364.40" width="5.53" height="0.95" fill="#31115b" opacity="0.6"/>
<rect x="254.99" y="364.40" width="3.38" height="0.95" fill="#a4307c"/>
<rect x="255.01" y="365.45" width="11.27" height="0.95" fill="#31115b" opacity="0.6"/>
<rect x="257.53" y="365.45" width="4.09" height="0.95" fill="#772180"/>
<rect x="200.76" y="366.50" width="12.01" height="0.95" fill="#3c1166" opacity="0.6"/>
<rect x="205.18" y="366.50" width="6.12" height="0.95" fill="#d5476b"/>
<rect x="219.35" y="372.80" width="11.83" height="0.95" fill="#31115b" opacity="0.6"/>
<rect x="221.47" y="372.80" width="7.82" height="0.95" fill="#842681"/>
<rect x="249.7" y="377.3" width="21" height="1.9" fill="#fff"/>
<defs><linearGradient id="mg" x1="0" y1="1" x2="0" y2="0"><stop offset="0.0" stop-color="#000004"/><stop offset="0.13" stop-color="#1c1044"/><stop offset="0.25" stop-color="#4f127b"/><stop offset="0.38" stop-color="#812581"/><stop offset="0.5" stop-color="#b5367a"/><stop offset="0.63" stop-color="#e55064"/><stop offset="0.75" stop-color="#fb8761"/><stop offset="0.88" stop-color="#fec287"/><stop offset="1.0" stop-color="#fcfdbf"/></linearGradient></defs>
<rect x="274.2" y="340.4" width="4.6" height="41.3" fill="url(#mg)" stroke="#222" stroke-width="0.3"/>
<text x="282.6" y="344.1" font-size="9.84" text-anchor="start" fill="#000" style="" textLength="10.23" lengthAdjust="spacingAndGlyphs">30</text>
<text x="282.6" y="383.0" font-size="9.84" text-anchor="start" fill="#000" style="" textLength="5.12" lengthAdjust="spacingAndGlyphs">0</text>
<text x="305.2" y="361" font-size="9.2" text-anchor="middle" fill="#111" transform="rotate(-90 305.2 361)">% <tspan style="font-style:italic">&#916;F/F</tspan></text>
<text x="100" y="264.1" font-size="9.84" text-anchor="middle" fill="#000" style="" textLength="35.29" lengthAdjust="spacingAndGlyphs">Baseline</text>
<text x="230.6" y="264.1" font-size="9.84" text-anchor="middle" fill="#000" style="" textLength="41.27" lengthAdjust="spacingAndGlyphs">LY344864</text>
<line x1="13.30" y1="267.80" x2="186.00" y2="267.80" stroke="#333" stroke-width="0.9" />
<line x1="13.30" y1="267.40" x2="13.30" y2="272.40" stroke="#333" stroke-width="0.9" />
<line x1="187.50" y1="267.80" x2="273.80" y2="267.80" stroke="#333" stroke-width="0.9" />
<line x1="187.00" y1="267.40" x2="187.00" y2="272.40" stroke="#222" stroke-width="1.4" />
<line x1="273.80" y1="267.40" x2="273.80" y2="272.40" stroke="#333" stroke-width="0.9" />
<text x="55.9" y="284.8" font-size="9.84" text-anchor="middle" fill="#000" style="" textLength="59.2" lengthAdjust="spacingAndGlyphs">No stimulation</text>
<text x="143.1" y="284.8" font-size="9.84" text-anchor="middle" fill="#000" style="" textLength="36.31" lengthAdjust="spacingAndGlyphs">Brushing</text>
<text x="230.6" y="284.8" font-size="9.84" text-anchor="middle" fill="#000" style="" textLength="59.2" lengthAdjust="spacingAndGlyphs">No stimulation</text>
<text x="9.4" y="336" font-size="9.2" text-anchor="middle" fill="#111" transform="rotate(-90 9.4 336)">DRG <tspan style="font-style:italic">Sst-Cre::GCaMP</tspan></text>
<line x1="72.30" y1="394.60" x2="72.30" y2="422.50" stroke="#444" stroke-width="0.8" />
<line x1="72.30" y1="422.50" x2="278.40" y2="422.50" stroke="#444" stroke-width="0.8" />
<rect x="72.3" y="395.5" width="4.24" height="12.5" fill="#808080" stroke="#444" stroke-width="0.6"/>
<line x1="76.54" y1="401.40" x2="80.60" y2="401.40" stroke="#444" stroke-width="0.7" />
<line x1="80.60" y1="400.00" x2="80.60" y2="402.80" stroke="#444" stroke-width="0.7" />
<rect x="72.3" y="409.5" width="175.51" height="13.0" fill="#808080" stroke="#444" stroke-width="0.6"/>
<line x1="247.81" y1="415.80" x2="269.20" y2="415.80" stroke="#444" stroke-width="0.7" />
<line x1="269.20" y1="414.40" x2="269.20" y2="417.20" stroke="#444" stroke-width="0.7" />
<line x1="72.30" y1="422.50" x2="72.30" y2="425.90" stroke="#444" stroke-width="0.8" />
<text x="72.3" y="436.0" font-size="9.84" text-anchor="middle" fill="#000" style="" textLength="5.12" lengthAdjust="spacingAndGlyphs">0</text>
<line x1="96.95" y1="422.50" x2="96.95" y2="425.90" stroke="#444" stroke-width="0.8" />
<line x1="121.60" y1="422.50" x2="121.60" y2="425.90" stroke="#444" stroke-width="0.8" />
<text x="121.6" y="436.0" font-size="9.84" text-anchor="middle" fill="#000" style="" textLength="10.23" lengthAdjust="spacingAndGlyphs">10</text>
<line x1="146.25" y1="422.50" x2="146.25" y2="425.90" stroke="#444" stroke-width="0.8" />
<line x1="170.90" y1="422.50" x2="170.90" y2="425.90" stroke="#444" stroke-width="0.8" />
<text x="170.89999999999998" y="436.0" font-size="9.84" text-anchor="middle" fill="#000" style="" textLength="10.23" lengthAdjust="spacingAndGlyphs">20</text>
<line x1="195.55" y1="422.50" x2="195.55" y2="425.90" stroke="#444" stroke-width="0.8" />
<line x1="220.20" y1="422.50" x2="220.20" y2="425.90" stroke="#444" stroke-width="0.8" />
<text x="220.2" y="436.0" font-size="9.84" text-anchor="middle" fill="#000" style="" textLength="10.23" lengthAdjust="spacingAndGlyphs">30</text>
<line x1="244.85" y1="422.50" x2="244.85" y2="425.90" stroke="#444" stroke-width="0.8" />
<line x1="269.50" y1="422.50" x2="269.50" y2="425.90" stroke="#444" stroke-width="0.8" />
<text x="269.5" y="436.0" font-size="9.84" text-anchor="middle" fill="#000" style="" textLength="10.23" lengthAdjust="spacingAndGlyphs">40</text>
<text x="67.4" y="405.3" font-size="9.84" text-anchor="end" fill="#000" style="" textLength="43.8" lengthAdjust="spacingAndGlyphs">Brush cells</text>
<text x="67.4" y="419.4" font-size="9.84" text-anchor="end" fill="#000" style="" textLength="64.1" lengthAdjust="spacingAndGlyphs">Non-brush cells</text>
<text x="88.7" y="451.3" font-size="9.84" text-anchor="start" fill="#000" style="" textLength="173.5" lengthAdjust="spacingAndGlyphs">DRG neuron activity after LY344864 (units)</text>
<text x="322.6" y="239.2" font-size="11.00" text-anchor="start" fill="#000" style="font-weight:bold;">e</text>
<g transform="translate(348.5 236.3) scale(1.0)">
<path d="M6.4,3.7 L8.5,-0.2 L9.9,3.5 Z" fill="#f4f4f4" stroke="#333" stroke-width="0.5" stroke-linejoin="round"/>
<g fill="none" stroke="#333" stroke-width="0.55" stroke-linecap="round" stroke-linejoin="round">
<path d="M0.6,7.7 C1.5,6 4,4.5 6.4,3.7 M9.9,3.5 C11.5,3.6 12.8,4 13.8,4.6"/>
<path d="M13.8,9 C13.5,6 15,4.3 17.5,4.3 C20,4.5 21.5,6.5 21.2,9 C20.8,10.5 19.5,11.3 18,11.5"/>
<path d="M19.5,4.5 C24,4.6 27.5,7.5 29,11"/>
<path d="M28.8,11 C32,11.2 36,12.3 38.3,14.3 C39.2,16.3 37.3,18 34,18.1 C32.5,18.1 31.2,17.6 30.6,16.7 M29.8,13 C32,13 35,14.2 36.8,15.6"/>
<path d="M29,11 C30.6,13 31.5,16 31.5,19.2 L31.5,22.5 L31,25"/>
<path d="M31.3,21.3 C27,22.3 22,23.1 17.5,22.4"/>
<path d="M15.6,21.5 C14.2,22.6 13.6,23.7 13.4,25.2"/>
<path d="M0.6,7.7 C0.4,9.3 1.8,10.8 3.2,12.1 C5,14 7,16.2 9,18.5 C10.7,20.3 12.2,21.2 13.5,21.8"/>
<path d="M4.3,10.2 L10,13 M4.8,11.6 L10.5,15 M5.8,13 L10.8,16.7 M7.5,14.5 L11.3,18"/>
<path d="M15.5,12 C16.5,12.3 17.5,12.2 18.5,11.8"/>
</g>
<circle cx="8.4" cy="8.1" r="0.95" fill="#111"/>
<path d="M9.8,24.6 L14.6,25 L14.3,26.5 L10.5,26.7 Z M27.3,25.2 L31.8,25.1 L31.5,26.3 L28,26.5 Z" fill="#333"/>
</g>
<g transform="translate(380 258.2) scale(1.0)" fill="none" stroke="#333" stroke-width="0.55"><line x1="0" y1="0" x2="12.2" y2="0"/><rect x="12.2" y="-1.2" width="19.4" height="2.4" fill="#fff"/><line x1="31.599999999999998" y1="0" x2="34.4" y2="0"/><line x1="34.4" y1="-1.6" x2="34.4" y2="1.6"/></g>
<line x1="389.8" y1="242.3" x2="422.0" y2="242.3" stroke="#222" stroke-width="0.8"/>
<path d="M425.0,242.3 L421.0,240.70000000000002 L421.0,243.9 Z" fill="#222"/>
<text x="388.4" y="254.6" font-size="9.84" text-anchor="start" fill="#000" style="" textLength="40.7" lengthAdjust="spacingAndGlyphs">LY344864</text>
<g transform="translate(432.8 236.0) scale(1.0)"><path d="M0.5,24 C2,21.5 6,21 10,21.3 C14,21.6 18,23.5 24,23.8 C30,23.2 36,22.2 42,22.4 C44.5,23 44.8,25.5 44,27 C43.5,28 44,28.6 42.5,28.8 C30,29.4 12,29.6 1.5,28.6 C-0.3,27.8 0,25.5 0.5,24 Z" fill="url(#mesh)" stroke="#666" stroke-width="0.3"/>
<path d="M0.3,8.1 C1.5,6.5 4,5.2 6.5,4.6 L8.3,0.4 L10.2,4.3 C12,4.2 13.5,4.4 14.5,4.8 C17,4.6 19.5,5 21.5,5.8 C25.5,7 28.5,10.5 30.2,15 C31.5,18.5 31.7,21 31.2,24 L27,24.8 C22,25.2 17,25.2 13,24.6 L11.5,24 C10.8,22 9.8,20.5 8.2,18.2 C6.2,15.6 4,13 2,10.8 C1,10.2 0.1,9.2 0.3,8.1 Z" fill="#fff" stroke="#333" stroke-width="0.55" stroke-linejoin="round"/>
<path d="M6.5,4.6 L8.3,0.4 L10.2,4.3 Z" fill="#eee" stroke="#333" stroke-width="0.45" stroke-linejoin="round"/>
<g fill="none" stroke="#333" stroke-width="0.5" stroke-linecap="round" stroke-linejoin="round">
<path d="M13.6,10.5 C13,7.2 14.6,4.8 17.5,4.7 C20.4,4.8 21.5,7 21,9.5 C20.5,11.3 19,12 17.4,12"/>
<path d="M3.8,11.2 L10,14 M4.3,12.7 L10.2,16.3 M5.3,14.2 L9.5,18.3"/>
<path d="M13,17 C15,18.5 16,20.5 14.5,24.5"/>
<path d="M12,24.3 L11,26 M15,24.6 L14.5,26.3"/>
<path d="M15.2,13 C16.2,13.3 17.2,13.2 18.2,12.8"/>
</g>
<circle cx="8.2" cy="8.3" r="0.95" fill="#111"/>
</g>
<g fill="none" stroke="#333" stroke-width="0.55"><line x1="457.3" y1="264.5" x2="457.3" y2="267.5"/><rect x="456.0" y="267.5" width="2.6" height="5.5" rx="1" fill="#fff"/><line x1="458.6" y1="269.3" x2="487.8" y2="269.3" stroke-width="0.8"/></g>
<text x="491" y="287.3" font-size="9.84" text-anchor="end" fill="#000" style="" textLength="84.8" lengthAdjust="spacingAndGlyphs">Wild-type littermates</text>
<circle cx="497.5" cy="284" r="2.6" fill="#ea00ea"/>
<text x="491" y="298.1" font-size="9.84" text-anchor="end" fill="#000" style="font-style:italic;" textLength="105.1" lengthAdjust="spacingAndGlyphs">Trpv1-Cre::Avil-LSL-TeNT</text>
<circle cx="497.5" cy="294.8" r="2.6" fill="#8c8c8c"/>
<line x1="359.50" y1="309.20" x2="359.50" y2="420.50" stroke="#6a6a6a" stroke-width="0.9" />
<line x1="359.05" y1="420.50" x2="508.80" y2="420.50" stroke="#6a6a6a" stroke-width="0.9" />
<line x1="356.50" y1="309.50" x2="359.50" y2="309.50" stroke="#6a6a6a" stroke-width="0.9" />
<text x="354.2" y="312.8" font-size="9.84" text-anchor="end" fill="#000" style="" textLength="5.12" lengthAdjust="spacingAndGlyphs">1</text>
<line x1="356.50" y1="353.70" x2="359.50" y2="353.70" stroke="#6a6a6a" stroke-width="0.9" />
<text x="354.2" y="357.0" font-size="9.84" text-anchor="end" fill="#000" style="" textLength="12.79" lengthAdjust="spacingAndGlyphs">0.1</text>
<line x1="356.50" y1="397.90" x2="359.50" y2="397.90" stroke="#6a6a6a" stroke-width="0.9" />
<text x="354.2" y="401.2" font-size="9.84" text-anchor="end" fill="#000" style="" textLength="17.9" lengthAdjust="spacingAndGlyphs">0.01</text>
<line x1="366.50" y1="420.50" x2="366.50" y2="423.70" stroke="#6a6a6a" stroke-width="0.9" />
<text x="366.5" y="433.6" font-size="9.84" text-anchor="middle" fill="#000" style="" textLength="5.12" lengthAdjust="spacingAndGlyphs">0</text>
<line x1="383.39" y1="420.50" x2="383.39" y2="423.70" stroke="#6a6a6a" stroke-width="0.9" />
<text x="383.3875" y="433.6" font-size="9.84" text-anchor="middle" fill="#000" style="" textLength="10.23" lengthAdjust="spacingAndGlyphs">15</text>
<line x1="400.27" y1="420.50" x2="400.27" y2="423.70" stroke="#6a6a6a" stroke-width="0.9" />
<text x="400.275" y="433.6" font-size="9.84" text-anchor="middle" fill="#000" style="" textLength="10.23" lengthAdjust="spacingAndGlyphs">30</text>
<line x1="417.16" y1="420.50" x2="417.16" y2="423.70" stroke="#6a6a6a" stroke-width="0.9" />
<text x="417.1625" y="433.6" font-size="9.84" text-anchor="middle" fill="#000" style="" textLength="10.23" lengthAdjust="spacingAndGlyphs">45</text>
<line x1="434.05" y1="420.50" x2="434.05" y2="423.70" stroke="#6a6a6a" stroke-width="0.9" />
<text x="434.05" y="433.6" font-size="9.84" text-anchor="middle" fill="#000" style="" textLength="10.23" lengthAdjust="spacingAndGlyphs">60</text>
<line x1="467.83" y1="420.50" x2="467.83" y2="423.70" stroke="#6a6a6a" stroke-width="0.9" />
<text x="467.82500000000005" y="433.6" font-size="9.84" text-anchor="middle" fill="#000" style="" textLength="10.23" lengthAdjust="spacingAndGlyphs">90</text>
<line x1="505.40" y1="420.50" x2="505.40" y2="423.70" stroke="#6a6a6a" stroke-width="0.9" />
<text x="505.4" y="433.6" font-size="9.84" text-anchor="middle" fill="#000" style="" textLength="15.35" lengthAdjust="spacingAndGlyphs">120</text>
<text x="361.9" y="449.3" font-size="9.84" text-anchor="start" fill="#000" style="" textLength="143.4" lengthAdjust="spacingAndGlyphs">Time after LY344864 injection (min)</text>
<text x="329.7" y="365.0" font-size="9.84" text-anchor="middle" fill="#000" style="" transform="rotate(-90 329.7 365.0)" textLength="95.3" lengthAdjust="spacingAndGlyphs">von Frey withdrawal (g)</text>
<polygon points="381.24,304.85 381.74,306.11 383.09,306.20 382.05,307.06 382.38,308.38 381.24,307.65 380.09,308.38 380.43,307.06 379.38,306.20 380.74,306.11" fill="#000"/>
<polygon points="385.54,304.85 386.04,306.11 387.39,306.20 386.35,307.06 386.68,308.38 385.54,307.65 384.39,308.38 384.73,307.06 383.68,306.20 385.04,306.11" fill="#000"/>
<polygon points="400.27,304.85 400.77,306.11 402.13,306.20 401.08,307.06 401.42,308.38 400.27,307.65 399.13,308.38 399.47,307.06 398.42,306.20 399.78,306.11" fill="#000"/>
<polygon points="415.01,304.85 415.51,306.11 416.87,306.20 415.82,307.06 416.16,308.38 415.01,307.65 413.87,308.38 414.20,307.06 413.16,306.20 414.51,306.11" fill="#000"/>
<polygon points="419.31,304.85 419.81,306.11 421.17,306.20 420.12,307.06 420.46,308.38 419.31,307.65 418.17,308.38 418.50,307.06 417.46,306.20 418.81,306.11" fill="#000"/>
<polygon points="431.90,304.85 432.40,306.11 433.75,306.20 432.71,307.06 433.05,308.38 431.90,307.65 430.75,308.38 431.09,307.06 430.05,306.20 431.40,306.11" fill="#000"/>
<polygon points="436.20,304.85 436.70,306.11 438.05,306.20 437.01,307.06 437.35,308.38 436.20,307.65 435.05,308.38 435.39,307.06 434.35,306.20 435.70,306.11" fill="#000"/>
<polyline points="366.50,327.09 383.39,313.78 400.27,327.09 417.16,327.09 434.05,313.78 501.60,313.78" fill="none" stroke="#b4b4b4" stroke-width="0.5" stroke-linejoin="round" />
<polyline points="366.50,332.61 383.39,327.09 400.27,340.39 417.16,327.09 434.05,340.39 501.60,313.78" fill="none" stroke="#b4b4b4" stroke-width="0.5" stroke-linejoin="round" />
<polyline points="366.50,340.39 383.39,353.70 400.27,353.70 417.16,353.70 434.05,353.70 501.60,332.61" fill="none" stroke="#b4b4b4" stroke-width="0.5" stroke-linejoin="round" />
<polyline points="366.50,327.09 383.39,353.70 400.27,340.39 417.16,340.39 434.05,353.70 501.60,340.39" fill="none" stroke="#b4b4b4" stroke-width="0.5" stroke-linejoin="round" />
<polyline points="366.50,340.39 383.39,340.39 400.27,345.92 417.16,327.09 434.05,353.70 501.60,387.71" fill="none" stroke="#b4b4b4" stroke-width="0.5" stroke-linejoin="round" />
<polyline points="366.50,332.61 383.39,336.11 400.27,353.70 417.16,353.70 434.05,353.70 501.60,353.70" fill="none" stroke="#b4b4b4" stroke-width="0.5" stroke-linejoin="round" />
<polyline points="366.50,327.09 383.39,405.30 400.27,405.30 417.16,405.30 434.05,367.01 501.60,313.78" fill="none" stroke="#f19af1" stroke-width="0.5" stroke-linejoin="round" />
<polyline points="366.50,340.39 383.39,367.01 400.27,405.30 417.16,376.81 434.05,384.59 501.60,313.78" fill="none" stroke="#f19af1" stroke-width="0.5" stroke-linejoin="round" />
<polyline points="366.50,353.70 383.39,405.30 400.27,367.01 417.16,405.30 434.05,405.30 501.60,340.39" fill="none" stroke="#f19af1" stroke-width="0.5" stroke-linejoin="round" />
<polyline points="366.50,345.92 383.39,376.81 400.27,405.30 417.16,367.01 434.05,353.70 501.60,396.07" fill="none" stroke="#f19af1" stroke-width="0.5" stroke-linejoin="round" />
<polyline points="366.50,340.39 383.39,353.70 400.27,384.59 417.16,405.30 434.05,405.30 501.60,388.88" fill="none" stroke="#f19af1" stroke-width="0.5" stroke-linejoin="round" />
<polyline points="366.50,345.92 383.39,405.30 400.27,376.81 417.16,353.70 434.05,367.01 501.60,376.81" fill="none" stroke="#f19af1" stroke-width="0.5" stroke-linejoin="round" />
<polyline points="366.50,327.09 383.39,384.59 400.27,353.70 417.16,384.59 434.05,367.01 501.60,340.39" fill="none" stroke="#f19af1" stroke-width="0.5" stroke-linejoin="round" />
<line x1="366.30" y1="340.00" x2="366.30" y2="344.00" stroke="#ea00ea" stroke-width="0.9" />
<line x1="363.70" y1="340.00" x2="368.90" y2="340.00" stroke="#ea00ea" stroke-width="0.9" />
<line x1="363.70" y1="344.00" x2="368.90" y2="344.00" stroke="#ea00ea" stroke-width="0.9" />
<line x1="383.40" y1="375.30" x2="383.40" y2="393.30" stroke="#ea00ea" stroke-width="0.9" />
<line x1="380.80" y1="375.30" x2="386.00" y2="375.30" stroke="#ea00ea" stroke-width="0.9" />
<line x1="380.80" y1="393.30" x2="386.00" y2="393.30" stroke="#ea00ea" stroke-width="0.9" />
<line x1="400.20" y1="373.20" x2="400.20" y2="392.50" stroke="#ea00ea" stroke-width="0.9" />
<line x1="397.60" y1="373.20" x2="402.80" y2="373.20" stroke="#ea00ea" stroke-width="0.9" />
<line x1="397.60" y1="392.50" x2="402.80" y2="392.50" stroke="#ea00ea" stroke-width="0.9" />
<line x1="417.20" y1="379.20" x2="417.20" y2="393.30" stroke="#ea00ea" stroke-width="0.9" />
<line x1="414.60" y1="379.20" x2="419.80" y2="379.20" stroke="#ea00ea" stroke-width="0.9" />
<line x1="414.60" y1="393.30" x2="419.80" y2="393.30" stroke="#ea00ea" stroke-width="0.9" />
<line x1="434.00" y1="370.40" x2="434.00" y2="383.80" stroke="#ea00ea" stroke-width="0.9" />
<line x1="431.40" y1="370.40" x2="436.60" y2="370.40" stroke="#ea00ea" stroke-width="0.9" />
<line x1="431.40" y1="383.80" x2="436.60" y2="383.80" stroke="#ea00ea" stroke-width="0.9" />
<line x1="501.60" y1="350.10" x2="501.60" y2="373.50" stroke="#ea00ea" stroke-width="0.9" />
<line x1="499.00" y1="350.10" x2="504.20" y2="350.10" stroke="#ea00ea" stroke-width="0.9" />
<line x1="499.00" y1="373.50" x2="504.20" y2="373.50" stroke="#ea00ea" stroke-width="0.9" />
<polyline points="366.30,342.10 383.40,385.00 400.20,382.90 417.20,386.80 434.00,377.10 501.60,362.00" fill="none" stroke="#ea00ea" stroke-width="1.6" stroke-linejoin="round" />
<circle cx="366.3" cy="342.1" r="2.9" fill="#ea00ea"/>
<circle cx="383.4" cy="385.0" r="2.9" fill="#ea00ea"/>
<circle cx="400.2" cy="382.9" r="2.9" fill="#ea00ea"/>
<circle cx="417.2" cy="386.8" r="2.9" fill="#ea00ea"/>
<circle cx="434.0" cy="377.1" r="2.9" fill="#ea00ea"/>
<circle cx="501.6" cy="362.0" r="2.9" fill="#ea00ea"/>
<line x1="366.30" y1="333.40" x2="366.30" y2="341.50" stroke="#444" stroke-width="0.9" />
<line x1="363.70" y1="333.40" x2="368.90" y2="333.40" stroke="#444" stroke-width="0.9" />
<line x1="363.70" y1="341.50" x2="368.90" y2="341.50" stroke="#444" stroke-width="0.9" />
<line x1="383.40" y1="331.80" x2="383.40" y2="351.40" stroke="#444" stroke-width="0.9" />
<line x1="380.80" y1="331.80" x2="386.00" y2="331.80" stroke="#444" stroke-width="0.9" />
<line x1="380.80" y1="351.40" x2="386.00" y2="351.40" stroke="#444" stroke-width="0.9" />
<line x1="400.40" y1="340.40" x2="400.40" y2="351.70" stroke="#444" stroke-width="0.9" />
<line x1="397.80" y1="340.40" x2="403.00" y2="340.40" stroke="#444" stroke-width="0.9" />
<line x1="397.80" y1="351.70" x2="403.00" y2="351.70" stroke="#444" stroke-width="0.9" />
<line x1="417.20" y1="336.40" x2="417.20" y2="347.00" stroke="#444" stroke-width="0.9" />
<line x1="414.60" y1="336.40" x2="419.80" y2="336.40" stroke="#444" stroke-width="0.9" />
<line x1="414.60" y1="347.00" x2="419.80" y2="347.00" stroke="#444" stroke-width="0.9" />
<line x1="434.20" y1="338.40" x2="434.20" y2="353.20" stroke="#444" stroke-width="0.9" />
<line x1="431.60" y1="338.40" x2="436.80" y2="338.40" stroke="#444" stroke-width="0.9" />
<line x1="431.60" y1="353.20" x2="436.80" y2="353.20" stroke="#444" stroke-width="0.9" />
<line x1="501.60" y1="328.10" x2="501.60" y2="350.80" stroke="#444" stroke-width="0.9" />
<line x1="499.00" y1="328.10" x2="504.20" y2="328.10" stroke="#444" stroke-width="0.9" />
<line x1="499.00" y1="350.80" x2="504.20" y2="350.80" stroke="#444" stroke-width="0.9" />
<polyline points="366.30,337.50 383.40,341.70 400.40,346.10 417.20,341.70 434.20,346.10 501.60,339.60" fill="none" stroke="#333" stroke-width="1.4" stroke-linejoin="round" />
<circle cx="366.3" cy="337.5" r="2.9" fill="#8c8c8c"/>
<circle cx="383.4" cy="341.7" r="2.9" fill="#8c8c8c"/>
<circle cx="400.4" cy="346.1" r="2.9" fill="#8c8c8c"/>
<circle cx="417.2" cy="341.7" r="2.9" fill="#8c8c8c"/>
<circle cx="434.2" cy="346.1" r="2.9" fill="#8c8c8c"/>
<circle cx="501.6" cy="339.6" r="2.9" fill="#8c8c8c"/>
<text x="529.0" y="238.8" font-size="11.00" text-anchor="start" fill="#000" style="font-weight:bold;">f</text>
<g transform="translate(533.6 236.5) scale(1.0)">
<path d="M6.4,3.7 L8.5,-0.2 L9.9,3.5 Z" fill="#f4f4f4" stroke="#333" stroke-width="0.5" stroke-linejoin="round"/>
<g fill="none" stroke="#333" stroke-width="0.55" stroke-linecap="round" stroke-linejoin="round">
<path d="M0.6,7.7 C1.5,6 4,4.5 6.4,3.7 M9.9,3.5 C11.5,3.6 12.8,4 13.8,4.6"/>
<path d="M13.8,9 C13.5,6 15,4.3 17.5,4.3 C20,4.5 21.5,6.5 21.2,9 C20.8,10.5 19.5,11.3 18,11.5"/>
<path d="M19.5,4.5 C24,4.6 27.5,7.5 29,11"/>
<path d="M28.8,11 C32,11.2 36,12.3 38.3,14.3 C39.2,16.3 37.3,18 34,18.1 C32.5,18.1 31.2,17.6 30.6,16.7 M29.8,13 C32,13 35,14.2 36.8,15.6"/>
<path d="M29,11 C30.6,13 31.5,16 31.5,19.2 L31.5,22.5 L31,25"/>
<path d="M31.3,21.3 C27,22.3 22,23.1 17.5,22.4"/>
<path d="M15.6,21.5 C14.2,22.6 13.6,23.7 13.4,25.2"/>
<path d="M0.6,7.7 C0.4,9.3 1.8,10.8 3.2,12.1 C5,14 7,16.2 9,18.5 C10.7,20.3 12.2,21.2 13.5,21.8"/>
<path d="M4.3,10.2 L10,13 M4.8,11.6 L10.5,15 M5.8,13 L10.8,16.7 M7.5,14.5 L11.3,18"/>
<path d="M15.5,12 C16.5,12.3 17.5,12.2 18.5,11.8"/>
</g>
<circle cx="8.4" cy="8.1" r="0.95" fill="#111"/>
<path d="M9.8,24.6 L14.6,25 L14.3,26.5 L10.5,26.7 Z M27.3,25.2 L31.8,25.1 L31.5,26.3 L28,26.5 Z" fill="#333"/>
</g>
<g transform="translate(565 258.4) scale(1.0)" fill="none" stroke="#333" stroke-width="0.55"><line x1="0" y1="0" x2="12.3" y2="0"/><rect x="12.3" y="-1.2" width="19.1" height="2.4" fill="#fff"/><line x1="31.400000000000002" y1="0" x2="34.2" y2="0"/><line x1="34.2" y1="-1.6" x2="34.2" y2="1.6"/></g>
<line x1="575.4" y1="242.6" x2="607.1" y2="242.6" stroke="#222" stroke-width="0.8"/>
<path d="M610.1,242.6 L606.1,241.0 L606.1,244.2 Z" fill="#222"/>
<text x="574.6" y="254.6" font-size="9.84" text-anchor="start" fill="#000" style="" textLength="40.8" lengthAdjust="spacingAndGlyphs">LY344864</text>
<g transform="translate(618 236.3) scale(1.0)"><path d="M0.5,24 C2,21.5 6,21 10,21.3 C14,21.6 18,23.5 24,23.8 C30,23.2 36,22.2 42,22.4 C44.5,23 44.8,25.5 44,27 C43.5,28 44,28.6 42.5,28.8 C30,29.4 12,29.6 1.5,28.6 C-0.3,27.8 0,25.5 0.5,24 Z" fill="url(#mesh)" stroke="#666" stroke-width="0.3"/>
<path d="M0.3,8.1 C1.5,6.5 4,5.2 6.5,4.6 L8.3,0.4 L10.2,4.3 C12,4.2 13.5,4.4 14.5,4.8 C17,4.6 19.5,5 21.5,5.8 C25.5,7 28.5,10.5 30.2,15 C31.5,18.5 31.7,21 31.2,24 L27,24.8 C22,25.2 17,25.2 13,24.6 L11.5,24 C10.8,22 9.8,20.5 8.2,18.2 C6.2,15.6 4,13 2,10.8 C1,10.2 0.1,9.2 0.3,8.1 Z" fill="#fff" stroke="#333" stroke-width="0.55" stroke-linejoin="round"/>
<path d="M6.5,4.6 L8.3,0.4 L10.2,4.3 Z" fill="#eee" stroke="#333" stroke-width="0.45" stroke-linejoin="round"/>
<g fill="none" stroke="#333" stroke-width="0.5" stroke-linecap="round" stroke-linejoin="round">
<path d="M13.6,10.5 C13,7.2 14.6,4.8 17.5,4.7 C20.4,4.8 21.5,7 21,9.5 C20.5,11.3 19,12 17.4,12"/>
<path d="M3.8,11.2 L10,14 M4.3,12.7 L10.2,16.3 M5.3,14.2 L9.5,18.3"/>
<path d="M13,17 C15,18.5 16,20.5 14.5,24.5"/>
<path d="M12,24.3 L11,26 M15,24.6 L14.5,26.3"/>
<path d="M15.2,13 C16.2,13.3 17.2,13.2 18.2,12.8"/>
</g>
<circle cx="8.2" cy="8.3" r="0.95" fill="#111"/>
</g>
<g fill="none" stroke="#333" stroke-width="0.55"><line x1="642.2" y1="264.8" x2="642.2" y2="267.8"/><rect x="640.9000000000001" y="267.8" width="2.6" height="5.5" rx="1" fill="#fff"/><line x1="643.5" y1="269.6" x2="685.2" y2="269.6" stroke-width="0.8"/></g>
<text x="608.8" y="292.1" font-size="9.84" text-anchor="middle" fill="#000" style="font-style:italic;" textLength="113.14" lengthAdjust="spacingAndGlyphs">Trpv1-Cre::Avil-FlpO::Rosa-</text>
<text x="608.8" y="303.2" font-size="9.84" text-anchor="middle" fill="#000" style="font-style:italic;" textLength="66.45" lengthAdjust="spacingAndGlyphs">FSF-LSL-KORD</text>
<line x1="584.20" y1="318.00" x2="584.20" y2="436.60" stroke="#b0b0b0" stroke-width="1.0" />
<line x1="581.20" y1="336.00" x2="584.20" y2="336.00" stroke="#999" stroke-width="0.9" />
<text x="579.0" y="339.3" font-size="9.84" text-anchor="end" fill="#000" style="" textLength="5.12" lengthAdjust="spacingAndGlyphs">1</text>
<line x1="581.20" y1="386.10" x2="584.20" y2="386.10" stroke="#999" stroke-width="0.9" />
<text x="579.0" y="389.40000000000003" font-size="9.84" text-anchor="end" fill="#000" style="" textLength="12.79" lengthAdjust="spacingAndGlyphs">0.1</text>
<line x1="581.20" y1="436.20" x2="584.20" y2="436.20" stroke="#999" stroke-width="0.9" />
<text x="579.0" y="439.5" font-size="9.84" text-anchor="end" fill="#000" style="" textLength="17.9" lengthAdjust="spacingAndGlyphs">0.01</text>
<text x="555.4" y="377.5" font-size="9.84" text-anchor="middle" fill="#000" style="" transform="rotate(-90 555.4 377.5)" textLength="94.7" lengthAdjust="spacingAndGlyphs">von Frey withdrawal (g)</text>
<line x1="592.60" y1="319.70" x2="619.70" y2="319.70" stroke="#333" stroke-width="0.8" />
<line x1="592.60" y1="319.30" x2="592.60" y2="322.00" stroke="#333" stroke-width="0.8" />
<line x1="619.70" y1="319.30" x2="619.70" y2="322.00" stroke="#333" stroke-width="0.8" />
<line x1="626.90" y1="319.70" x2="654.00" y2="319.70" stroke="#333" stroke-width="0.8" />
<line x1="626.90" y1="319.30" x2="626.90" y2="322.00" stroke="#333" stroke-width="0.8" />
<line x1="654.00" y1="319.30" x2="654.00" y2="322.00" stroke="#333" stroke-width="0.8" />
<polygon points="604.05,311.25 604.55,312.51 605.90,312.60 604.86,313.46 605.20,314.78 604.05,314.05 602.90,314.78 603.24,313.46 602.20,312.60 603.55,312.51" fill="#000"/>
<polygon points="608.35,311.25 608.85,312.51 610.20,312.60 609.16,313.46 609.50,314.78 608.35,314.05 607.20,314.78 607.54,313.46 606.50,312.60 607.85,312.51" fill="#000"/>
<polygon points="640.50,311.25 641.00,312.51 642.35,312.60 641.31,313.46 641.65,314.78 640.50,314.05 639.35,314.78 639.69,313.46 638.65,312.60 640.00,312.51" fill="#000"/>
<polyline points="593.30,333.93 623.60,382.13 653.70,351.08" fill="none" stroke="#8a8a8a" stroke-width="0.6" stroke-linejoin="round" />
<polyline points="593.30,336.00 623.60,421.12 653.70,324.45" fill="none" stroke="#8a8a8a" stroke-width="0.6" stroke-linejoin="round" />
<polyline points="593.30,334.94 623.60,397.21 653.70,397.21" fill="none" stroke="#8a8a8a" stroke-width="0.6" stroke-linejoin="round" />
<polyline points="593.30,337.12 623.60,403.47 653.70,340.86" fill="none" stroke="#8a8a8a" stroke-width="0.6" stroke-linejoin="round" />
<polyline points="593.30,336.00 623.60,401.18 653.70,336.00" fill="none" stroke="#8a8a8a" stroke-width="0.6" stroke-linejoin="round" />
<polyline points="593.30,333.93 623.60,408.94 653.70,343.76" fill="none" stroke="#8a8a8a" stroke-width="0.6" stroke-linejoin="round" />
<polyline points="593.30,338.29 623.60,399.11 653.70,332.03" fill="none" stroke="#8a8a8a" stroke-width="0.6" stroke-linejoin="round" />
<polyline points="593.30,336.00 623.60,401.00 653.70,340.00" fill="none" stroke="#111" stroke-width="1.25" stroke-linejoin="round" />
<line x1="623.60" y1="398.00" x2="623.60" y2="414.30" stroke="#222" stroke-width="0.8" />
<line x1="621.40" y1="398.00" x2="625.80" y2="398.00" stroke="#222" stroke-width="0.8" />
<line x1="621.40" y1="414.30" x2="625.80" y2="414.30" stroke="#222" stroke-width="0.8" />
<line x1="653.70" y1="336.00" x2="653.70" y2="345.80" stroke="#222" stroke-width="0.8" />
<line x1="651.50" y1="336.00" x2="655.90" y2="336.00" stroke="#222" stroke-width="0.8" />
<line x1="651.50" y1="345.80" x2="655.90" y2="345.80" stroke="#222" stroke-width="0.8" />
<polygon points="593.30,332.50 594.18,334.59 596.44,334.78 594.73,336.26 595.24,338.47 593.30,337.30 591.36,338.47 591.87,336.26 590.16,334.78 592.42,334.59" fill="#c4c4c4"/>
<circle cx="623.6" cy="401.9" r="2.8" fill="#ea00ea"/>
<circle cx="653.7" cy="340.0" r="2.8" fill="#2a7de0"/>
<text x="675.8" y="430.9" font-size="9.84" text-anchor="end" fill="#000" style="" textLength="33.9" lengthAdjust="spacingAndGlyphs">Baseline</text>
<text x="675.8" y="439.8" font-size="9.84" text-anchor="end" fill="#000" style="" textLength="79.1" lengthAdjust="spacingAndGlyphs">LY344864 + vehicle</text>
<text x="675.8" y="449.1" font-size="9.84" text-anchor="end" fill="#000" style="" textLength="70.1" lengthAdjust="spacingAndGlyphs">LY344864 + SalB</text>
<circle cx="681.7" cy="428.4" r="2.5" fill="#c8c8c8"/>
<circle cx="681.7" cy="437.2" r="2.5" fill="#ea00ea"/>
<circle cx="681.7" cy="446.0" r="2.5" fill="#2a7de0"/>
</svg></body></html>
